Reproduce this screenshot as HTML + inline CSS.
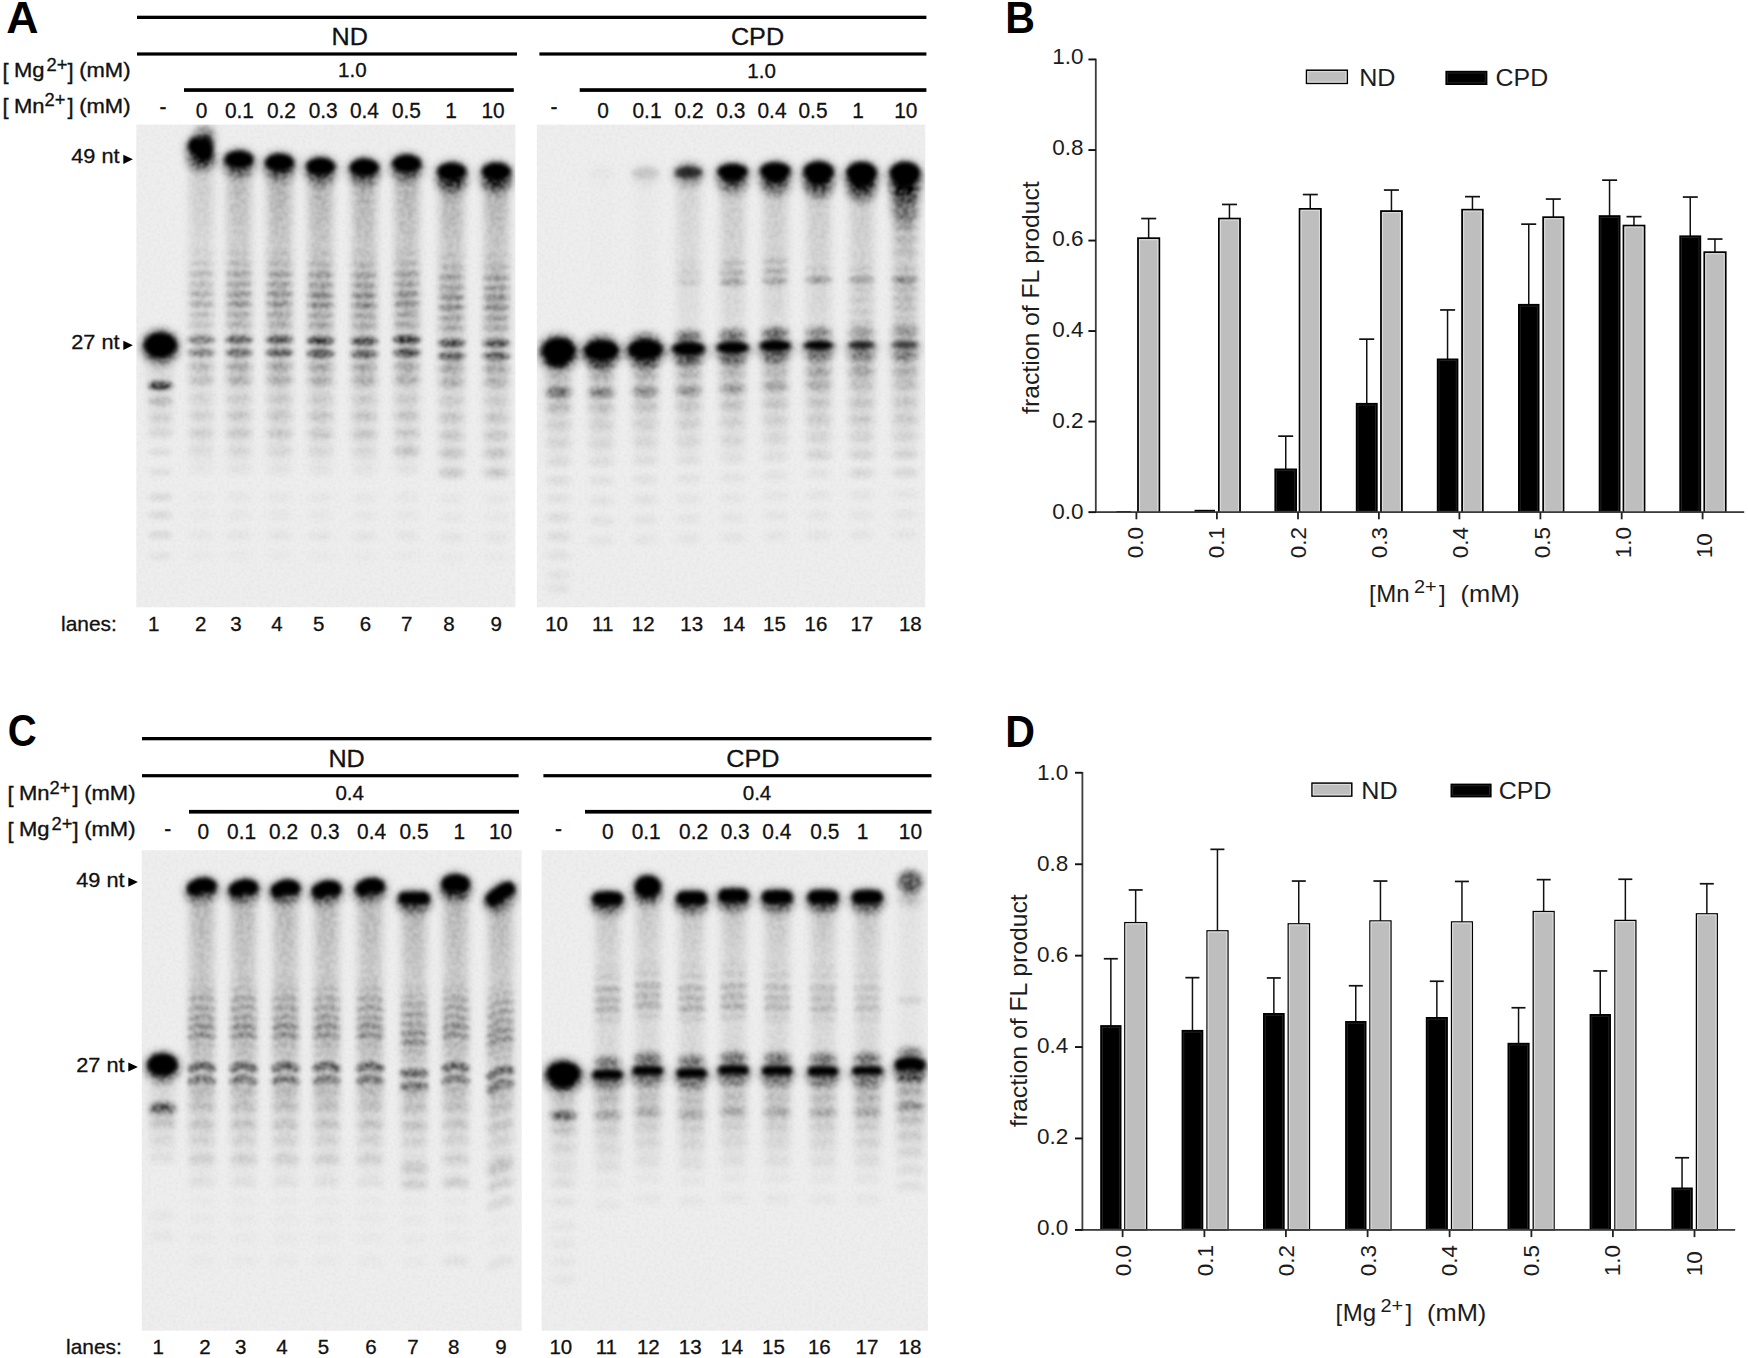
<!DOCTYPE html>
<html lang="en"><head><meta charset="utf-8"><title>Figure</title>
<style>
html,body{margin:0;padding:0;background:#fff}
svg{display:block}
text{font-family:"Liberation Sans",sans-serif}
</style></head><body>
<svg width="1748" height="1358" viewBox="0 0 1748 1358">
<rect width="1748" height="1358" fill="#fff"/>
<text transform="translate(6.3 32.8) scale(1.015 1)" font-size="44" font-weight="bold" fill="#000">A</text>
<text transform="translate(7.7 746.4) scale(0.910 1)" font-size="44" font-weight="bold" fill="#000">C</text>
<text transform="translate(1005.3 32.7) scale(0.935 1)" font-size="44" font-weight="bold" fill="#000">B</text>
<text transform="translate(1005.3 746.6) scale(0.935 1)" font-size="44" font-weight="bold" fill="#000">D</text>
<rect x="137" y="15.7" width="789.4" height="3.3" fill="#000"/>
<rect x="137" y="52.4" width="380" height="3.2" fill="#000"/>
<rect x="539.4" y="52.4" width="387" height="3.2" fill="#000"/>
<rect x="184" y="88.2" width="329.8" height="3.7" fill="#000"/>
<rect x="579.7" y="88.2" width="346.7" height="3.7" fill="#000"/>
<text transform="translate(349.8 45) scale(1.050 1)" font-size="24" text-anchor="middle" stroke="#111" stroke-width="0.3" fill="#111">ND</text>
<text transform="translate(757.5 44.6) scale(1.050 1)" font-size="24" text-anchor="middle" stroke="#111" stroke-width="0.3" fill="#111">CPD</text>
<text transform="translate(352.3 77.4) scale(0.980 1)" font-size="21" text-anchor="middle" stroke="#111" stroke-width="0.3" fill="#111">1.0</text>
<text transform="translate(761.6 77.6) scale(0.980 1)" font-size="21" text-anchor="middle" stroke="#111" stroke-width="0.3" fill="#111">1.0</text>
<text x="2.6" y="78.5" font-size="22" stroke="#111" stroke-width="0.35" fill="#111">[</text>
<text transform="translate(14 77.2) scale(1.100 1)" font-size="20" stroke="#111" stroke-width="0.35" fill="#111">Mg</text>
<text transform="translate(46.6 71) scale(1.020 1)" font-size="18" stroke="#111" stroke-width="0.3" fill="#111">2+</text>
<text x="67.6" y="78.5" font-size="22" stroke="#111" stroke-width="0.35" fill="#111">]</text>
<text transform="translate(79.2 77.2) scale(1.100 1)" font-size="20" stroke="#111" stroke-width="0.35" fill="#111">(mM)</text>
<text x="2.6" y="113.8" font-size="22" stroke="#111" stroke-width="0.35" fill="#111">[</text>
<text transform="translate(14 112.5) scale(1.100 1)" font-size="20" stroke="#111" stroke-width="0.35" fill="#111">Mn</text>
<text transform="translate(44.6 106.3) scale(1.020 1)" font-size="18" stroke="#111" stroke-width="0.3" fill="#111">2+</text>
<text x="67.6" y="113.8" font-size="22" stroke="#111" stroke-width="0.35" fill="#111">]</text>
<text transform="translate(79.2 112.5) scale(1.100 1)" font-size="20" stroke="#111" stroke-width="0.35" fill="#111">(mM)</text>
<text transform="translate(163 113.7) scale(0.950 1)" font-size="22" text-anchor="middle" stroke="#111" stroke-width="0.3" fill="#111">-</text>
<text transform="translate(201.6 117.5) scale(0.950 1)" font-size="22" text-anchor="middle" stroke="#111" stroke-width="0.3" fill="#111">0</text>
<text transform="translate(239.4 117.5) scale(0.950 1)" font-size="22" text-anchor="middle" stroke="#111" stroke-width="0.3" fill="#111">0.1</text>
<text transform="translate(281.4 117.5) scale(0.950 1)" font-size="22" text-anchor="middle" stroke="#111" stroke-width="0.3" fill="#111">0.2</text>
<text transform="translate(323.2 117.5) scale(0.950 1)" font-size="22" text-anchor="middle" stroke="#111" stroke-width="0.3" fill="#111">0.3</text>
<text transform="translate(364.4 117.5) scale(0.950 1)" font-size="22" text-anchor="middle" stroke="#111" stroke-width="0.3" fill="#111">0.4</text>
<text transform="translate(406.4 117.5) scale(0.950 1)" font-size="22" text-anchor="middle" stroke="#111" stroke-width="0.3" fill="#111">0.5</text>
<text transform="translate(451 117.5) scale(0.950 1)" font-size="22" text-anchor="middle" stroke="#111" stroke-width="0.3" fill="#111">1</text>
<text transform="translate(493 117.5) scale(0.950 1)" font-size="22" text-anchor="middle" stroke="#111" stroke-width="0.3" fill="#111">10</text>
<text transform="translate(554 113.7) scale(0.950 1)" font-size="22" text-anchor="middle" stroke="#111" stroke-width="0.3" fill="#111">-</text>
<text transform="translate(603 117.5) scale(0.950 1)" font-size="22" text-anchor="middle" stroke="#111" stroke-width="0.3" fill="#111">0</text>
<text transform="translate(647 117.5) scale(0.950 1)" font-size="22" text-anchor="middle" stroke="#111" stroke-width="0.3" fill="#111">0.1</text>
<text transform="translate(689 117.5) scale(0.950 1)" font-size="22" text-anchor="middle" stroke="#111" stroke-width="0.3" fill="#111">0.2</text>
<text transform="translate(730.8 117.5) scale(0.950 1)" font-size="22" text-anchor="middle" stroke="#111" stroke-width="0.3" fill="#111">0.3</text>
<text transform="translate(772 117.5) scale(0.950 1)" font-size="22" text-anchor="middle" stroke="#111" stroke-width="0.3" fill="#111">0.4</text>
<text transform="translate(813 117.5) scale(0.950 1)" font-size="22" text-anchor="middle" stroke="#111" stroke-width="0.3" fill="#111">0.5</text>
<text transform="translate(858 117.5) scale(0.950 1)" font-size="22" text-anchor="middle" stroke="#111" stroke-width="0.3" fill="#111">1</text>
<text transform="translate(905.8 117.5) scale(0.950 1)" font-size="22" text-anchor="middle" stroke="#111" stroke-width="0.3" fill="#111">10</text>
<text transform="translate(61 631.4) scale(1.020 1)" font-size="20.5" stroke="#111" stroke-width="0.3" fill="#111">lanes:</text>
<text x="153.7" y="631.4" font-size="20.5" text-anchor="middle" stroke="#111" stroke-width="0.3" fill="#111">1</text>
<text x="200.6" y="631.4" font-size="20.5" text-anchor="middle" stroke="#111" stroke-width="0.3" fill="#111">2</text>
<text x="236" y="631.4" font-size="20.5" text-anchor="middle" stroke="#111" stroke-width="0.3" fill="#111">3</text>
<text x="276.9" y="631.4" font-size="20.5" text-anchor="middle" stroke="#111" stroke-width="0.3" fill="#111">4</text>
<text x="318.6" y="631.4" font-size="20.5" text-anchor="middle" stroke="#111" stroke-width="0.3" fill="#111">5</text>
<text x="365.5" y="631.4" font-size="20.5" text-anchor="middle" stroke="#111" stroke-width="0.3" fill="#111">6</text>
<text x="406.8" y="631.4" font-size="20.5" text-anchor="middle" stroke="#111" stroke-width="0.3" fill="#111">7</text>
<text x="449" y="631.4" font-size="20.5" text-anchor="middle" stroke="#111" stroke-width="0.3" fill="#111">8</text>
<text x="496.3" y="631.4" font-size="20.5" text-anchor="middle" stroke="#111" stroke-width="0.3" fill="#111">9</text>
<text x="556.6" y="631.4" font-size="20.5" text-anchor="middle" stroke="#111" stroke-width="0.3" fill="#111">10</text>
<text x="602.7" y="631.4" font-size="20.5" text-anchor="middle" stroke="#111" stroke-width="0.3" fill="#111">11</text>
<text x="643.2" y="631.4" font-size="20.5" text-anchor="middle" stroke="#111" stroke-width="0.3" fill="#111">12</text>
<text x="691.7" y="631.4" font-size="20.5" text-anchor="middle" stroke="#111" stroke-width="0.3" fill="#111">13</text>
<text x="733.8" y="631.4" font-size="20.5" text-anchor="middle" stroke="#111" stroke-width="0.3" fill="#111">14</text>
<text x="774.4" y="631.4" font-size="20.5" text-anchor="middle" stroke="#111" stroke-width="0.3" fill="#111">15</text>
<text x="816" y="631.4" font-size="20.5" text-anchor="middle" stroke="#111" stroke-width="0.3" fill="#111">16</text>
<text x="861.8" y="631.4" font-size="20.5" text-anchor="middle" stroke="#111" stroke-width="0.3" fill="#111">17</text>
<text x="910.3" y="631.4" font-size="20.5" text-anchor="middle" stroke="#111" stroke-width="0.3" fill="#111">18</text>
<text transform="translate(119.5 163.1) scale(1.060 1)" font-size="20.5" text-anchor="end" stroke="#111" stroke-width="0.3" fill="#111">49 nt</text>
<path d="M123.3 154.7 l9.6 4.6 l-9.6 4.6z" fill="#000"/>
<text transform="translate(119.5 349.1) scale(1.060 1)" font-size="20.5" text-anchor="end" stroke="#111" stroke-width="0.3" fill="#111">27 nt</text>
<path d="M123.3 340.7 l9.6 4.6 l-9.6 4.6z" fill="#000"/>
<rect x="142" y="737" width="789.5" height="3.3" fill="#000"/>
<rect x="142" y="774.1" width="376.6" height="3.2" fill="#000"/>
<rect x="543.4" y="774.1" width="388.1" height="3.2" fill="#000"/>
<rect x="189" y="809.9" width="330" height="3.7" fill="#000"/>
<rect x="585" y="809.9" width="346.5" height="3.7" fill="#000"/>
<text transform="translate(346.6 766.6) scale(1.050 1)" font-size="24" text-anchor="middle" stroke="#111" stroke-width="0.3" fill="#111">ND</text>
<text transform="translate(752.8 766.6) scale(1.050 1)" font-size="24" text-anchor="middle" stroke="#111" stroke-width="0.3" fill="#111">CPD</text>
<text transform="translate(349.7 800.4) scale(0.980 1)" font-size="21" text-anchor="middle" stroke="#111" stroke-width="0.3" fill="#111">0.4</text>
<text transform="translate(757 800.4) scale(0.980 1)" font-size="21" text-anchor="middle" stroke="#111" stroke-width="0.3" fill="#111">0.4</text>
<text x="7.6" y="801.7" font-size="22" stroke="#111" stroke-width="0.35" fill="#111">[</text>
<text transform="translate(19 800.4) scale(1.100 1)" font-size="20" stroke="#111" stroke-width="0.35" fill="#111">Mn</text>
<text transform="translate(49.6 794.2) scale(1.020 1)" font-size="18" stroke="#111" stroke-width="0.3" fill="#111">2+</text>
<text x="72.6" y="801.7" font-size="22" stroke="#111" stroke-width="0.35" fill="#111">]</text>
<text transform="translate(84.2 800.4) scale(1.100 1)" font-size="20" stroke="#111" stroke-width="0.35" fill="#111">(mM)</text>
<text x="7.6" y="837.5" font-size="22" stroke="#111" stroke-width="0.35" fill="#111">[</text>
<text transform="translate(19 836.2) scale(1.100 1)" font-size="20" stroke="#111" stroke-width="0.35" fill="#111">Mg</text>
<text transform="translate(51.6 830) scale(1.020 1)" font-size="18" stroke="#111" stroke-width="0.3" fill="#111">2+</text>
<text x="72.6" y="837.5" font-size="22" stroke="#111" stroke-width="0.35" fill="#111">]</text>
<text transform="translate(84.2 836.2) scale(1.100 1)" font-size="20" stroke="#111" stroke-width="0.35" fill="#111">(mM)</text>
<text transform="translate(167.7 835.5) scale(0.950 1)" font-size="22" text-anchor="middle" stroke="#111" stroke-width="0.3" fill="#111">-</text>
<text transform="translate(203.3 839.3) scale(0.950 1)" font-size="22" text-anchor="middle" stroke="#111" stroke-width="0.3" fill="#111">0</text>
<text transform="translate(241.6 839.3) scale(0.950 1)" font-size="22" text-anchor="middle" stroke="#111" stroke-width="0.3" fill="#111">0.1</text>
<text transform="translate(283.6 839.3) scale(0.950 1)" font-size="22" text-anchor="middle" stroke="#111" stroke-width="0.3" fill="#111">0.2</text>
<text transform="translate(325 839.3) scale(0.950 1)" font-size="22" text-anchor="middle" stroke="#111" stroke-width="0.3" fill="#111">0.3</text>
<text transform="translate(371.6 839.3) scale(0.950 1)" font-size="22" text-anchor="middle" stroke="#111" stroke-width="0.3" fill="#111">0.4</text>
<text transform="translate(414 839.3) scale(0.950 1)" font-size="22" text-anchor="middle" stroke="#111" stroke-width="0.3" fill="#111">0.5</text>
<text transform="translate(459.4 839.3) scale(0.950 1)" font-size="22" text-anchor="middle" stroke="#111" stroke-width="0.3" fill="#111">1</text>
<text transform="translate(500.5 839.3) scale(0.950 1)" font-size="22" text-anchor="middle" stroke="#111" stroke-width="0.3" fill="#111">10</text>
<text transform="translate(558.5 835.5) scale(0.950 1)" font-size="22" text-anchor="middle" stroke="#111" stroke-width="0.3" fill="#111">-</text>
<text transform="translate(607.9 839.3) scale(0.950 1)" font-size="22" text-anchor="middle" stroke="#111" stroke-width="0.3" fill="#111">0</text>
<text transform="translate(646.2 839.3) scale(0.950 1)" font-size="22" text-anchor="middle" stroke="#111" stroke-width="0.3" fill="#111">0.1</text>
<text transform="translate(693.6 839.3) scale(0.950 1)" font-size="22" text-anchor="middle" stroke="#111" stroke-width="0.3" fill="#111">0.2</text>
<text transform="translate(735.2 839.3) scale(0.950 1)" font-size="22" text-anchor="middle" stroke="#111" stroke-width="0.3" fill="#111">0.3</text>
<text transform="translate(776.8 839.3) scale(0.950 1)" font-size="22" text-anchor="middle" stroke="#111" stroke-width="0.3" fill="#111">0.4</text>
<text transform="translate(824.8 839.3) scale(0.950 1)" font-size="22" text-anchor="middle" stroke="#111" stroke-width="0.3" fill="#111">0.5</text>
<text transform="translate(862.6 839.3) scale(0.950 1)" font-size="22" text-anchor="middle" stroke="#111" stroke-width="0.3" fill="#111">1</text>
<text transform="translate(910.4 839.3) scale(0.950 1)" font-size="22" text-anchor="middle" stroke="#111" stroke-width="0.3" fill="#111">10</text>
<text transform="translate(66 1353.7) scale(1.020 1)" font-size="20.5" stroke="#111" stroke-width="0.3" fill="#111">lanes:</text>
<text x="158.3" y="1353.7" font-size="20.5" text-anchor="middle" stroke="#111" stroke-width="0.3" fill="#111">1</text>
<text x="205" y="1353.7" font-size="20.5" text-anchor="middle" stroke="#111" stroke-width="0.3" fill="#111">2</text>
<text x="240.7" y="1353.7" font-size="20.5" text-anchor="middle" stroke="#111" stroke-width="0.3" fill="#111">3</text>
<text x="282" y="1353.7" font-size="20.5" text-anchor="middle" stroke="#111" stroke-width="0.3" fill="#111">4</text>
<text x="323.5" y="1353.7" font-size="20.5" text-anchor="middle" stroke="#111" stroke-width="0.3" fill="#111">5</text>
<text x="371" y="1353.7" font-size="20.5" text-anchor="middle" stroke="#111" stroke-width="0.3" fill="#111">6</text>
<text x="413" y="1353.7" font-size="20.5" text-anchor="middle" stroke="#111" stroke-width="0.3" fill="#111">7</text>
<text x="453.7" y="1353.7" font-size="20.5" text-anchor="middle" stroke="#111" stroke-width="0.3" fill="#111">8</text>
<text x="501" y="1353.7" font-size="20.5" text-anchor="middle" stroke="#111" stroke-width="0.3" fill="#111">9</text>
<text x="560.8" y="1353.7" font-size="20.5" text-anchor="middle" stroke="#111" stroke-width="0.3" fill="#111">10</text>
<text x="606.3" y="1353.7" font-size="20.5" text-anchor="middle" stroke="#111" stroke-width="0.3" fill="#111">11</text>
<text x="648.3" y="1353.7" font-size="20.5" text-anchor="middle" stroke="#111" stroke-width="0.3" fill="#111">12</text>
<text x="690.2" y="1353.7" font-size="20.5" text-anchor="middle" stroke="#111" stroke-width="0.3" fill="#111">13</text>
<text x="731.8" y="1353.7" font-size="20.5" text-anchor="middle" stroke="#111" stroke-width="0.3" fill="#111">14</text>
<text x="773.4" y="1353.7" font-size="20.5" text-anchor="middle" stroke="#111" stroke-width="0.3" fill="#111">15</text>
<text x="819.3" y="1353.7" font-size="20.5" text-anchor="middle" stroke="#111" stroke-width="0.3" fill="#111">16</text>
<text x="867" y="1353.7" font-size="20.5" text-anchor="middle" stroke="#111" stroke-width="0.3" fill="#111">17</text>
<text x="909.9" y="1353.7" font-size="20.5" text-anchor="middle" stroke="#111" stroke-width="0.3" fill="#111">18</text>
<text transform="translate(124.5 886.7) scale(1.060 1)" font-size="20.5" text-anchor="end" stroke="#111" stroke-width="0.3" fill="#111">49 nt</text>
<path d="M128.3 877.5 l9.6 4.6 l-9.6 4.6z" fill="#000"/>
<text transform="translate(124.5 1071.6) scale(1.060 1)" font-size="20.5" text-anchor="end" stroke="#111" stroke-width="0.3" fill="#111">27 nt</text>
<path d="M128.3 1062.4 l9.6 4.6 l-9.6 4.6z" fill="#000"/>
<defs>
<filter id="grain" x="0" y="0" width="100%" height="100%"><feTurbulence type="fractalNoise" baseFrequency="0.33" numOctaves="2" seed="3" result="n"/><feColorMatrix type="matrix" values="0 0 0 0 0  0 0 0 0 0  0 0 0 0 0  0.9 0 0 0 -0.32"/></filter>
<filter id="grain2" x="0" y="0" width="100%" height="100%"><feTurbulence type="fractalNoise" baseFrequency="0.3" numOctaves="2" seed="11" result="n"/><feColorMatrix type="matrix" values="0 0 0 0 0  0 0 0 0 0  0 0 0 0 0  1.6 0 0 0 -0.62" result="a"/><feGaussianBlur in="SourceGraphic" stdDeviation="3" result="m"/><feComposite in="a" in2="m" operator="in"/></filter>
</defs>
<defs>
<filter id="bSA1" filterUnits="userSpaceOnUse" x="112.3" y="100.6" width="427.1" height="530.7"><feGaussianBlur stdDeviation="4.2"/></filter>
<filter id="bMA1" filterUnits="userSpaceOnUse" x="112.3" y="100.6" width="427.1" height="530.7"><feGaussianBlur stdDeviation="2.1"/></filter>
<filter id="bKA1" filterUnits="userSpaceOnUse" x="112.3" y="100.6" width="427.1" height="530.7"><feGaussianBlur stdDeviation="2.1"/></filter>
<filter id="bHA1" filterUnits="userSpaceOnUse" x="112.3" y="100.6" width="427.1" height="530.7"><feGaussianBlur stdDeviation="4.5"/></filter>
<filter id="bLA1" filterUnits="userSpaceOnUse" x="112.3" y="100.6" width="427.1" height="530.7"><feGaussianBlur stdDeviation="3.1"/></filter>
<filter id="bFA1" filterUnits="userSpaceOnUse" x="112.3" y="100.6" width="427.1" height="530.7"><feGaussianBlur stdDeviation="1.9"/></filter>
<filter id="sgA1" filterUnits="userSpaceOnUse" x="136.3" y="124.6" width="379.1" height="482.7" color-interpolation-filters="sRGB"><feTurbulence type="fractalNoise" baseFrequency="0.23" numOctaves="2" seed="121" result="t"/><feColorMatrix in="t" type="matrix" values="0 0 0 0 0  0 0 0 0 0  0 0 0 0 0  3.2 0 0 0 -1.1" result="n0"/><feGaussianBlur in="n0" stdDeviation="0.9" result="n"/><feComposite in="SourceGraphic" in2="n" operator="arithmetic" k1="0.44" k2="0.78" k3="0" k4="0"/></filter>
</defs>
<clipPath id="cA1"><rect x="136.3" y="124.6" width="379.1" height="482.7"/></clipPath>
<rect x="136.3" y="124.6" width="379.1" height="482.7" fill="#eeeeee"/>
<g clip-path="url(#cA1)">
<g filter="url(#sgA1)">
<g filter="url(#bSA1)" fill="#000"><rect x="148.4" y="360" width="24" height="13.8" fill-opacity="0.094"/><rect x="148.4" y="373.3" width="24" height="13.8" fill-opacity="0.083"/><rect x="148.4" y="386.7" width="24" height="13.8" fill-opacity="0.071"/><rect x="148.4" y="400" width="24" height="13.8" fill-opacity="0.059"/><rect x="148.4" y="413.3" width="24" height="13.8" fill-opacity="0.047"/><rect x="148.4" y="426.7" width="24" height="13.8" fill-opacity="0.036"/><rect x="189.8" y="156.5" width="23" height="16.1" fill-opacity="0.138"/><rect x="189.8" y="172.1" width="23" height="16.1" fill-opacity="0.128"/><rect x="189.8" y="187.7" width="23" height="16.1" fill-opacity="0.118"/><rect x="189.8" y="203.2" width="23" height="16.1" fill-opacity="0.108"/><rect x="189.8" y="218.8" width="23" height="16.1" fill-opacity="0.098"/><rect x="189.8" y="234.4" width="23" height="16.1" fill-opacity="0.088"/><rect x="189.3" y="250" width="24" height="14.7" fill-opacity="0.083"/><rect x="189.3" y="264.2" width="24" height="14.7" fill-opacity="0.084"/><rect x="189.3" y="278.3" width="24" height="14.7" fill-opacity="0.085"/><rect x="189.3" y="292.5" width="24" height="14.7" fill-opacity="0.086"/><rect x="189.3" y="306.7" width="24" height="14.7" fill-opacity="0.087"/><rect x="189.3" y="320.8" width="24" height="14.7" fill-opacity="0.088"/><rect x="189.3" y="335" width="24" height="23" fill-opacity="0.062"/><rect x="189.3" y="357.5" width="24" height="23" fill-opacity="0.054"/><rect x="189.3" y="380" width="24" height="23" fill-opacity="0.047"/><rect x="189.3" y="402.5" width="24" height="23" fill-opacity="0.039"/><rect x="189.3" y="425" width="24" height="23" fill-opacity="0.032"/><rect x="189.3" y="447.5" width="24" height="23" fill-opacity="0.024"/><rect x="227.5" y="165.5" width="23" height="14.6" fill-opacity="0.213"/><rect x="227.5" y="179.6" width="23" height="14.6" fill-opacity="0.198"/><rect x="227.5" y="193.7" width="23" height="14.6" fill-opacity="0.182"/><rect x="227.5" y="207.8" width="23" height="14.6" fill-opacity="0.166"/><rect x="227.5" y="221.8" width="23" height="14.6" fill-opacity="0.151"/><rect x="227.5" y="235.9" width="23" height="14.6" fill-opacity="0.135"/><rect x="227" y="250" width="24" height="14.7" fill-opacity="0.128"/><rect x="227" y="264.2" width="24" height="14.7" fill-opacity="0.130"/><rect x="227" y="278.3" width="24" height="14.7" fill-opacity="0.131"/><rect x="227" y="292.5" width="24" height="14.7" fill-opacity="0.132"/><rect x="227" y="306.7" width="24" height="14.7" fill-opacity="0.134"/><rect x="227" y="320.8" width="24" height="14.7" fill-opacity="0.135"/><rect x="227" y="335" width="24" height="23" fill-opacity="0.095"/><rect x="227" y="357.5" width="24" height="23" fill-opacity="0.081"/><rect x="227" y="380" width="24" height="23" fill-opacity="0.068"/><rect x="227" y="402.5" width="24" height="23" fill-opacity="0.054"/><rect x="227" y="425" width="24" height="23" fill-opacity="0.041"/><rect x="227" y="447.5" width="24" height="23" fill-opacity="0.027"/><rect x="268.1" y="168.5" width="23" height="14.1" fill-opacity="0.251"/><rect x="268.1" y="182.1" width="23" height="14.1" fill-opacity="0.233"/><rect x="268.1" y="195.7" width="23" height="14.1" fill-opacity="0.214"/><rect x="268.1" y="209.2" width="23" height="14.1" fill-opacity="0.196"/><rect x="268.1" y="222.8" width="23" height="14.1" fill-opacity="0.177"/><rect x="268.1" y="236.4" width="23" height="14.1" fill-opacity="0.159"/><rect x="267.6" y="250" width="24" height="14.7" fill-opacity="0.151"/><rect x="267.6" y="264.2" width="24" height="14.7" fill-opacity="0.152"/><rect x="267.6" y="278.3" width="24" height="14.7" fill-opacity="0.154"/><rect x="267.6" y="292.5" width="24" height="14.7" fill-opacity="0.156"/><rect x="267.6" y="306.7" width="24" height="14.7" fill-opacity="0.158"/><rect x="267.6" y="320.8" width="24" height="14.7" fill-opacity="0.159"/><rect x="267.6" y="335" width="24" height="23" fill-opacity="0.112"/><rect x="267.6" y="357.5" width="24" height="23" fill-opacity="0.095"/><rect x="267.6" y="380" width="24" height="23" fill-opacity="0.078"/><rect x="267.6" y="402.5" width="24" height="23" fill-opacity="0.062"/><rect x="267.6" y="425" width="24" height="23" fill-opacity="0.045"/><rect x="267.6" y="447.5" width="24" height="23" fill-opacity="0.028"/><rect x="309.1" y="172.5" width="23" height="13.4" fill-opacity="0.251"/><rect x="309.1" y="185.4" width="23" height="13.4" fill-opacity="0.233"/><rect x="309.1" y="198.3" width="23" height="13.4" fill-opacity="0.214"/><rect x="309.1" y="211.2" width="23" height="13.4" fill-opacity="0.196"/><rect x="309.1" y="224.2" width="23" height="13.4" fill-opacity="0.177"/><rect x="309.1" y="237.1" width="23" height="13.4" fill-opacity="0.159"/><rect x="308.6" y="250" width="24" height="14.7" fill-opacity="0.151"/><rect x="308.6" y="264.2" width="24" height="14.7" fill-opacity="0.152"/><rect x="308.6" y="278.3" width="24" height="14.7" fill-opacity="0.154"/><rect x="308.6" y="292.5" width="24" height="14.7" fill-opacity="0.156"/><rect x="308.6" y="306.7" width="24" height="14.7" fill-opacity="0.158"/><rect x="308.6" y="320.8" width="24" height="14.7" fill-opacity="0.159"/><rect x="308.6" y="335" width="24" height="23" fill-opacity="0.112"/><rect x="308.6" y="357.5" width="24" height="23" fill-opacity="0.095"/><rect x="308.6" y="380" width="24" height="23" fill-opacity="0.078"/><rect x="308.6" y="402.5" width="24" height="23" fill-opacity="0.062"/><rect x="308.6" y="425" width="24" height="23" fill-opacity="0.045"/><rect x="308.6" y="447.5" width="24" height="23" fill-opacity="0.028"/><rect x="352.8" y="173.5" width="23" height="13.2" fill-opacity="0.251"/><rect x="352.8" y="186.2" width="23" height="13.2" fill-opacity="0.233"/><rect x="352.8" y="199" width="23" height="13.2" fill-opacity="0.214"/><rect x="352.8" y="211.8" width="23" height="13.2" fill-opacity="0.196"/><rect x="352.8" y="224.5" width="23" height="13.2" fill-opacity="0.177"/><rect x="352.8" y="237.2" width="23" height="13.2" fill-opacity="0.159"/><rect x="352.3" y="250" width="24" height="14.7" fill-opacity="0.151"/><rect x="352.3" y="264.2" width="24" height="14.7" fill-opacity="0.152"/><rect x="352.3" y="278.3" width="24" height="14.7" fill-opacity="0.154"/><rect x="352.3" y="292.5" width="24" height="14.7" fill-opacity="0.156"/><rect x="352.3" y="306.7" width="24" height="14.7" fill-opacity="0.158"/><rect x="352.3" y="320.8" width="24" height="14.7" fill-opacity="0.159"/><rect x="352.3" y="335" width="24" height="23" fill-opacity="0.112"/><rect x="352.3" y="357.5" width="24" height="23" fill-opacity="0.095"/><rect x="352.3" y="380" width="24" height="23" fill-opacity="0.078"/><rect x="352.3" y="402.5" width="24" height="23" fill-opacity="0.062"/><rect x="352.3" y="425" width="24" height="23" fill-opacity="0.045"/><rect x="352.3" y="447.5" width="24" height="23" fill-opacity="0.028"/><rect x="395.3" y="169.5" width="23" height="13.9" fill-opacity="0.251"/><rect x="395.3" y="182.9" width="23" height="13.9" fill-opacity="0.233"/><rect x="395.3" y="196.3" width="23" height="13.9" fill-opacity="0.214"/><rect x="395.3" y="209.8" width="23" height="13.9" fill-opacity="0.196"/><rect x="395.3" y="223.2" width="23" height="13.9" fill-opacity="0.177"/><rect x="395.3" y="236.6" width="23" height="13.9" fill-opacity="0.159"/><rect x="394.8" y="250" width="24" height="14.7" fill-opacity="0.151"/><rect x="394.8" y="264.2" width="24" height="14.7" fill-opacity="0.152"/><rect x="394.8" y="278.3" width="24" height="14.7" fill-opacity="0.154"/><rect x="394.8" y="292.5" width="24" height="14.7" fill-opacity="0.156"/><rect x="394.8" y="306.7" width="24" height="14.7" fill-opacity="0.158"/><rect x="394.8" y="320.8" width="24" height="14.7" fill-opacity="0.159"/><rect x="394.8" y="335" width="24" height="23" fill-opacity="0.112"/><rect x="394.8" y="357.5" width="24" height="23" fill-opacity="0.095"/><rect x="394.8" y="380" width="24" height="23" fill-opacity="0.078"/><rect x="394.8" y="402.5" width="24" height="23" fill-opacity="0.062"/><rect x="394.8" y="425" width="24" height="23" fill-opacity="0.045"/><rect x="394.8" y="447.5" width="24" height="23" fill-opacity="0.028"/><rect x="440.2" y="177.5" width="23" height="12.6" fill-opacity="0.251"/><rect x="440.2" y="189.6" width="23" height="12.6" fill-opacity="0.233"/><rect x="440.2" y="201.7" width="23" height="12.6" fill-opacity="0.214"/><rect x="440.2" y="213.8" width="23" height="12.6" fill-opacity="0.196"/><rect x="440.2" y="225.8" width="23" height="12.6" fill-opacity="0.177"/><rect x="440.2" y="237.9" width="23" height="12.6" fill-opacity="0.159"/><rect x="439.7" y="250" width="24" height="14.7" fill-opacity="0.151"/><rect x="439.7" y="264.2" width="24" height="14.7" fill-opacity="0.152"/><rect x="439.7" y="278.3" width="24" height="14.7" fill-opacity="0.154"/><rect x="439.7" y="292.5" width="24" height="14.7" fill-opacity="0.156"/><rect x="439.7" y="306.7" width="24" height="14.7" fill-opacity="0.158"/><rect x="439.7" y="320.8" width="24" height="14.7" fill-opacity="0.159"/><rect x="439.7" y="335" width="24" height="23" fill-opacity="0.112"/><rect x="439.7" y="357.5" width="24" height="23" fill-opacity="0.095"/><rect x="439.7" y="380" width="24" height="23" fill-opacity="0.078"/><rect x="439.7" y="402.5" width="24" height="23" fill-opacity="0.062"/><rect x="439.7" y="425" width="24" height="23" fill-opacity="0.045"/><rect x="439.7" y="447.5" width="24" height="23" fill-opacity="0.028"/><rect x="484.8" y="177.5" width="23" height="12.6" fill-opacity="0.251"/><rect x="484.8" y="189.6" width="23" height="12.6" fill-opacity="0.233"/><rect x="484.8" y="201.7" width="23" height="12.6" fill-opacity="0.214"/><rect x="484.8" y="213.8" width="23" height="12.6" fill-opacity="0.196"/><rect x="484.8" y="225.8" width="23" height="12.6" fill-opacity="0.177"/><rect x="484.8" y="237.9" width="23" height="12.6" fill-opacity="0.159"/><rect x="484.3" y="250" width="24" height="14.7" fill-opacity="0.151"/><rect x="484.3" y="264.2" width="24" height="14.7" fill-opacity="0.152"/><rect x="484.3" y="278.3" width="24" height="14.7" fill-opacity="0.154"/><rect x="484.3" y="292.5" width="24" height="14.7" fill-opacity="0.156"/><rect x="484.3" y="306.7" width="24" height="14.7" fill-opacity="0.158"/><rect x="484.3" y="320.8" width="24" height="14.7" fill-opacity="0.159"/><rect x="484.3" y="335" width="24" height="23" fill-opacity="0.112"/><rect x="484.3" y="357.5" width="24" height="23" fill-opacity="0.095"/><rect x="484.3" y="380" width="24" height="23" fill-opacity="0.078"/><rect x="484.3" y="402.5" width="24" height="23" fill-opacity="0.062"/><rect x="484.3" y="425" width="24" height="23" fill-opacity="0.045"/><rect x="484.3" y="447.5" width="24" height="23" fill-opacity="0.028"/></g>
<g filter="url(#bHA1)" fill="#000" stroke-linecap="round"><ellipse cx="160.4" cy="347.7" rx="18.2" ry="16.2" fill-opacity="0.50"/><ellipse cx="160.4" cy="346" rx="19" ry="17" fill-opacity="0.30"/><path fill="none" stroke="#000" d="M197.8 148.5 Q200.3 152 202.8 155.5" stroke-width="24" stroke-opacity="0.50"/><ellipse cx="204.3" cy="138" rx="10" ry="12" fill-opacity="0.50"/><ellipse cx="201.3" cy="161" rx="13.5" ry="9" fill-opacity="0.55"/><ellipse cx="239" cy="162" rx="16.5" ry="12.5" fill-opacity="0.50"/><ellipse cx="239" cy="169.5" rx="13.5" ry="8" fill-opacity="0.30"/><ellipse cx="279.6" cy="165" rx="16.5" ry="12.5" fill-opacity="0.50"/><ellipse cx="279.6" cy="172.5" rx="13.5" ry="8" fill-opacity="0.30"/><ellipse cx="320.6" cy="169" rx="16.5" ry="12.5" fill-opacity="0.50"/><ellipse cx="320.6" cy="176.5" rx="13.5" ry="8" fill-opacity="0.30"/><ellipse cx="364.3" cy="170" rx="16.5" ry="12.5" fill-opacity="0.50"/><ellipse cx="364.3" cy="177.5" rx="13.5" ry="8" fill-opacity="0.30"/><ellipse cx="406.8" cy="166" rx="16.5" ry="12.5" fill-opacity="0.50"/><ellipse cx="406.8" cy="173.5" rx="13.5" ry="8" fill-opacity="0.30"/><ellipse cx="451.7" cy="174" rx="16.5" ry="12.5" fill-opacity="0.50"/><ellipse cx="451.7" cy="181.5" rx="13.5" ry="8" fill-opacity="0.30"/><ellipse cx="451.7" cy="183.5" rx="14" ry="9" fill-opacity="0.50"/><ellipse cx="496.3" cy="174" rx="16.5" ry="12.5" fill-opacity="0.50"/><ellipse cx="496.3" cy="181.5" rx="13.5" ry="8" fill-opacity="0.30"/><ellipse cx="496.3" cy="183.5" rx="14" ry="9" fill-opacity="0.50"/></g>
<g filter="url(#bMA1)" fill="#000" stroke-linecap="round"><ellipse cx="160.4" cy="385.6" rx="12.5" ry="4.2" fill-opacity="0.72"/><ellipse cx="160.4" cy="401.4" rx="12.5" ry="4.2" fill-opacity="0.16"/><ellipse cx="160.4" cy="418" rx="12.5" ry="4.2" fill-opacity="0.07"/><ellipse cx="160.4" cy="433" rx="12.5" ry="4.2" fill-opacity="0.06"/><ellipse cx="160.4" cy="452" rx="12.5" ry="4.2" fill-opacity="0.06"/><ellipse cx="160.4" cy="472" rx="12.5" ry="4.2" fill-opacity="0.05"/><ellipse cx="160.4" cy="497" rx="12.5" ry="4.2" fill-opacity="0.07"/><ellipse cx="160.4" cy="515" rx="12.5" ry="4.2" fill-opacity="0.07"/><ellipse cx="160.4" cy="535" rx="12.5" ry="4.2" fill-opacity="0.07"/><ellipse cx="160.4" cy="556" rx="12.5" ry="4.2" fill-opacity="0.04"/><ellipse cx="201.3" cy="253" rx="13.5" ry="2.8" fill-opacity="0.03"/><ellipse cx="201.3" cy="263.5" rx="13.5" ry="2.8" fill-opacity="0.08"/><ellipse cx="201.3" cy="274" rx="13.5" ry="2.8" fill-opacity="0.16"/><ellipse cx="201.3" cy="284.3" rx="13.5" ry="2.8" fill-opacity="0.16"/><ellipse cx="201.3" cy="294" rx="13.5" ry="2.8" fill-opacity="0.22"/><ellipse cx="201.3" cy="304" rx="13.5" ry="2.8" fill-opacity="0.22"/><ellipse cx="201.3" cy="314.5" rx="13.5" ry="2.8" fill-opacity="0.13"/><ellipse cx="201.3" cy="324.5" rx="13.5" ry="2.8" fill-opacity="0.11"/><ellipse cx="201.3" cy="339.7" rx="14" ry="4.2" fill-opacity="0.43"/><ellipse cx="201.3" cy="352.7" rx="14" ry="4.2" fill-opacity="0.40"/><ellipse cx="239" cy="253" rx="13.5" ry="2.8" fill-opacity="0.05"/><ellipse cx="239" cy="263.5" rx="13.5" ry="2.8" fill-opacity="0.12"/><ellipse cx="239" cy="274" rx="13.5" ry="2.8" fill-opacity="0.23"/><ellipse cx="239" cy="284.3" rx="13.5" ry="2.8" fill-opacity="0.23"/><ellipse cx="239" cy="294" rx="13.5" ry="2.8" fill-opacity="0.32"/><ellipse cx="239" cy="304" rx="13.5" ry="2.8" fill-opacity="0.32"/><ellipse cx="239" cy="314.5" rx="13.5" ry="2.8" fill-opacity="0.20"/><ellipse cx="239" cy="324.5" rx="13.5" ry="2.8" fill-opacity="0.16"/><ellipse cx="239" cy="339.7" rx="14" ry="4.2" fill-opacity="0.53"/><ellipse cx="239" cy="352.7" rx="14" ry="4.2" fill-opacity="0.48"/><ellipse cx="279.6" cy="253" rx="13.5" ry="2.8" fill-opacity="0.05"/><ellipse cx="279.6" cy="263.5" rx="13.5" ry="2.8" fill-opacity="0.12"/><ellipse cx="279.6" cy="274" rx="13.5" ry="2.8" fill-opacity="0.25"/><ellipse cx="279.6" cy="284.3" rx="13.5" ry="2.8" fill-opacity="0.25"/><ellipse cx="279.6" cy="294" rx="13.5" ry="2.8" fill-opacity="0.34"/><ellipse cx="279.6" cy="304" rx="13.5" ry="2.8" fill-opacity="0.34"/><ellipse cx="279.6" cy="314.5" rx="13.5" ry="2.8" fill-opacity="0.21"/><ellipse cx="279.6" cy="324.5" rx="13.5" ry="2.8" fill-opacity="0.17"/><ellipse cx="279.6" cy="339.7" rx="14" ry="4.2" fill-opacity="0.57"/><ellipse cx="279.6" cy="352.7" rx="14" ry="4.2" fill-opacity="0.52"/><ellipse cx="320.6" cy="254" rx="13.5" ry="2.8" fill-opacity="0.06"/><ellipse cx="320.6" cy="264.5" rx="13.5" ry="2.8" fill-opacity="0.14"/><ellipse cx="320.6" cy="275" rx="13.5" ry="2.8" fill-opacity="0.29"/><ellipse cx="320.6" cy="285.3" rx="13.5" ry="2.8" fill-opacity="0.29"/><ellipse cx="320.6" cy="295" rx="13.5" ry="2.8" fill-opacity="0.40"/><ellipse cx="320.6" cy="305" rx="13.5" ry="2.8" fill-opacity="0.40"/><ellipse cx="320.6" cy="315.5" rx="13.5" ry="2.8" fill-opacity="0.24"/><ellipse cx="320.6" cy="325.5" rx="13.5" ry="2.8" fill-opacity="0.20"/><ellipse cx="320.6" cy="340.7" rx="14" ry="4.2" fill-opacity="0.66"/><ellipse cx="320.6" cy="353.7" rx="14" ry="4.2" fill-opacity="0.61"/><ellipse cx="364.3" cy="254.5" rx="13.5" ry="2.8" fill-opacity="0.05"/><ellipse cx="364.3" cy="265" rx="13.5" ry="2.8" fill-opacity="0.14"/><ellipse cx="364.3" cy="275.5" rx="13.5" ry="2.8" fill-opacity="0.27"/><ellipse cx="364.3" cy="285.8" rx="13.5" ry="2.8" fill-opacity="0.27"/><ellipse cx="364.3" cy="295.5" rx="13.5" ry="2.8" fill-opacity="0.38"/><ellipse cx="364.3" cy="305.5" rx="13.5" ry="2.8" fill-opacity="0.38"/><ellipse cx="364.3" cy="316" rx="13.5" ry="2.8" fill-opacity="0.23"/><ellipse cx="364.3" cy="326" rx="13.5" ry="2.8" fill-opacity="0.19"/><ellipse cx="364.3" cy="341.2" rx="14" ry="4.2" fill-opacity="0.60"/><ellipse cx="364.3" cy="354.2" rx="14" ry="4.2" fill-opacity="0.55"/><ellipse cx="406.8" cy="253" rx="13.5" ry="2.8" fill-opacity="0.05"/><ellipse cx="406.8" cy="263.5" rx="13.5" ry="2.8" fill-opacity="0.13"/><ellipse cx="406.8" cy="274" rx="13.5" ry="2.8" fill-opacity="0.26"/><ellipse cx="406.8" cy="284.3" rx="13.5" ry="2.8" fill-opacity="0.26"/><ellipse cx="406.8" cy="294" rx="13.5" ry="2.8" fill-opacity="0.36"/><ellipse cx="406.8" cy="304" rx="13.5" ry="2.8" fill-opacity="0.36"/><ellipse cx="406.8" cy="314.5" rx="13.5" ry="2.8" fill-opacity="0.22"/><ellipse cx="406.8" cy="324.5" rx="13.5" ry="2.8" fill-opacity="0.18"/><ellipse cx="406.8" cy="339.7" rx="14" ry="4.2" fill-opacity="0.69"/><ellipse cx="406.8" cy="352.7" rx="14" ry="4.2" fill-opacity="0.63"/><ellipse cx="451.7" cy="256.5" rx="13.5" ry="2.8" fill-opacity="0.05"/><ellipse cx="451.7" cy="267" rx="13.5" ry="2.8" fill-opacity="0.13"/><ellipse cx="451.7" cy="277.5" rx="13.5" ry="2.8" fill-opacity="0.26"/><ellipse cx="451.7" cy="287.8" rx="13.5" ry="2.8" fill-opacity="0.26"/><ellipse cx="451.7" cy="297.5" rx="13.5" ry="2.8" fill-opacity="0.36"/><ellipse cx="451.7" cy="307.5" rx="13.5" ry="2.8" fill-opacity="0.36"/><ellipse cx="451.7" cy="318" rx="13.5" ry="2.8" fill-opacity="0.22"/><ellipse cx="451.7" cy="328" rx="13.5" ry="2.8" fill-opacity="0.18"/><ellipse cx="451.7" cy="343.2" rx="14" ry="4.2" fill-opacity="0.60"/><ellipse cx="451.7" cy="356.2" rx="14" ry="4.2" fill-opacity="0.55"/><ellipse cx="496.3" cy="256.5" rx="13.5" ry="2.8" fill-opacity="0.06"/><ellipse cx="496.3" cy="267" rx="13.5" ry="2.8" fill-opacity="0.15"/><ellipse cx="496.3" cy="277.5" rx="13.5" ry="2.8" fill-opacity="0.30"/><ellipse cx="496.3" cy="287.8" rx="13.5" ry="2.8" fill-opacity="0.30"/><ellipse cx="496.3" cy="297.5" rx="13.5" ry="2.8" fill-opacity="0.41"/><ellipse cx="496.3" cy="307.5" rx="13.5" ry="2.8" fill-opacity="0.41"/><ellipse cx="496.3" cy="318" rx="13.5" ry="2.8" fill-opacity="0.25"/><ellipse cx="496.3" cy="328" rx="13.5" ry="2.8" fill-opacity="0.21"/><ellipse cx="496.3" cy="343.2" rx="14" ry="4.2" fill-opacity="0.60"/><ellipse cx="496.3" cy="356.2" rx="14" ry="4.2" fill-opacity="0.55"/></g>
<g filter="url(#bFA1)" fill="#000" stroke-linecap="round"></g>
<g filter="url(#bLA1)" fill="#000" stroke-linecap="round"><ellipse cx="201.3" cy="366.7" rx="13" ry="4.5" fill-opacity="0.20"/><ellipse cx="201.3" cy="380.3" rx="13" ry="4.5" fill-opacity="0.17"/><ellipse cx="201.3" cy="399" rx="13" ry="4.5" fill-opacity="0.07"/><ellipse cx="201.3" cy="415.6" rx="13" ry="4.5" fill-opacity="0.09"/><ellipse cx="201.3" cy="433.4" rx="13" ry="4.5" fill-opacity="0.11"/><ellipse cx="201.3" cy="451.2" rx="13" ry="4.5" fill-opacity="0.05"/><ellipse cx="201.3" cy="471" rx="13" ry="4.5" fill-opacity="0.02"/><ellipse cx="201.3" cy="497" rx="13" ry="4.5" fill-opacity="0.02"/><ellipse cx="201.3" cy="515" rx="13" ry="4.5" fill-opacity="0.02"/><ellipse cx="201.3" cy="535.3" rx="13" ry="4.5" fill-opacity="0.03"/><ellipse cx="201.3" cy="555.5" rx="13" ry="4.5" fill-opacity="0.02"/><ellipse cx="239" cy="366.7" rx="13" ry="4.5" fill-opacity="0.27"/><ellipse cx="239" cy="380.3" rx="13" ry="4.5" fill-opacity="0.23"/><ellipse cx="239" cy="399" rx="13" ry="4.5" fill-opacity="0.09"/><ellipse cx="239" cy="415.6" rx="13" ry="4.5" fill-opacity="0.13"/><ellipse cx="239" cy="433.4" rx="13" ry="4.5" fill-opacity="0.14"/><ellipse cx="239" cy="451.2" rx="13" ry="4.5" fill-opacity="0.07"/><ellipse cx="239" cy="471" rx="13" ry="4.5" fill-opacity="0.03"/><ellipse cx="239" cy="497" rx="13" ry="4.5" fill-opacity="0.03"/><ellipse cx="239" cy="515" rx="13" ry="4.5" fill-opacity="0.03"/><ellipse cx="239" cy="535.3" rx="13" ry="4.5" fill-opacity="0.04"/><ellipse cx="239" cy="555.5" rx="13" ry="4.5" fill-opacity="0.02"/><ellipse cx="279.6" cy="366.7" rx="13" ry="4.5" fill-opacity="0.27"/><ellipse cx="279.6" cy="380.3" rx="13" ry="4.5" fill-opacity="0.23"/><ellipse cx="279.6" cy="399" rx="13" ry="4.5" fill-opacity="0.09"/><ellipse cx="279.6" cy="415.6" rx="13" ry="4.5" fill-opacity="0.13"/><ellipse cx="279.6" cy="433.4" rx="13" ry="4.5" fill-opacity="0.14"/><ellipse cx="279.6" cy="451.2" rx="13" ry="4.5" fill-opacity="0.07"/><ellipse cx="279.6" cy="471" rx="13" ry="4.5" fill-opacity="0.03"/><ellipse cx="279.6" cy="497" rx="13" ry="4.5" fill-opacity="0.03"/><ellipse cx="279.6" cy="515" rx="13" ry="4.5" fill-opacity="0.03"/><ellipse cx="279.6" cy="535.3" rx="13" ry="4.5" fill-opacity="0.04"/><ellipse cx="279.6" cy="555.5" rx="13" ry="4.5" fill-opacity="0.02"/><ellipse cx="320.6" cy="367.3" rx="13" ry="4.5" fill-opacity="0.27"/><ellipse cx="320.6" cy="380.9" rx="13" ry="4.5" fill-opacity="0.23"/><ellipse cx="320.6" cy="399.6" rx="13" ry="4.5" fill-opacity="0.09"/><ellipse cx="320.6" cy="416.2" rx="13" ry="4.5" fill-opacity="0.13"/><ellipse cx="320.6" cy="434" rx="13" ry="4.5" fill-opacity="0.14"/><ellipse cx="320.6" cy="451.8" rx="13" ry="4.5" fill-opacity="0.07"/><ellipse cx="320.6" cy="471.6" rx="13" ry="4.5" fill-opacity="0.03"/><ellipse cx="320.6" cy="497.6" rx="13" ry="4.5" fill-opacity="0.03"/><ellipse cx="320.6" cy="515.6" rx="13" ry="4.5" fill-opacity="0.03"/><ellipse cx="320.6" cy="535.9" rx="13" ry="4.5" fill-opacity="0.04"/><ellipse cx="320.6" cy="556.1" rx="13" ry="4.5" fill-opacity="0.02"/><ellipse cx="364.3" cy="367.6" rx="13" ry="4.5" fill-opacity="0.27"/><ellipse cx="364.3" cy="381.2" rx="13" ry="4.5" fill-opacity="0.23"/><ellipse cx="364.3" cy="399.9" rx="13" ry="4.5" fill-opacity="0.09"/><ellipse cx="364.3" cy="416.5" rx="13" ry="4.5" fill-opacity="0.13"/><ellipse cx="364.3" cy="434.3" rx="13" ry="4.5" fill-opacity="0.14"/><ellipse cx="364.3" cy="452.1" rx="13" ry="4.5" fill-opacity="0.07"/><ellipse cx="364.3" cy="471.9" rx="13" ry="4.5" fill-opacity="0.03"/><ellipse cx="364.3" cy="497.9" rx="13" ry="4.5" fill-opacity="0.03"/><ellipse cx="364.3" cy="515.9" rx="13" ry="4.5" fill-opacity="0.03"/><ellipse cx="364.3" cy="536.2" rx="13" ry="4.5" fill-opacity="0.04"/><ellipse cx="364.3" cy="556.4" rx="13" ry="4.5" fill-opacity="0.02"/><ellipse cx="406.8" cy="366.7" rx="13" ry="4.5" fill-opacity="0.27"/><ellipse cx="406.8" cy="380.3" rx="13" ry="4.5" fill-opacity="0.23"/><ellipse cx="406.8" cy="399" rx="13" ry="4.5" fill-opacity="0.09"/><ellipse cx="406.8" cy="415.6" rx="13" ry="4.5" fill-opacity="0.13"/><ellipse cx="406.8" cy="433.4" rx="13" ry="4.5" fill-opacity="0.14"/><ellipse cx="406.8" cy="451.2" rx="13" ry="4.5" fill-opacity="0.17"/><ellipse cx="406.8" cy="471" rx="13" ry="4.5" fill-opacity="0.03"/><ellipse cx="406.8" cy="497" rx="13" ry="4.5" fill-opacity="0.03"/><ellipse cx="406.8" cy="515" rx="13" ry="4.5" fill-opacity="0.03"/><ellipse cx="406.8" cy="535.3" rx="13" ry="4.5" fill-opacity="0.04"/><ellipse cx="406.8" cy="555.5" rx="13" ry="4.5" fill-opacity="0.02"/><ellipse cx="451.7" cy="368.8" rx="13" ry="4.5" fill-opacity="0.27"/><ellipse cx="451.7" cy="382.4" rx="13" ry="4.5" fill-opacity="0.23"/><ellipse cx="451.7" cy="401.1" rx="13" ry="4.5" fill-opacity="0.09"/><ellipse cx="451.7" cy="417.7" rx="13" ry="4.5" fill-opacity="0.13"/><ellipse cx="451.7" cy="435.5" rx="13" ry="4.5" fill-opacity="0.14"/><ellipse cx="451.7" cy="453.3" rx="13" ry="4.5" fill-opacity="0.17"/><ellipse cx="451.7" cy="473.1" rx="13" ry="4.5" fill-opacity="0.17"/><ellipse cx="451.7" cy="499.1" rx="13" ry="4.5" fill-opacity="0.03"/><ellipse cx="451.7" cy="517.1" rx="13" ry="4.5" fill-opacity="0.03"/><ellipse cx="451.7" cy="537.4" rx="13" ry="4.5" fill-opacity="0.04"/><ellipse cx="451.7" cy="557.6" rx="13" ry="4.5" fill-opacity="0.02"/><ellipse cx="496.3" cy="368.8" rx="13" ry="4.5" fill-opacity="0.27"/><ellipse cx="496.3" cy="382.4" rx="13" ry="4.5" fill-opacity="0.23"/><ellipse cx="496.3" cy="401.1" rx="13" ry="4.5" fill-opacity="0.09"/><ellipse cx="496.3" cy="417.7" rx="13" ry="4.5" fill-opacity="0.13"/><ellipse cx="496.3" cy="435.5" rx="13" ry="4.5" fill-opacity="0.14"/><ellipse cx="496.3" cy="453.3" rx="13" ry="4.5" fill-opacity="0.17"/><ellipse cx="496.3" cy="473.1" rx="13" ry="4.5" fill-opacity="0.17"/><ellipse cx="496.3" cy="499.1" rx="13" ry="4.5" fill-opacity="0.03"/><ellipse cx="496.3" cy="517.1" rx="13" ry="4.5" fill-opacity="0.03"/><ellipse cx="496.3" cy="537.4" rx="13" ry="4.5" fill-opacity="0.04"/><ellipse cx="496.3" cy="557.6" rx="13" ry="4.5" fill-opacity="0.02"/></g>
</g>
<g filter="url(#bKA1)" fill="#000" stroke-linecap="round"><ellipse cx="160.4" cy="345.2" rx="16.2" ry="12.8" fill-opacity="1.00"/><ellipse cx="160.4" cy="345.2" rx="14.2" ry="10.8" fill-opacity="1.00"/><path fill="none" stroke="#000" d="M196.3 146 Q200.3 149.5 204.3 153" stroke-width="17" stroke-opacity="1.00"/><path fill="none" stroke="#000" d="M196.3 146 Q200.3 149.5 204.3 153" stroke-width="13" stroke-opacity="1.00"/><ellipse cx="205.3" cy="146" rx="8" ry="10" fill-opacity="0.90"/><ellipse cx="239" cy="159.5" rx="14.5" ry="9" fill-opacity="1.00"/><ellipse cx="239" cy="159.5" rx="12.5" ry="7" fill-opacity="1.00"/><ellipse cx="279.6" cy="162.5" rx="14.5" ry="9" fill-opacity="1.00"/><ellipse cx="279.6" cy="162.5" rx="12.5" ry="7" fill-opacity="1.00"/><ellipse cx="320.6" cy="166.5" rx="14.5" ry="9" fill-opacity="1.00"/><ellipse cx="320.6" cy="166.5" rx="12.5" ry="7" fill-opacity="1.00"/><ellipse cx="364.3" cy="167.5" rx="14.5" ry="9" fill-opacity="1.00"/><ellipse cx="364.3" cy="167.5" rx="12.5" ry="7" fill-opacity="1.00"/><ellipse cx="406.8" cy="163.5" rx="14.5" ry="9" fill-opacity="1.00"/><ellipse cx="406.8" cy="163.5" rx="12.5" ry="7" fill-opacity="1.00"/><ellipse cx="451.7" cy="171.5" rx="14.5" ry="9" fill-opacity="1.00"/><ellipse cx="451.7" cy="171.5" rx="12.5" ry="7" fill-opacity="1.00"/><ellipse cx="496.3" cy="171.5" rx="14.5" ry="9" fill-opacity="1.00"/><ellipse cx="496.3" cy="171.5" rx="12.5" ry="7" fill-opacity="1.00"/></g>
<rect x="136.3" y="124.6" width="379.1" height="482.7" filter="url(#grain)" opacity="0.06"/>
</g>
<defs>
<filter id="bSA2" filterUnits="userSpaceOnUse" x="512.8" y="100.6" width="436.5" height="530.7"><feGaussianBlur stdDeviation="4.2"/></filter>
<filter id="bMA2" filterUnits="userSpaceOnUse" x="512.8" y="100.6" width="436.5" height="530.7"><feGaussianBlur stdDeviation="2.1"/></filter>
<filter id="bKA2" filterUnits="userSpaceOnUse" x="512.8" y="100.6" width="436.5" height="530.7"><feGaussianBlur stdDeviation="2.1"/></filter>
<filter id="bHA2" filterUnits="userSpaceOnUse" x="512.8" y="100.6" width="436.5" height="530.7"><feGaussianBlur stdDeviation="4.5"/></filter>
<filter id="bLA2" filterUnits="userSpaceOnUse" x="512.8" y="100.6" width="436.5" height="530.7"><feGaussianBlur stdDeviation="3.1"/></filter>
<filter id="bFA2" filterUnits="userSpaceOnUse" x="512.8" y="100.6" width="436.5" height="530.7"><feGaussianBlur stdDeviation="1.9"/></filter>
<filter id="sgA2" filterUnits="userSpaceOnUse" x="536.8" y="124.6" width="388.5" height="482.7" color-interpolation-filters="sRGB"><feTurbulence type="fractalNoise" baseFrequency="0.23" numOctaves="2" seed="122" result="t"/><feColorMatrix in="t" type="matrix" values="0 0 0 0 0  0 0 0 0 0  0 0 0 0 0  3.2 0 0 0 -1.1" result="n0"/><feGaussianBlur in="n0" stdDeviation="0.9" result="n"/><feComposite in="SourceGraphic" in2="n" operator="arithmetic" k1="0.44" k2="0.78" k3="0" k4="0"/></filter>
</defs>
<clipPath id="cA2"><rect x="536.8" y="124.6" width="388.5" height="482.7"/></clipPath>
<rect x="536.8" y="124.6" width="388.5" height="482.7" fill="#eeeeee"/>
<g clip-path="url(#cA2)">
<g filter="url(#sgA2)">
<g filter="url(#bSA2)" fill="#000"><rect x="546.6" y="358.5" width="24" height="17.5" fill-opacity="0.130"/><rect x="546.6" y="375.5" width="24" height="17.5" fill-opacity="0.110"/><rect x="546.6" y="392.5" width="24" height="17.5" fill-opacity="0.090"/><rect x="546.6" y="409.5" width="24" height="17.5" fill-opacity="0.070"/><rect x="546.6" y="426.5" width="24" height="17.5" fill-opacity="0.050"/><rect x="546.6" y="443.5" width="24" height="17.5" fill-opacity="0.030"/><rect x="589.4" y="358.5" width="24" height="17.5" fill-opacity="0.130"/><rect x="589.4" y="375.5" width="24" height="17.5" fill-opacity="0.110"/><rect x="589.4" y="392.5" width="24" height="17.5" fill-opacity="0.090"/><rect x="589.4" y="409.5" width="24" height="17.5" fill-opacity="0.070"/><rect x="589.4" y="426.5" width="24" height="17.5" fill-opacity="0.050"/><rect x="589.4" y="443.5" width="24" height="17.5" fill-opacity="0.030"/><rect x="589.9" y="182" width="23" height="26" fill-opacity="0.002"/><rect x="589.9" y="207.5" width="23" height="26" fill-opacity="0.002"/><rect x="589.9" y="233" width="23" height="26" fill-opacity="0.002"/><rect x="589.9" y="258.5" width="23" height="26" fill-opacity="0.002"/><rect x="589.9" y="284" width="23" height="26" fill-opacity="0.001"/><rect x="589.9" y="309.5" width="23" height="26" fill-opacity="0.001"/><rect x="633.3" y="357.5" width="24" height="17.5" fill-opacity="0.130"/><rect x="633.3" y="374.5" width="24" height="17.5" fill-opacity="0.110"/><rect x="633.3" y="391.5" width="24" height="17.5" fill-opacity="0.090"/><rect x="633.3" y="408.5" width="24" height="17.5" fill-opacity="0.070"/><rect x="633.3" y="425.5" width="24" height="17.5" fill-opacity="0.050"/><rect x="633.3" y="442.5" width="24" height="17.5" fill-opacity="0.030"/><rect x="633.8" y="182" width="23" height="26" fill-opacity="0.014"/><rect x="633.8" y="207.5" width="23" height="26" fill-opacity="0.013"/><rect x="633.8" y="233" width="23" height="26" fill-opacity="0.011"/><rect x="633.8" y="258.5" width="23" height="26" fill-opacity="0.010"/><rect x="633.8" y="284" width="23" height="26" fill-opacity="0.009"/><rect x="633.8" y="309.5" width="23" height="26" fill-opacity="0.008"/><rect x="676.6" y="356.8" width="24" height="17.5" fill-opacity="0.130"/><rect x="676.6" y="373.8" width="24" height="17.5" fill-opacity="0.110"/><rect x="676.6" y="390.8" width="24" height="17.5" fill-opacity="0.090"/><rect x="676.6" y="407.8" width="24" height="17.5" fill-opacity="0.070"/><rect x="676.6" y="424.8" width="24" height="17.5" fill-opacity="0.050"/><rect x="676.6" y="441.8" width="24" height="17.5" fill-opacity="0.030"/><rect x="677.1" y="182" width="23" height="26" fill-opacity="0.097"/><rect x="677.1" y="207.5" width="23" height="26" fill-opacity="0.088"/><rect x="677.1" y="233" width="23" height="26" fill-opacity="0.080"/><rect x="677.1" y="258.5" width="23" height="26" fill-opacity="0.071"/><rect x="677.1" y="284" width="23" height="26" fill-opacity="0.062"/><rect x="677.1" y="309.5" width="23" height="26" fill-opacity="0.053"/><rect x="720.6" y="355.5" width="24" height="17.5" fill-opacity="0.130"/><rect x="720.6" y="372.5" width="24" height="17.5" fill-opacity="0.110"/><rect x="720.6" y="389.5" width="24" height="17.5" fill-opacity="0.090"/><rect x="720.6" y="406.5" width="24" height="17.5" fill-opacity="0.070"/><rect x="720.6" y="423.5" width="24" height="17.5" fill-opacity="0.050"/><rect x="720.6" y="440.5" width="24" height="17.5" fill-opacity="0.030"/><rect x="721.1" y="182" width="23" height="26" fill-opacity="0.139"/><rect x="721.1" y="207.5" width="23" height="26" fill-opacity="0.126"/><rect x="721.1" y="233" width="23" height="26" fill-opacity="0.114"/><rect x="721.1" y="258.5" width="23" height="26" fill-opacity="0.101"/><rect x="721.1" y="284" width="23" height="26" fill-opacity="0.089"/><rect x="721.1" y="309.5" width="23" height="26" fill-opacity="0.076"/><rect x="763.3" y="353.7" width="24" height="17.5" fill-opacity="0.130"/><rect x="763.3" y="370.7" width="24" height="17.5" fill-opacity="0.110"/><rect x="763.3" y="387.7" width="24" height="17.5" fill-opacity="0.090"/><rect x="763.3" y="404.7" width="24" height="17.5" fill-opacity="0.070"/><rect x="763.3" y="421.7" width="24" height="17.5" fill-opacity="0.050"/><rect x="763.3" y="438.7" width="24" height="17.5" fill-opacity="0.030"/><rect x="763.8" y="182" width="23" height="26" fill-opacity="0.139"/><rect x="763.8" y="207.5" width="23" height="26" fill-opacity="0.126"/><rect x="763.8" y="233" width="23" height="26" fill-opacity="0.114"/><rect x="763.8" y="258.5" width="23" height="26" fill-opacity="0.101"/><rect x="763.8" y="284" width="23" height="26" fill-opacity="0.089"/><rect x="763.8" y="309.5" width="23" height="26" fill-opacity="0.076"/><rect x="806.6" y="353.3" width="24" height="17.5" fill-opacity="0.130"/><rect x="806.6" y="370.3" width="24" height="17.5" fill-opacity="0.110"/><rect x="806.6" y="387.3" width="24" height="17.5" fill-opacity="0.090"/><rect x="806.6" y="404.3" width="24" height="17.5" fill-opacity="0.070"/><rect x="806.6" y="421.3" width="24" height="17.5" fill-opacity="0.050"/><rect x="806.6" y="438.3" width="24" height="17.5" fill-opacity="0.030"/><rect x="807.1" y="182" width="23" height="26" fill-opacity="0.139"/><rect x="807.1" y="207.5" width="23" height="26" fill-opacity="0.126"/><rect x="807.1" y="233" width="23" height="26" fill-opacity="0.114"/><rect x="807.1" y="258.5" width="23" height="26" fill-opacity="0.101"/><rect x="807.1" y="284" width="23" height="26" fill-opacity="0.089"/><rect x="807.1" y="309.5" width="23" height="26" fill-opacity="0.076"/><rect x="849.6" y="353" width="24" height="17.5" fill-opacity="0.130"/><rect x="849.6" y="370" width="24" height="17.5" fill-opacity="0.110"/><rect x="849.6" y="387" width="24" height="17.5" fill-opacity="0.090"/><rect x="849.6" y="404" width="24" height="17.5" fill-opacity="0.070"/><rect x="849.6" y="421" width="24" height="17.5" fill-opacity="0.050"/><rect x="849.6" y="438" width="24" height="17.5" fill-opacity="0.030"/><rect x="850.1" y="182" width="23" height="26" fill-opacity="0.139"/><rect x="850.1" y="207.5" width="23" height="26" fill-opacity="0.126"/><rect x="850.1" y="233" width="23" height="26" fill-opacity="0.114"/><rect x="850.1" y="258.5" width="23" height="26" fill-opacity="0.101"/><rect x="850.1" y="284" width="23" height="26" fill-opacity="0.089"/><rect x="850.1" y="309.5" width="23" height="26" fill-opacity="0.076"/><rect x="893" y="352.6" width="24" height="17.5" fill-opacity="0.130"/><rect x="893" y="369.6" width="24" height="17.5" fill-opacity="0.110"/><rect x="893" y="386.6" width="24" height="17.5" fill-opacity="0.090"/><rect x="893" y="403.6" width="24" height="17.5" fill-opacity="0.070"/><rect x="893" y="420.6" width="24" height="17.5" fill-opacity="0.050"/><rect x="893" y="437.6" width="24" height="17.5" fill-opacity="0.030"/><rect x="893.5" y="182" width="23" height="26" fill-opacity="0.194"/><rect x="893.5" y="207.5" width="23" height="26" fill-opacity="0.171"/><rect x="893.5" y="233" width="23" height="26" fill-opacity="0.149"/><rect x="893.5" y="258.5" width="23" height="26" fill-opacity="0.126"/><rect x="893.5" y="284" width="23" height="26" fill-opacity="0.104"/><rect x="893.5" y="309.5" width="23" height="26" fill-opacity="0.081"/></g>
<g filter="url(#bHA2)" fill="#000" stroke-linecap="round"><ellipse cx="558.6" cy="353" rx="18.5" ry="16" fill-opacity="0.50"/><ellipse cx="558.6" cy="352.5" rx="20" ry="18" fill-opacity="0.40"/><ellipse cx="601.4" cy="353" rx="19" ry="13.8" fill-opacity="0.50"/><ellipse cx="601.4" cy="351.5" rx="20" ry="15" fill-opacity="0.40"/><ellipse cx="601.4" cy="175" rx="15" ry="11" fill-opacity="0.01"/><ellipse cx="645.3" cy="352" rx="19" ry="13.5" fill-opacity="0.50"/><ellipse cx="645.3" cy="350.5" rx="20" ry="15" fill-opacity="0.40"/><ellipse cx="645.3" cy="175" rx="15" ry="11" fill-opacity="0.06"/><ellipse cx="688.6" cy="351.3" rx="18.5" ry="10.8" fill-opacity="0.50"/><ellipse cx="688.6" cy="174.3" rx="15" ry="11" fill-opacity="0.42"/><ellipse cx="732.6" cy="350" rx="18" ry="9.8" fill-opacity="0.50"/><ellipse cx="732.6" cy="174" rx="17.2" ry="11.2" fill-opacity="0.50"/><ellipse cx="732.6" cy="184.5" rx="14.5" ry="9" fill-opacity="0.42"/><ellipse cx="775.3" cy="348.2" rx="17.8" ry="9.5" fill-opacity="0.50"/><ellipse cx="775.3" cy="173.5" rx="17.2" ry="12.2" fill-opacity="0.50"/><ellipse cx="775.3" cy="184" rx="14.5" ry="11" fill-opacity="0.49"/><ellipse cx="818.6" cy="347.8" rx="16.8" ry="8.2" fill-opacity="0.47"/><ellipse cx="818.6" cy="174" rx="17.2" ry="13.5" fill-opacity="0.50"/><ellipse cx="818.6" cy="184.5" rx="14.5" ry="13" fill-opacity="0.56"/><ellipse cx="861.6" cy="347.5" rx="15.5" ry="7.5" fill-opacity="0.40"/><ellipse cx="861.6" cy="175.5" rx="17.2" ry="14.5" fill-opacity="0.50"/><ellipse cx="861.6" cy="186" rx="14.5" ry="15" fill-opacity="0.63"/><ellipse cx="905" cy="347.1" rx="15.5" ry="7.8" fill-opacity="0.31"/><ellipse cx="905" cy="175.5" rx="17.2" ry="14.5" fill-opacity="0.50"/><ellipse cx="905" cy="186" rx="14.5" ry="17" fill-opacity="0.70"/><ellipse cx="905" cy="205" rx="13" ry="20" fill-opacity="0.35"/></g>
<g filter="url(#bMA2)" fill="#000" stroke-linecap="round"><ellipse cx="688.6" cy="263.6" rx="13.5" ry="3.5" fill-opacity="0.04"/><ellipse cx="688.6" cy="272.8" rx="13.5" ry="3.5" fill-opacity="0.06"/><ellipse cx="688.6" cy="282" rx="13.5" ry="3.5" fill-opacity="0.08"/><ellipse cx="732.6" cy="263.6" rx="13.5" ry="3.5" fill-opacity="0.11"/><ellipse cx="732.6" cy="272.8" rx="13.5" ry="3.5" fill-opacity="0.17"/><ellipse cx="732.6" cy="282" rx="13.5" ry="3.5" fill-opacity="0.23"/><ellipse cx="775.3" cy="261" rx="13.5" ry="3.5" fill-opacity="0.12"/><ellipse cx="775.3" cy="271" rx="13.5" ry="3.5" fill-opacity="0.18"/><ellipse cx="775.3" cy="281" rx="13.5" ry="3.5" fill-opacity="0.24"/><ellipse cx="818.6" cy="269" rx="13.5" ry="3.5" fill-opacity="0.06"/><ellipse cx="818.6" cy="279.8" rx="13.5" ry="3.5" fill-opacity="0.27"/><ellipse cx="861.6" cy="269" rx="13.5" ry="3.5" fill-opacity="0.06"/><ellipse cx="861.6" cy="279.8" rx="13.5" ry="3.5" fill-opacity="0.26"/><ellipse cx="861.6" cy="290" rx="13.5" ry="3.5" fill-opacity="0.06"/><ellipse cx="861.6" cy="300" rx="13.5" ry="3.5" fill-opacity="0.07"/><ellipse cx="861.6" cy="312" rx="13.5" ry="3.5" fill-opacity="0.07"/><ellipse cx="861.6" cy="322" rx="13.5" ry="3.5" fill-opacity="0.08"/><ellipse cx="905" cy="269" rx="13.5" ry="3.5" fill-opacity="0.09"/><ellipse cx="905" cy="279.8" rx="13.5" ry="3.5" fill-opacity="0.37"/><ellipse cx="905" cy="216" rx="13.5" ry="3.5" fill-opacity="0.14"/><ellipse cx="905" cy="228" rx="13.5" ry="3.5" fill-opacity="0.12"/><ellipse cx="905" cy="240" rx="13.5" ry="3.5" fill-opacity="0.10"/><ellipse cx="905" cy="252" rx="13.5" ry="3.5" fill-opacity="0.08"/><ellipse cx="905" cy="289.3" rx="13.5" ry="3.5" fill-opacity="0.14"/><ellipse cx="905" cy="298.4" rx="13.5" ry="3.5" fill-opacity="0.14"/><ellipse cx="905" cy="307.6" rx="13.5" ry="3.5" fill-opacity="0.13"/><ellipse cx="905" cy="317" rx="13.5" ry="3.5" fill-opacity="0.10"/><ellipse cx="905" cy="325" rx="13.5" ry="3.5" fill-opacity="0.10"/></g>
<g filter="url(#bFA2)" fill="#000" stroke-linecap="round"></g>
<g filter="url(#bLA2)" fill="#000" stroke-linecap="round"><ellipse cx="558.6" cy="378.5" rx="12.5" ry="4.5" fill-opacity="0.12"/><ellipse cx="558.6" cy="392.3" rx="12.5" ry="4.5" fill-opacity="0.60"/><ellipse cx="558.6" cy="407.5" rx="12.5" ry="4.5" fill-opacity="0.18"/><ellipse cx="558.6" cy="425.5" rx="12.5" ry="4.5" fill-opacity="0.08"/><ellipse cx="558.6" cy="443.5" rx="12.5" ry="4.5" fill-opacity="0.07"/><ellipse cx="558.6" cy="462.5" rx="12.5" ry="4.5" fill-opacity="0.08"/><ellipse cx="558.6" cy="480.5" rx="12.5" ry="4.5" fill-opacity="0.08"/><ellipse cx="558.6" cy="498.5" rx="12.5" ry="4.5" fill-opacity="0.06"/><ellipse cx="558.6" cy="517.5" rx="12.5" ry="4.5" fill-opacity="0.08"/><ellipse cx="558.6" cy="536.5" rx="12.5" ry="4.5" fill-opacity="0.08"/><ellipse cx="558.6" cy="555.5" rx="12.5" ry="4.5" fill-opacity="0.06"/><ellipse cx="558.6" cy="574.5" rx="12.5" ry="4.5" fill-opacity="0.05"/><ellipse cx="558.6" cy="588.5" rx="12.5" ry="4.5" fill-opacity="0.05"/><ellipse cx="601.4" cy="338" rx="13.5" ry="5.5" fill-opacity="0.12"/><ellipse cx="601.4" cy="365" rx="13" ry="4.5" fill-opacity="0.44"/><ellipse cx="601.4" cy="376.5" rx="13" ry="4.5" fill-opacity="0.18"/><ellipse cx="601.4" cy="392.5" rx="13" ry="4.5" fill-opacity="0.48"/><ellipse cx="601.4" cy="408" rx="13" ry="4.5" fill-opacity="0.13"/><ellipse cx="601.4" cy="425.5" rx="13" ry="4.5" fill-opacity="0.07"/><ellipse cx="601.4" cy="443.5" rx="13" ry="4.5" fill-opacity="0.06"/><ellipse cx="601.4" cy="462.5" rx="13" ry="4.5" fill-opacity="0.06"/><ellipse cx="601.4" cy="480.5" rx="13" ry="4.5" fill-opacity="0.06"/><ellipse cx="601.4" cy="500.5" rx="13" ry="4.5" fill-opacity="0.05"/><ellipse cx="601.4" cy="520.5" rx="13" ry="4.5" fill-opacity="0.05"/><ellipse cx="601.4" cy="540.5" rx="13" ry="4.5" fill-opacity="0.04"/><ellipse cx="645.3" cy="337" rx="13.5" ry="5.5" fill-opacity="0.20"/><ellipse cx="645.3" cy="364" rx="13" ry="4.5" fill-opacity="0.44"/><ellipse cx="645.3" cy="375.5" rx="13" ry="4.5" fill-opacity="0.18"/><ellipse cx="645.3" cy="391.5" rx="13" ry="4.5" fill-opacity="0.44"/><ellipse cx="645.3" cy="407" rx="13" ry="4.5" fill-opacity="0.13"/><ellipse cx="645.3" cy="424.5" rx="13" ry="4.5" fill-opacity="0.07"/><ellipse cx="645.3" cy="442.5" rx="13" ry="4.5" fill-opacity="0.06"/><ellipse cx="645.3" cy="461.5" rx="13" ry="4.5" fill-opacity="0.06"/><ellipse cx="645.3" cy="479.5" rx="13" ry="4.5" fill-opacity="0.06"/><ellipse cx="645.3" cy="499.5" rx="13" ry="4.5" fill-opacity="0.05"/><ellipse cx="645.3" cy="519.5" rx="13" ry="4.5" fill-opacity="0.05"/><ellipse cx="645.3" cy="539.5" rx="13" ry="4.5" fill-opacity="0.04"/><ellipse cx="688.6" cy="336.3" rx="13.5" ry="5.5" fill-opacity="0.50"/><ellipse cx="688.6" cy="361.8" rx="13" ry="4.5" fill-opacity="0.48"/><ellipse cx="688.6" cy="374.8" rx="13" ry="4.5" fill-opacity="0.16"/><ellipse cx="688.6" cy="390.8" rx="13" ry="4.5" fill-opacity="0.36"/><ellipse cx="688.6" cy="406.8" rx="13" ry="4.5" fill-opacity="0.11"/><ellipse cx="688.6" cy="423.8" rx="13" ry="4.5" fill-opacity="0.07"/><ellipse cx="688.6" cy="441.8" rx="13" ry="4.5" fill-opacity="0.06"/><ellipse cx="688.6" cy="460.8" rx="13" ry="4.5" fill-opacity="0.05"/><ellipse cx="688.6" cy="478.8" rx="13" ry="4.5" fill-opacity="0.05"/><ellipse cx="688.6" cy="498.8" rx="13" ry="4.5" fill-opacity="0.04"/><ellipse cx="688.6" cy="518.8" rx="13" ry="4.5" fill-opacity="0.04"/><ellipse cx="688.6" cy="538.8" rx="13" ry="4.5" fill-opacity="0.04"/><ellipse cx="732.6" cy="335" rx="13.5" ry="5.5" fill-opacity="0.50"/><ellipse cx="732.6" cy="360.5" rx="13" ry="4.5" fill-opacity="0.48"/><ellipse cx="732.6" cy="373.5" rx="13" ry="4.5" fill-opacity="0.16"/><ellipse cx="732.6" cy="388.7" rx="13" ry="4.5" fill-opacity="0.32"/><ellipse cx="732.6" cy="405.5" rx="13" ry="4.5" fill-opacity="0.11"/><ellipse cx="732.6" cy="422.5" rx="13" ry="4.5" fill-opacity="0.07"/><ellipse cx="732.6" cy="440.5" rx="13" ry="4.5" fill-opacity="0.06"/><ellipse cx="732.6" cy="459.5" rx="13" ry="4.5" fill-opacity="0.05"/><ellipse cx="732.6" cy="477.5" rx="13" ry="4.5" fill-opacity="0.05"/><ellipse cx="732.6" cy="497.5" rx="13" ry="4.5" fill-opacity="0.04"/><ellipse cx="732.6" cy="517.5" rx="13" ry="4.5" fill-opacity="0.04"/><ellipse cx="732.6" cy="537.5" rx="13" ry="4.5" fill-opacity="0.04"/><ellipse cx="775.3" cy="333.2" rx="13.5" ry="5.5" fill-opacity="0.55"/><ellipse cx="775.3" cy="358.7" rx="13" ry="4.5" fill-opacity="0.48"/><ellipse cx="775.3" cy="371.7" rx="13" ry="4.5" fill-opacity="0.16"/><ellipse cx="775.3" cy="386.1" rx="13" ry="4.5" fill-opacity="0.28"/><ellipse cx="775.3" cy="403.7" rx="13" ry="4.5" fill-opacity="0.11"/><ellipse cx="775.3" cy="420.7" rx="13" ry="4.5" fill-opacity="0.07"/><ellipse cx="775.3" cy="438.7" rx="13" ry="4.5" fill-opacity="0.06"/><ellipse cx="775.3" cy="457.7" rx="13" ry="4.5" fill-opacity="0.05"/><ellipse cx="775.3" cy="475.7" rx="13" ry="4.5" fill-opacity="0.05"/><ellipse cx="775.3" cy="495.7" rx="13" ry="4.5" fill-opacity="0.04"/><ellipse cx="775.3" cy="515.7" rx="13" ry="4.5" fill-opacity="0.04"/><ellipse cx="775.3" cy="535.7" rx="13" ry="4.5" fill-opacity="0.04"/><ellipse cx="818.6" cy="332.8" rx="13.5" ry="5.5" fill-opacity="0.40"/><ellipse cx="818.6" cy="357.3" rx="13" ry="4.5" fill-opacity="0.40"/><ellipse cx="818.6" cy="371.8" rx="13" ry="4.5" fill-opacity="0.26"/><ellipse cx="818.6" cy="385.3" rx="13" ry="4.5" fill-opacity="0.24"/><ellipse cx="818.6" cy="403.3" rx="13" ry="4.5" fill-opacity="0.10"/><ellipse cx="818.6" cy="420.3" rx="13" ry="4.5" fill-opacity="0.10"/><ellipse cx="818.6" cy="437.3" rx="13" ry="4.5" fill-opacity="0.08"/><ellipse cx="818.6" cy="455.3" rx="13" ry="4.5" fill-opacity="0.10"/><ellipse cx="818.6" cy="473.3" rx="13" ry="4.5" fill-opacity="0.05"/><ellipse cx="818.6" cy="495.3" rx="13" ry="4.5" fill-opacity="0.04"/><ellipse cx="818.6" cy="515.3" rx="13" ry="4.5" fill-opacity="0.04"/><ellipse cx="818.6" cy="535.3" rx="13" ry="4.5" fill-opacity="0.04"/><ellipse cx="861.6" cy="332.5" rx="13.5" ry="5.5" fill-opacity="0.30"/><ellipse cx="861.6" cy="357" rx="13" ry="4.5" fill-opacity="0.40"/><ellipse cx="861.6" cy="371.5" rx="13" ry="4.5" fill-opacity="0.26"/><ellipse cx="861.6" cy="385" rx="13" ry="4.5" fill-opacity="0.13"/><ellipse cx="861.6" cy="403" rx="13" ry="4.5" fill-opacity="0.10"/><ellipse cx="861.6" cy="420" rx="13" ry="4.5" fill-opacity="0.10"/><ellipse cx="861.6" cy="437" rx="13" ry="4.5" fill-opacity="0.08"/><ellipse cx="861.6" cy="455" rx="13" ry="4.5" fill-opacity="0.10"/><ellipse cx="861.6" cy="473" rx="13" ry="4.5" fill-opacity="0.10"/><ellipse cx="861.6" cy="495" rx="13" ry="4.5" fill-opacity="0.04"/><ellipse cx="861.6" cy="515" rx="13" ry="4.5" fill-opacity="0.04"/><ellipse cx="861.6" cy="535" rx="13" ry="4.5" fill-opacity="0.04"/><ellipse cx="905" cy="332.1" rx="13.5" ry="5.5" fill-opacity="0.34"/><ellipse cx="905" cy="356.6" rx="13" ry="4.5" fill-opacity="0.40"/><ellipse cx="905" cy="371.1" rx="13" ry="4.5" fill-opacity="0.20"/><ellipse cx="905" cy="384.6" rx="13" ry="4.5" fill-opacity="0.13"/><ellipse cx="905" cy="402.6" rx="13" ry="4.5" fill-opacity="0.10"/><ellipse cx="905" cy="419.6" rx="13" ry="4.5" fill-opacity="0.10"/><ellipse cx="905" cy="436.6" rx="13" ry="4.5" fill-opacity="0.08"/><ellipse cx="905" cy="454.6" rx="13" ry="4.5" fill-opacity="0.10"/><ellipse cx="905" cy="472.6" rx="13" ry="4.5" fill-opacity="0.10"/><ellipse cx="905" cy="494.6" rx="13" ry="4.5" fill-opacity="0.04"/><ellipse cx="905" cy="514.6" rx="13" ry="4.5" fill-opacity="0.04"/><ellipse cx="905" cy="534.6" rx="13" ry="4.5" fill-opacity="0.04"/></g>
</g>
<g filter="url(#bKA2)" fill="#000" stroke-linecap="round"><ellipse cx="558.6" cy="350.5" rx="16.5" ry="12.5" fill-opacity="1.00"/><ellipse cx="558.6" cy="350.5" rx="14.5" ry="10.5" fill-opacity="1.00"/><ellipse cx="557.6" cy="359.5" rx="11" ry="8" fill-opacity="0.90"/><ellipse cx="601.4" cy="350.5" rx="17" ry="10.2" fill-opacity="1.00"/><ellipse cx="601.4" cy="350.5" rx="15" ry="8.2" fill-opacity="1.00"/><ellipse cx="601.4" cy="173" rx="13.5" ry="6" fill-opacity="0.01"/><ellipse cx="645.3" cy="349.5" rx="17" ry="10" fill-opacity="1.00"/><ellipse cx="645.3" cy="349.5" rx="15" ry="8" fill-opacity="1.00"/><ellipse cx="645.3" cy="173" rx="13.5" ry="6" fill-opacity="0.10"/><ellipse cx="688.6" cy="348.8" rx="16.5" ry="7.2" fill-opacity="1.00"/><ellipse cx="688.6" cy="348.8" rx="14.5" ry="5.2" fill-opacity="1.00"/><ellipse cx="688.6" cy="172.3" rx="13.5" ry="6" fill-opacity="0.70"/><ellipse cx="732.6" cy="347.5" rx="16" ry="6.2" fill-opacity="1.00"/><ellipse cx="732.6" cy="347.5" rx="14" ry="4.2" fill-opacity="1.00"/><ellipse cx="732.6" cy="171.5" rx="15.2" ry="7.8" fill-opacity="1.00"/><ellipse cx="732.6" cy="171.5" rx="13.2" ry="5.8" fill-opacity="1.00"/><ellipse cx="732.6" cy="176.5" rx="11" ry="6.2" fill-opacity="0.85"/><ellipse cx="775.3" cy="345.7" rx="15.8" ry="6" fill-opacity="1.00"/><ellipse cx="775.3" cy="345.7" rx="13.8" ry="4" fill-opacity="1.00"/><ellipse cx="775.3" cy="171" rx="15.2" ry="8.8" fill-opacity="1.00"/><ellipse cx="775.3" cy="171" rx="13.2" ry="6.8" fill-opacity="1.00"/><ellipse cx="775.3" cy="176.6" rx="11" ry="7" fill-opacity="0.85"/><ellipse cx="818.6" cy="345.3" rx="14.8" ry="4.8" fill-opacity="0.95"/><ellipse cx="818.6" cy="345.3" rx="12.8" ry="2.8" fill-opacity="1.00"/><ellipse cx="818.6" cy="171.5" rx="15.2" ry="10" fill-opacity="1.00"/><ellipse cx="818.6" cy="171.5" rx="13.2" ry="8" fill-opacity="1.00"/><ellipse cx="818.6" cy="177.9" rx="11" ry="8" fill-opacity="0.85"/><ellipse cx="861.6" cy="345" rx="13.5" ry="4" fill-opacity="0.80"/><ellipse cx="861.6" cy="173" rx="15.2" ry="11" fill-opacity="1.00"/><ellipse cx="861.6" cy="173" rx="13.2" ry="9" fill-opacity="1.00"/><ellipse cx="861.6" cy="180" rx="11" ry="8.8" fill-opacity="0.85"/><ellipse cx="905" cy="344.6" rx="13.5" ry="4.2" fill-opacity="0.62"/><ellipse cx="905" cy="173" rx="15.2" ry="11" fill-opacity="1.00"/><ellipse cx="905" cy="173" rx="13.2" ry="9" fill-opacity="1.00"/><ellipse cx="905" cy="180" rx="11" ry="8.8" fill-opacity="0.85"/></g>
<rect x="536.8" y="124.6" width="388.5" height="482.7" filter="url(#grain)" opacity="0.06"/>
</g>
<defs>
<filter id="bSC1" filterUnits="userSpaceOnUse" x="117.7" y="826.2" width="428" height="528.5"><feGaussianBlur stdDeviation="4.2"/></filter>
<filter id="bMC1" filterUnits="userSpaceOnUse" x="117.7" y="826.2" width="428" height="528.5"><feGaussianBlur stdDeviation="2.1"/></filter>
<filter id="bKC1" filterUnits="userSpaceOnUse" x="117.7" y="826.2" width="428" height="528.5"><feGaussianBlur stdDeviation="2.1"/></filter>
<filter id="bHC1" filterUnits="userSpaceOnUse" x="117.7" y="826.2" width="428" height="528.5"><feGaussianBlur stdDeviation="4.5"/></filter>
<filter id="bLC1" filterUnits="userSpaceOnUse" x="117.7" y="826.2" width="428" height="528.5"><feGaussianBlur stdDeviation="3.1"/></filter>
<filter id="bFC1" filterUnits="userSpaceOnUse" x="117.7" y="826.2" width="428" height="528.5"><feGaussianBlur stdDeviation="1.9"/></filter>
<filter id="sgC1" filterUnits="userSpaceOnUse" x="141.7" y="850.2" width="380" height="480.5" color-interpolation-filters="sRGB"><feTurbulence type="fractalNoise" baseFrequency="0.23" numOctaves="2" seed="123" result="t"/><feColorMatrix in="t" type="matrix" values="0 0 0 0 0  0 0 0 0 0  0 0 0 0 0  3.2 0 0 0 -1.1" result="n0"/><feGaussianBlur in="n0" stdDeviation="0.9" result="n"/><feComposite in="SourceGraphic" in2="n" operator="arithmetic" k1="0.44" k2="0.78" k3="0" k4="0"/></filter>
</defs>
<clipPath id="cC1"><rect x="141.7" y="850.2" width="380" height="480.5"/></clipPath>
<rect x="141.7" y="850.2" width="380" height="480.5" fill="#eeeeee"/>
<g clip-path="url(#cC1)">
<g filter="url(#sgC1)">
<g filter="url(#bSC1)" fill="#000"><rect x="150.5" y="1080" width="24" height="13.8" fill-opacity="0.093"/><rect x="150.5" y="1093.3" width="24" height="13.8" fill-opacity="0.080"/><rect x="150.5" y="1106.7" width="24" height="13.8" fill-opacity="0.067"/><rect x="150.5" y="1120" width="24" height="13.8" fill-opacity="0.053"/><rect x="150.5" y="1133.3" width="24" height="13.8" fill-opacity="0.040"/><rect x="150.5" y="1146.7" width="24" height="13.8" fill-opacity="0.027"/><rect x="190.3" y="891.3" width="23" height="17" fill-opacity="0.222"/><rect x="190.3" y="907.8" width="23" height="16.9" fill-opacity="0.205"/><rect x="190.3" y="924.2" width="23" height="17" fill-opacity="0.188"/><rect x="190.3" y="940.6" width="23" height="17" fill-opacity="0.172"/><rect x="190.3" y="957.1" width="23" height="16.9" fill-opacity="0.155"/><rect x="190.3" y="973.5" width="23" height="17" fill-opacity="0.138"/><rect x="189.8" y="990" width="24" height="12.5" fill-opacity="0.141"/><rect x="189.8" y="1002" width="24" height="12.5" fill-opacity="0.143"/><rect x="189.8" y="1014" width="24" height="12.5" fill-opacity="0.144"/><rect x="189.8" y="1026" width="24" height="12.5" fill-opacity="0.146"/><rect x="189.8" y="1038" width="24" height="12.5" fill-opacity="0.147"/><rect x="189.8" y="1050" width="24" height="12.5" fill-opacity="0.149"/><rect x="189.8" y="1062" width="24" height="20.2" fill-opacity="0.103"/><rect x="189.8" y="1081.7" width="24" height="20.2" fill-opacity="0.087"/><rect x="189.8" y="1101.3" width="24" height="20.2" fill-opacity="0.073"/><rect x="189.8" y="1121" width="24" height="20.2" fill-opacity="0.058"/><rect x="189.8" y="1140.7" width="24" height="20.2" fill-opacity="0.043"/><rect x="189.8" y="1160.3" width="24" height="20.2" fill-opacity="0.027"/><rect x="232.1" y="892.7" width="23" height="16.7" fill-opacity="0.222"/><rect x="232.1" y="908.9" width="23" height="16.7" fill-opacity="0.205"/><rect x="232.1" y="925.1" width="23" height="16.7" fill-opacity="0.188"/><rect x="232.1" y="941.4" width="23" height="16.7" fill-opacity="0.172"/><rect x="232.1" y="957.6" width="23" height="16.7" fill-opacity="0.155"/><rect x="232.1" y="973.8" width="23" height="16.7" fill-opacity="0.138"/><rect x="231.6" y="990" width="24" height="12.5" fill-opacity="0.141"/><rect x="231.6" y="1002" width="24" height="12.5" fill-opacity="0.143"/><rect x="231.6" y="1014" width="24" height="12.5" fill-opacity="0.144"/><rect x="231.6" y="1026" width="24" height="12.5" fill-opacity="0.146"/><rect x="231.6" y="1038" width="24" height="12.5" fill-opacity="0.147"/><rect x="231.6" y="1050" width="24" height="12.5" fill-opacity="0.149"/><rect x="231.6" y="1062" width="24" height="20.2" fill-opacity="0.103"/><rect x="231.6" y="1081.7" width="24" height="20.2" fill-opacity="0.087"/><rect x="231.6" y="1101.3" width="24" height="20.2" fill-opacity="0.073"/><rect x="231.6" y="1121" width="24" height="20.2" fill-opacity="0.058"/><rect x="231.6" y="1140.7" width="24" height="20.2" fill-opacity="0.043"/><rect x="231.6" y="1160.3" width="24" height="20.2" fill-opacity="0.027"/><rect x="274" y="893.2" width="23" height="16.6" fill-opacity="0.222"/><rect x="274" y="909.3" width="23" height="16.6" fill-opacity="0.205"/><rect x="274" y="925.5" width="23" height="16.6" fill-opacity="0.188"/><rect x="274" y="941.6" width="23" height="16.6" fill-opacity="0.172"/><rect x="274" y="957.7" width="23" height="16.6" fill-opacity="0.155"/><rect x="274" y="973.9" width="23" height="16.6" fill-opacity="0.138"/><rect x="273.5" y="990" width="24" height="12.5" fill-opacity="0.141"/><rect x="273.5" y="1002" width="24" height="12.5" fill-opacity="0.143"/><rect x="273.5" y="1014" width="24" height="12.5" fill-opacity="0.144"/><rect x="273.5" y="1026" width="24" height="12.5" fill-opacity="0.146"/><rect x="273.5" y="1038" width="24" height="12.5" fill-opacity="0.147"/><rect x="273.5" y="1050" width="24" height="12.5" fill-opacity="0.149"/><rect x="273.5" y="1062" width="24" height="20.2" fill-opacity="0.103"/><rect x="273.5" y="1081.7" width="24" height="20.2" fill-opacity="0.087"/><rect x="273.5" y="1101.3" width="24" height="20.2" fill-opacity="0.073"/><rect x="273.5" y="1121" width="24" height="20.2" fill-opacity="0.058"/><rect x="273.5" y="1140.7" width="24" height="20.2" fill-opacity="0.043"/><rect x="273.5" y="1160.3" width="24" height="20.2" fill-opacity="0.027"/><rect x="315.1" y="894" width="23" height="16.5" fill-opacity="0.222"/><rect x="315.1" y="910" width="23" height="16.5" fill-opacity="0.205"/><rect x="315.1" y="926" width="23" height="16.5" fill-opacity="0.188"/><rect x="315.1" y="942" width="23" height="16.5" fill-opacity="0.172"/><rect x="315.1" y="958" width="23" height="16.5" fill-opacity="0.155"/><rect x="315.1" y="974" width="23" height="16.5" fill-opacity="0.138"/><rect x="314.6" y="990" width="24" height="12.5" fill-opacity="0.141"/><rect x="314.6" y="1002" width="24" height="12.5" fill-opacity="0.143"/><rect x="314.6" y="1014" width="24" height="12.5" fill-opacity="0.144"/><rect x="314.6" y="1026" width="24" height="12.5" fill-opacity="0.146"/><rect x="314.6" y="1038" width="24" height="12.5" fill-opacity="0.147"/><rect x="314.6" y="1050" width="24" height="12.5" fill-opacity="0.149"/><rect x="314.6" y="1062" width="24" height="20.2" fill-opacity="0.103"/><rect x="314.6" y="1081.7" width="24" height="20.2" fill-opacity="0.087"/><rect x="314.6" y="1101.3" width="24" height="20.2" fill-opacity="0.073"/><rect x="314.6" y="1121" width="24" height="20.2" fill-opacity="0.058"/><rect x="314.6" y="1140.7" width="24" height="20.2" fill-opacity="0.043"/><rect x="314.6" y="1160.3" width="24" height="20.2" fill-opacity="0.027"/><rect x="358.6" y="891.5" width="23" height="16.9" fill-opacity="0.222"/><rect x="358.6" y="907.9" width="23" height="16.9" fill-opacity="0.205"/><rect x="358.6" y="924.3" width="23" height="16.9" fill-opacity="0.188"/><rect x="358.6" y="940.8" width="23" height="16.9" fill-opacity="0.172"/><rect x="358.6" y="957.2" width="23" height="16.9" fill-opacity="0.155"/><rect x="358.6" y="973.6" width="23" height="16.9" fill-opacity="0.138"/><rect x="358.1" y="990" width="24" height="12.5" fill-opacity="0.141"/><rect x="358.1" y="1002" width="24" height="12.5" fill-opacity="0.143"/><rect x="358.1" y="1014" width="24" height="12.5" fill-opacity="0.144"/><rect x="358.1" y="1026" width="24" height="12.5" fill-opacity="0.146"/><rect x="358.1" y="1038" width="24" height="12.5" fill-opacity="0.147"/><rect x="358.1" y="1050" width="24" height="12.5" fill-opacity="0.149"/><rect x="358.1" y="1062" width="24" height="20.2" fill-opacity="0.103"/><rect x="358.1" y="1081.7" width="24" height="20.2" fill-opacity="0.087"/><rect x="358.1" y="1101.3" width="24" height="20.2" fill-opacity="0.073"/><rect x="358.1" y="1121" width="24" height="20.2" fill-opacity="0.058"/><rect x="358.1" y="1140.7" width="24" height="20.2" fill-opacity="0.043"/><rect x="358.1" y="1160.3" width="24" height="20.2" fill-opacity="0.027"/><rect x="402.6" y="903.5" width="23" height="14.9" fill-opacity="0.222"/><rect x="402.6" y="917.9" width="23" height="14.9" fill-opacity="0.205"/><rect x="402.6" y="932.3" width="23" height="14.9" fill-opacity="0.188"/><rect x="402.6" y="946.8" width="23" height="14.9" fill-opacity="0.172"/><rect x="402.6" y="961.2" width="23" height="14.9" fill-opacity="0.155"/><rect x="402.6" y="975.6" width="23" height="14.9" fill-opacity="0.138"/><rect x="402.1" y="990" width="24" height="12.5" fill-opacity="0.141"/><rect x="402.1" y="1002" width="24" height="12.5" fill-opacity="0.143"/><rect x="402.1" y="1014" width="24" height="12.5" fill-opacity="0.144"/><rect x="402.1" y="1026" width="24" height="12.5" fill-opacity="0.146"/><rect x="402.1" y="1038" width="24" height="12.5" fill-opacity="0.147"/><rect x="402.1" y="1050" width="24" height="12.5" fill-opacity="0.149"/><rect x="402.1" y="1062" width="24" height="20.2" fill-opacity="0.103"/><rect x="402.1" y="1081.7" width="24" height="20.2" fill-opacity="0.087"/><rect x="402.1" y="1101.3" width="24" height="20.2" fill-opacity="0.073"/><rect x="402.1" y="1121" width="24" height="20.2" fill-opacity="0.058"/><rect x="402.1" y="1140.7" width="24" height="20.2" fill-opacity="0.043"/><rect x="402.1" y="1160.3" width="24" height="20.2" fill-opacity="0.027"/><rect x="444.2" y="889.5" width="23" height="17.2" fill-opacity="0.222"/><rect x="444.2" y="906.2" width="23" height="17.2" fill-opacity="0.205"/><rect x="444.2" y="923" width="23" height="17.2" fill-opacity="0.188"/><rect x="444.2" y="939.8" width="23" height="17.2" fill-opacity="0.172"/><rect x="444.2" y="956.5" width="23" height="17.2" fill-opacity="0.155"/><rect x="444.2" y="973.2" width="23" height="17.2" fill-opacity="0.138"/><rect x="443.7" y="990" width="24" height="12.5" fill-opacity="0.141"/><rect x="443.7" y="1002" width="24" height="12.5" fill-opacity="0.143"/><rect x="443.7" y="1014" width="24" height="12.5" fill-opacity="0.144"/><rect x="443.7" y="1026" width="24" height="12.5" fill-opacity="0.146"/><rect x="443.7" y="1038" width="24" height="12.5" fill-opacity="0.147"/><rect x="443.7" y="1050" width="24" height="12.5" fill-opacity="0.149"/><rect x="443.7" y="1062" width="24" height="20.2" fill-opacity="0.103"/><rect x="443.7" y="1081.7" width="24" height="20.2" fill-opacity="0.087"/><rect x="443.7" y="1101.3" width="24" height="20.2" fill-opacity="0.073"/><rect x="443.7" y="1121" width="24" height="20.2" fill-opacity="0.058"/><rect x="443.7" y="1140.7" width="24" height="20.2" fill-opacity="0.043"/><rect x="443.7" y="1160.3" width="24" height="20.2" fill-opacity="0.027"/><rect x="488.9" y="899" width="23" height="15.7" fill-opacity="0.222"/><rect x="488.9" y="914.2" width="23" height="15.7" fill-opacity="0.205"/><rect x="488.9" y="929.3" width="23" height="15.7" fill-opacity="0.188"/><rect x="488.9" y="944.5" width="23" height="15.7" fill-opacity="0.172"/><rect x="488.9" y="959.7" width="23" height="15.7" fill-opacity="0.155"/><rect x="488.9" y="974.8" width="23" height="15.7" fill-opacity="0.138"/><rect x="488.4" y="990" width="24" height="12.5" fill-opacity="0.141"/><rect x="488.4" y="1002" width="24" height="12.5" fill-opacity="0.143"/><rect x="488.4" y="1014" width="24" height="12.5" fill-opacity="0.144"/><rect x="488.4" y="1026" width="24" height="12.5" fill-opacity="0.146"/><rect x="488.4" y="1038" width="24" height="12.5" fill-opacity="0.147"/><rect x="488.4" y="1050" width="24" height="12.5" fill-opacity="0.149"/><rect x="488.4" y="1062" width="24" height="20.2" fill-opacity="0.103"/><rect x="488.4" y="1081.7" width="24" height="20.2" fill-opacity="0.087"/><rect x="488.4" y="1101.3" width="24" height="20.2" fill-opacity="0.073"/><rect x="488.4" y="1121" width="24" height="20.2" fill-opacity="0.058"/><rect x="488.4" y="1140.7" width="24" height="20.2" fill-opacity="0.043"/><rect x="488.4" y="1160.3" width="24" height="20.2" fill-opacity="0.027"/></g>
<g filter="url(#bHC1)" fill="#000" stroke-linecap="round"><ellipse cx="162.5" cy="1067.3" rx="17" ry="14.8" fill-opacity="0.50"/><ellipse cx="162.5" cy="1067" rx="17" ry="15" fill-opacity="0.25"/><path fill="none" stroke="#000" d="M195.8 891 Q201.8 885.8 207.8 888.6" stroke-width="21.5" stroke-opacity="0.50"/><ellipse cx="201.8" cy="893.3" rx="13.5" ry="7" fill-opacity="0.30"/><path fill="none" stroke="#000" d="M237.6 892.4 Q243.6 887.2 249.6 890" stroke-width="21.5" stroke-opacity="0.50"/><ellipse cx="243.6" cy="894.7" rx="13.5" ry="7" fill-opacity="0.30"/><path fill="none" stroke="#000" d="M279.5 892.9 Q285.5 887.7 291.5 890.5" stroke-width="21.5" stroke-opacity="0.50"/><ellipse cx="285.5" cy="895.2" rx="13.5" ry="7" fill-opacity="0.30"/><path fill="none" stroke="#000" d="M320.6 893.7 Q326.6 888.5 332.6 891.3" stroke-width="21.5" stroke-opacity="0.50"/><ellipse cx="326.6" cy="896" rx="13.5" ry="7" fill-opacity="0.30"/><path fill="none" stroke="#000" d="M364.1 891.2 Q370.1 886 376.1 888.8" stroke-width="21.5" stroke-opacity="0.50"/><ellipse cx="370.1" cy="893.5" rx="13.5" ry="7" fill-opacity="0.30"/><path fill="none" stroke="#000" d="M405.9 900.8 Q414.1 900.2 422.4 900.8" stroke-width="19.5" stroke-opacity="0.50"/><ellipse cx="414.1" cy="906.5" rx="14" ry="7" fill-opacity="0.30"/><path fill="none" stroke="#000" d="M451.4 886.5 Q455.7 883.5 459.9 886.5" stroke-width="24" stroke-opacity="0.50"/><ellipse cx="455.7" cy="892.5" rx="13.5" ry="9" fill-opacity="0.50"/><path fill="none" stroke="#000" d="M494.4 901.5 Q500.4 894.5 506.4 891.5" stroke-width="21.5" stroke-opacity="0.50"/><ellipse cx="500.4" cy="901" rx="13.5" ry="7" fill-opacity="0.30"/></g>
<g filter="url(#bMC1)" fill="#000" stroke-linecap="round"><path fill="none" stroke="#000" d="M191.8 1068.6 Q201.8 1062.4 211.8 1068.6" stroke-width="8" stroke-opacity="0.52"/><path fill="none" stroke="#000" d="M191.8 1081.3 Q201.8 1075.1 211.8 1081.3" stroke-width="8" stroke-opacity="0.43"/><path fill="none" stroke="#000" d="M233.6 1068.6 Q243.6 1062.4 253.6 1068.6" stroke-width="8" stroke-opacity="0.52"/><path fill="none" stroke="#000" d="M233.6 1081.3 Q243.6 1075.1 253.6 1081.3" stroke-width="8" stroke-opacity="0.43"/><path fill="none" stroke="#000" d="M275.5 1068.6 Q285.5 1062.4 295.5 1068.6" stroke-width="8" stroke-opacity="0.52"/><path fill="none" stroke="#000" d="M275.5 1081.3 Q285.5 1075.1 295.5 1081.3" stroke-width="8" stroke-opacity="0.43"/><path fill="none" stroke="#000" d="M316.6 1068.6 Q326.6 1062.4 336.6 1068.6" stroke-width="8" stroke-opacity="0.52"/><path fill="none" stroke="#000" d="M316.6 1081.3 Q326.6 1075.1 336.6 1081.3" stroke-width="8" stroke-opacity="0.43"/><path fill="none" stroke="#000" d="M360.1 1068.6 Q370.1 1062.4 380.1 1068.6" stroke-width="8" stroke-opacity="0.52"/><path fill="none" stroke="#000" d="M360.1 1081.3 Q370.1 1075.1 380.1 1081.3" stroke-width="8" stroke-opacity="0.43"/><path fill="none" stroke="#000" d="M404.1 1073.4 Q414.1 1072.6 424.1 1073.4" stroke-width="8" stroke-opacity="0.52"/><path fill="none" stroke="#000" d="M404.1 1086.1 Q414.1 1085.3 424.1 1086.1" stroke-width="8" stroke-opacity="0.43"/><path fill="none" stroke="#000" d="M445.7 1068.6 Q455.7 1062.4 465.7 1068.6" stroke-width="8" stroke-opacity="0.52"/><path fill="none" stroke="#000" d="M445.7 1081.3 Q455.7 1075.1 465.7 1081.3" stroke-width="8" stroke-opacity="0.43"/><path fill="none" stroke="#000" d="M490.4 1076.6 Q500.4 1067.4 510.4 1070.6" stroke-width="8" stroke-opacity="0.52"/><path fill="none" stroke="#000" d="M490.4 1089.3 Q500.4 1080.1 510.4 1083.3" stroke-width="8" stroke-opacity="0.43"/></g>
<g filter="url(#bFC1)" fill="#000" stroke-linecap="round"><path fill="none" stroke="#000" d="M190.7 981.6 Q201.8 976.4 212.9 981.6" stroke-width="4.8" stroke-opacity="0.05"/><path fill="none" stroke="#000" d="M190.7 990.6 Q201.8 985.4 212.9 990.6" stroke-width="4.8" stroke-opacity="0.11"/><path fill="none" stroke="#000" d="M190.7 1000.1 Q201.8 994.9 212.9 1000.1" stroke-width="4.8" stroke-opacity="0.22"/><path fill="none" stroke="#000" d="M190.7 1009.6 Q201.8 1004.4 212.9 1009.6" stroke-width="4.8" stroke-opacity="0.27"/><path fill="none" stroke="#000" d="M190.7 1019.1 Q201.8 1013.9 212.9 1019.1" stroke-width="4.8" stroke-opacity="0.27"/><path fill="none" stroke="#000" d="M190.7 1028.1 Q201.8 1022.9 212.9 1028.1" stroke-width="4.8" stroke-opacity="0.39"/><path fill="none" stroke="#000" d="M190.7 1037.1 Q201.8 1031.9 212.9 1037.1" stroke-width="4.8" stroke-opacity="0.39"/><path fill="none" stroke="#000" d="M190.7 1046.6 Q201.8 1041.4 212.9 1046.6" stroke-width="4.8" stroke-opacity="0.13"/><path fill="none" stroke="#000" d="M190.7 1055.6 Q201.8 1050.4 212.9 1055.6" stroke-width="4.8" stroke-opacity="0.06"/><path fill="none" stroke="#000" d="M232.5 981.6 Q243.6 976.4 254.7 981.6" stroke-width="4.8" stroke-opacity="0.05"/><path fill="none" stroke="#000" d="M232.5 990.6 Q243.6 985.4 254.7 990.6" stroke-width="4.8" stroke-opacity="0.11"/><path fill="none" stroke="#000" d="M232.5 1000.1 Q243.6 994.9 254.7 1000.1" stroke-width="4.8" stroke-opacity="0.22"/><path fill="none" stroke="#000" d="M232.5 1009.6 Q243.6 1004.4 254.7 1009.6" stroke-width="4.8" stroke-opacity="0.27"/><path fill="none" stroke="#000" d="M232.5 1019.1 Q243.6 1013.9 254.7 1019.1" stroke-width="4.8" stroke-opacity="0.27"/><path fill="none" stroke="#000" d="M232.5 1028.1 Q243.6 1022.9 254.7 1028.1" stroke-width="4.8" stroke-opacity="0.39"/><path fill="none" stroke="#000" d="M232.5 1037.1 Q243.6 1031.9 254.7 1037.1" stroke-width="4.8" stroke-opacity="0.39"/><path fill="none" stroke="#000" d="M232.5 1046.6 Q243.6 1041.4 254.7 1046.6" stroke-width="4.8" stroke-opacity="0.13"/><path fill="none" stroke="#000" d="M232.5 1055.6 Q243.6 1050.4 254.7 1055.6" stroke-width="4.8" stroke-opacity="0.06"/><path fill="none" stroke="#000" d="M274.4 981.6 Q285.5 976.4 296.6 981.6" stroke-width="4.8" stroke-opacity="0.05"/><path fill="none" stroke="#000" d="M274.4 990.6 Q285.5 985.4 296.6 990.6" stroke-width="4.8" stroke-opacity="0.11"/><path fill="none" stroke="#000" d="M274.4 1000.1 Q285.5 994.9 296.6 1000.1" stroke-width="4.8" stroke-opacity="0.22"/><path fill="none" stroke="#000" d="M274.4 1009.6 Q285.5 1004.4 296.6 1009.6" stroke-width="4.8" stroke-opacity="0.27"/><path fill="none" stroke="#000" d="M274.4 1019.1 Q285.5 1013.9 296.6 1019.1" stroke-width="4.8" stroke-opacity="0.27"/><path fill="none" stroke="#000" d="M274.4 1028.1 Q285.5 1022.9 296.6 1028.1" stroke-width="4.8" stroke-opacity="0.39"/><path fill="none" stroke="#000" d="M274.4 1037.1 Q285.5 1031.9 296.6 1037.1" stroke-width="4.8" stroke-opacity="0.39"/><path fill="none" stroke="#000" d="M274.4 1046.6 Q285.5 1041.4 296.6 1046.6" stroke-width="4.8" stroke-opacity="0.13"/><path fill="none" stroke="#000" d="M274.4 1055.6 Q285.5 1050.4 296.6 1055.6" stroke-width="4.8" stroke-opacity="0.06"/><path fill="none" stroke="#000" d="M315.5 981.6 Q326.6 976.4 337.7 981.6" stroke-width="4.8" stroke-opacity="0.05"/><path fill="none" stroke="#000" d="M315.5 990.6 Q326.6 985.4 337.7 990.6" stroke-width="4.8" stroke-opacity="0.11"/><path fill="none" stroke="#000" d="M315.5 1000.1 Q326.6 994.9 337.7 1000.1" stroke-width="4.8" stroke-opacity="0.22"/><path fill="none" stroke="#000" d="M315.5 1009.6 Q326.6 1004.4 337.7 1009.6" stroke-width="4.8" stroke-opacity="0.27"/><path fill="none" stroke="#000" d="M315.5 1019.1 Q326.6 1013.9 337.7 1019.1" stroke-width="4.8" stroke-opacity="0.27"/><path fill="none" stroke="#000" d="M315.5 1028.1 Q326.6 1022.9 337.7 1028.1" stroke-width="4.8" stroke-opacity="0.39"/><path fill="none" stroke="#000" d="M315.5 1037.1 Q326.6 1031.9 337.7 1037.1" stroke-width="4.8" stroke-opacity="0.39"/><path fill="none" stroke="#000" d="M315.5 1046.6 Q326.6 1041.4 337.7 1046.6" stroke-width="4.8" stroke-opacity="0.13"/><path fill="none" stroke="#000" d="M315.5 1055.6 Q326.6 1050.4 337.7 1055.6" stroke-width="4.8" stroke-opacity="0.06"/><path fill="none" stroke="#000" d="M359 981.6 Q370.1 976.4 381.2 981.6" stroke-width="4.8" stroke-opacity="0.05"/><path fill="none" stroke="#000" d="M359 990.6 Q370.1 985.4 381.2 990.6" stroke-width="4.8" stroke-opacity="0.11"/><path fill="none" stroke="#000" d="M359 1000.1 Q370.1 994.9 381.2 1000.1" stroke-width="4.8" stroke-opacity="0.22"/><path fill="none" stroke="#000" d="M359 1009.6 Q370.1 1004.4 381.2 1009.6" stroke-width="4.8" stroke-opacity="0.27"/><path fill="none" stroke="#000" d="M359 1019.1 Q370.1 1013.9 381.2 1019.1" stroke-width="4.8" stroke-opacity="0.27"/><path fill="none" stroke="#000" d="M359 1028.1 Q370.1 1022.9 381.2 1028.1" stroke-width="4.8" stroke-opacity="0.39"/><path fill="none" stroke="#000" d="M359 1037.1 Q370.1 1031.9 381.2 1037.1" stroke-width="4.8" stroke-opacity="0.39"/><path fill="none" stroke="#000" d="M359 1046.6 Q370.1 1041.4 381.2 1046.6" stroke-width="4.8" stroke-opacity="0.13"/><path fill="none" stroke="#000" d="M359 1055.6 Q370.1 1050.4 381.2 1055.6" stroke-width="4.8" stroke-opacity="0.06"/><path fill="none" stroke="#000" d="M403 986.8 Q414.1 986.2 425.2 986.8" stroke-width="4.8" stroke-opacity="0.05"/><path fill="none" stroke="#000" d="M403 995.8 Q414.1 995.2 425.2 995.8" stroke-width="4.8" stroke-opacity="0.11"/><path fill="none" stroke="#000" d="M403 1005.3 Q414.1 1004.7 425.2 1005.3" stroke-width="4.8" stroke-opacity="0.22"/><path fill="none" stroke="#000" d="M403 1014.8 Q414.1 1014.2 425.2 1014.8" stroke-width="4.8" stroke-opacity="0.27"/><path fill="none" stroke="#000" d="M403 1024.3 Q414.1 1023.7 425.2 1024.3" stroke-width="4.8" stroke-opacity="0.27"/><path fill="none" stroke="#000" d="M403 1033.3 Q414.1 1032.7 425.2 1033.3" stroke-width="4.8" stroke-opacity="0.39"/><path fill="none" stroke="#000" d="M403 1042.3 Q414.1 1041.7 425.2 1042.3" stroke-width="4.8" stroke-opacity="0.39"/><path fill="none" stroke="#000" d="M403 1051.8 Q414.1 1051.2 425.2 1051.8" stroke-width="4.8" stroke-opacity="0.13"/><path fill="none" stroke="#000" d="M403 1060.8 Q414.1 1060.2 425.2 1060.8" stroke-width="4.8" stroke-opacity="0.06"/><path fill="none" stroke="#000" d="M444.6 981.6 Q455.7 976.4 466.8 981.6" stroke-width="4.8" stroke-opacity="0.05"/><path fill="none" stroke="#000" d="M444.6 990.6 Q455.7 985.4 466.8 990.6" stroke-width="4.8" stroke-opacity="0.11"/><path fill="none" stroke="#000" d="M444.6 1000.1 Q455.7 994.9 466.8 1000.1" stroke-width="4.8" stroke-opacity="0.22"/><path fill="none" stroke="#000" d="M444.6 1009.6 Q455.7 1004.4 466.8 1009.6" stroke-width="4.8" stroke-opacity="0.27"/><path fill="none" stroke="#000" d="M444.6 1019.1 Q455.7 1013.9 466.8 1019.1" stroke-width="4.8" stroke-opacity="0.27"/><path fill="none" stroke="#000" d="M444.6 1028.1 Q455.7 1022.9 466.8 1028.1" stroke-width="4.8" stroke-opacity="0.39"/><path fill="none" stroke="#000" d="M444.6 1037.1 Q455.7 1031.9 466.8 1037.1" stroke-width="4.8" stroke-opacity="0.39"/><path fill="none" stroke="#000" d="M444.6 1046.6 Q455.7 1041.4 466.8 1046.6" stroke-width="4.8" stroke-opacity="0.13"/><path fill="none" stroke="#000" d="M444.6 1055.6 Q455.7 1050.4 466.8 1055.6" stroke-width="4.8" stroke-opacity="0.06"/><path fill="none" stroke="#000" d="M489.3 989.6 Q500.4 981.4 511.5 983.6" stroke-width="4.8" stroke-opacity="0.05"/><path fill="none" stroke="#000" d="M489.3 998.6 Q500.4 990.4 511.5 992.6" stroke-width="4.8" stroke-opacity="0.11"/><path fill="none" stroke="#000" d="M489.3 1008.1 Q500.4 999.9 511.5 1002.1" stroke-width="4.8" stroke-opacity="0.22"/><path fill="none" stroke="#000" d="M489.3 1017.6 Q500.4 1009.4 511.5 1011.6" stroke-width="4.8" stroke-opacity="0.27"/><path fill="none" stroke="#000" d="M489.3 1027.1 Q500.4 1018.9 511.5 1021.1" stroke-width="4.8" stroke-opacity="0.27"/><path fill="none" stroke="#000" d="M489.3 1036.1 Q500.4 1027.9 511.5 1030.1" stroke-width="4.8" stroke-opacity="0.39"/><path fill="none" stroke="#000" d="M489.3 1045.1 Q500.4 1036.9 511.5 1039.1" stroke-width="4.8" stroke-opacity="0.39"/><path fill="none" stroke="#000" d="M489.3 1054.6 Q500.4 1046.4 511.5 1048.6" stroke-width="4.8" stroke-opacity="0.13"/><path fill="none" stroke="#000" d="M489.3 1063.6 Q500.4 1055.4 511.5 1057.6" stroke-width="4.8" stroke-opacity="0.06"/></g>
<g filter="url(#bLC1)" fill="#000" stroke-linecap="round"><path fill="none" stroke="#000" d="M154.2 1109 Q162.5 1106 170.8 1109" stroke-width="8.5" stroke-opacity="0.70"/><path fill="none" stroke="#000" d="M154.2 1123.5 Q162.5 1120.5 170.8 1123.5" stroke-width="8.5" stroke-opacity="0.15"/><path fill="none" stroke="#000" d="M154.2 1140.5 Q162.5 1137.5 170.8 1140.5" stroke-width="8.5" stroke-opacity="0.05"/><path fill="none" stroke="#000" d="M154.2 1159.5 Q162.5 1156.5 170.8 1159.5" stroke-width="8.5" stroke-opacity="0.04"/><path fill="none" stroke="#000" d="M154.2 1216.5 Q162.5 1213.5 170.8 1216.5" stroke-width="8.5" stroke-opacity="0.03"/><path fill="none" stroke="#000" d="M154.2 1236.5 Q162.5 1233.5 170.8 1236.5" stroke-width="8.5" stroke-opacity="0.03"/><path fill="none" stroke="#000" d="M193.1 1091.6 Q201.8 1088 210.6 1091.6" stroke-width="8.5" stroke-opacity="0.17"/><path fill="none" stroke="#000" d="M193.1 1100.8 Q201.8 1097.2 210.6 1100.8" stroke-width="8.5" stroke-opacity="0.07"/><path fill="none" stroke="#000" d="M193.1 1108.3 Q201.8 1104.7 210.6 1108.3" stroke-width="8.5" stroke-opacity="0.14"/><path fill="none" stroke="#000" d="M193.1 1125.3 Q201.8 1121.7 210.6 1125.3" stroke-width="8.5" stroke-opacity="0.14"/><path fill="none" stroke="#000" d="M193.1 1141.3 Q201.8 1137.7 210.6 1141.3" stroke-width="8.5" stroke-opacity="0.08"/><path fill="none" stroke="#000" d="M193.1 1160.3 Q201.8 1156.7 210.6 1160.3" stroke-width="8.5" stroke-opacity="0.10"/><path fill="none" stroke="#000" d="M193.1 1183.8 Q201.8 1180.2 210.6 1183.8" stroke-width="8.5" stroke-opacity="0.05"/><path fill="none" stroke="#000" d="M193.1 1201.8 Q201.8 1198.2 210.6 1201.8" stroke-width="8.5" stroke-opacity="0.02"/><path fill="none" stroke="#000" d="M193.1 1219.8 Q201.8 1216.2 210.6 1219.8" stroke-width="8.5" stroke-opacity="0.02"/><path fill="none" stroke="#000" d="M193.1 1238.8 Q201.8 1235.2 210.6 1238.8" stroke-width="8.5" stroke-opacity="0.02"/><path fill="none" stroke="#000" d="M193.1 1261.8 Q201.8 1258.2 210.6 1261.8" stroke-width="8.5" stroke-opacity="0.02"/><path fill="none" stroke="#000" d="M234.8 1091.6 Q243.6 1088 252.3 1091.6" stroke-width="8.5" stroke-opacity="0.17"/><path fill="none" stroke="#000" d="M234.8 1100.8 Q243.6 1097.2 252.3 1100.8" stroke-width="8.5" stroke-opacity="0.07"/><path fill="none" stroke="#000" d="M234.8 1108.3 Q243.6 1104.7 252.3 1108.3" stroke-width="8.5" stroke-opacity="0.14"/><path fill="none" stroke="#000" d="M234.8 1125.3 Q243.6 1121.7 252.3 1125.3" stroke-width="8.5" stroke-opacity="0.14"/><path fill="none" stroke="#000" d="M234.8 1141.3 Q243.6 1137.7 252.3 1141.3" stroke-width="8.5" stroke-opacity="0.08"/><path fill="none" stroke="#000" d="M234.8 1160.3 Q243.6 1156.7 252.3 1160.3" stroke-width="8.5" stroke-opacity="0.10"/><path fill="none" stroke="#000" d="M234.8 1183.8 Q243.6 1180.2 252.3 1183.8" stroke-width="8.5" stroke-opacity="0.05"/><path fill="none" stroke="#000" d="M234.8 1201.8 Q243.6 1198.2 252.3 1201.8" stroke-width="8.5" stroke-opacity="0.02"/><path fill="none" stroke="#000" d="M234.8 1219.8 Q243.6 1216.2 252.3 1219.8" stroke-width="8.5" stroke-opacity="0.02"/><path fill="none" stroke="#000" d="M234.8 1238.8 Q243.6 1235.2 252.3 1238.8" stroke-width="8.5" stroke-opacity="0.02"/><path fill="none" stroke="#000" d="M234.8 1261.8 Q243.6 1258.2 252.3 1261.8" stroke-width="8.5" stroke-opacity="0.02"/><path fill="none" stroke="#000" d="M276.8 1091.6 Q285.5 1088 294.2 1091.6" stroke-width="8.5" stroke-opacity="0.17"/><path fill="none" stroke="#000" d="M276.8 1100.8 Q285.5 1097.2 294.2 1100.8" stroke-width="8.5" stroke-opacity="0.07"/><path fill="none" stroke="#000" d="M276.8 1108.3 Q285.5 1104.7 294.2 1108.3" stroke-width="8.5" stroke-opacity="0.14"/><path fill="none" stroke="#000" d="M276.8 1125.3 Q285.5 1121.7 294.2 1125.3" stroke-width="8.5" stroke-opacity="0.14"/><path fill="none" stroke="#000" d="M276.8 1141.3 Q285.5 1137.7 294.2 1141.3" stroke-width="8.5" stroke-opacity="0.08"/><path fill="none" stroke="#000" d="M276.8 1160.3 Q285.5 1156.7 294.2 1160.3" stroke-width="8.5" stroke-opacity="0.10"/><path fill="none" stroke="#000" d="M276.8 1183.8 Q285.5 1180.2 294.2 1183.8" stroke-width="8.5" stroke-opacity="0.05"/><path fill="none" stroke="#000" d="M276.8 1201.8 Q285.5 1198.2 294.2 1201.8" stroke-width="8.5" stroke-opacity="0.02"/><path fill="none" stroke="#000" d="M276.8 1219.8 Q285.5 1216.2 294.2 1219.8" stroke-width="8.5" stroke-opacity="0.02"/><path fill="none" stroke="#000" d="M276.8 1238.8 Q285.5 1235.2 294.2 1238.8" stroke-width="8.5" stroke-opacity="0.02"/><path fill="none" stroke="#000" d="M276.8 1261.8 Q285.5 1258.2 294.2 1261.8" stroke-width="8.5" stroke-opacity="0.02"/><path fill="none" stroke="#000" d="M317.9 1091.6 Q326.6 1088 335.4 1091.6" stroke-width="8.5" stroke-opacity="0.17"/><path fill="none" stroke="#000" d="M317.9 1100.8 Q326.6 1097.2 335.4 1100.8" stroke-width="8.5" stroke-opacity="0.07"/><path fill="none" stroke="#000" d="M317.9 1108.3 Q326.6 1104.7 335.4 1108.3" stroke-width="8.5" stroke-opacity="0.14"/><path fill="none" stroke="#000" d="M317.9 1125.3 Q326.6 1121.7 335.4 1125.3" stroke-width="8.5" stroke-opacity="0.14"/><path fill="none" stroke="#000" d="M317.9 1141.3 Q326.6 1137.7 335.4 1141.3" stroke-width="8.5" stroke-opacity="0.08"/><path fill="none" stroke="#000" d="M317.9 1160.3 Q326.6 1156.7 335.4 1160.3" stroke-width="8.5" stroke-opacity="0.10"/><path fill="none" stroke="#000" d="M317.9 1183.8 Q326.6 1180.2 335.4 1183.8" stroke-width="8.5" stroke-opacity="0.05"/><path fill="none" stroke="#000" d="M317.9 1201.8 Q326.6 1198.2 335.4 1201.8" stroke-width="8.5" stroke-opacity="0.02"/><path fill="none" stroke="#000" d="M317.9 1219.8 Q326.6 1216.2 335.4 1219.8" stroke-width="8.5" stroke-opacity="0.02"/><path fill="none" stroke="#000" d="M317.9 1238.8 Q326.6 1235.2 335.4 1238.8" stroke-width="8.5" stroke-opacity="0.02"/><path fill="none" stroke="#000" d="M317.9 1261.8 Q326.6 1258.2 335.4 1261.8" stroke-width="8.5" stroke-opacity="0.02"/><path fill="none" stroke="#000" d="M361.4 1091.6 Q370.1 1088 378.9 1091.6" stroke-width="8.5" stroke-opacity="0.17"/><path fill="none" stroke="#000" d="M361.4 1100.8 Q370.1 1097.2 378.9 1100.8" stroke-width="8.5" stroke-opacity="0.07"/><path fill="none" stroke="#000" d="M361.4 1108.3 Q370.1 1104.7 378.9 1108.3" stroke-width="8.5" stroke-opacity="0.14"/><path fill="none" stroke="#000" d="M361.4 1125.3 Q370.1 1121.7 378.9 1125.3" stroke-width="8.5" stroke-opacity="0.14"/><path fill="none" stroke="#000" d="M361.4 1141.3 Q370.1 1137.7 378.9 1141.3" stroke-width="8.5" stroke-opacity="0.08"/><path fill="none" stroke="#000" d="M361.4 1160.3 Q370.1 1156.7 378.9 1160.3" stroke-width="8.5" stroke-opacity="0.10"/><path fill="none" stroke="#000" d="M361.4 1183.8 Q370.1 1180.2 378.9 1183.8" stroke-width="8.5" stroke-opacity="0.05"/><path fill="none" stroke="#000" d="M361.4 1201.8 Q370.1 1198.2 378.9 1201.8" stroke-width="8.5" stroke-opacity="0.02"/><path fill="none" stroke="#000" d="M361.4 1219.8 Q370.1 1216.2 378.9 1219.8" stroke-width="8.5" stroke-opacity="0.02"/><path fill="none" stroke="#000" d="M361.4 1238.8 Q370.1 1235.2 378.9 1238.8" stroke-width="8.5" stroke-opacity="0.02"/><path fill="none" stroke="#000" d="M361.4 1261.8 Q370.1 1258.2 378.9 1261.8" stroke-width="8.5" stroke-opacity="0.02"/><path fill="none" stroke="#000" d="M405.4 1092.3 Q414.1 1091.8 422.9 1092.3" stroke-width="8.5" stroke-opacity="0.17"/><path fill="none" stroke="#000" d="M405.4 1101.5 Q414.1 1101 422.9 1101.5" stroke-width="8.5" stroke-opacity="0.07"/><path fill="none" stroke="#000" d="M405.4 1109 Q414.1 1108.5 422.9 1109" stroke-width="8.5" stroke-opacity="0.14"/><path fill="none" stroke="#000" d="M405.4 1126 Q414.1 1125.5 422.9 1126" stroke-width="8.5" stroke-opacity="0.14"/><path fill="none" stroke="#000" d="M405.4 1142 Q414.1 1141.5 422.9 1142" stroke-width="8.5" stroke-opacity="0.08"/><path fill="none" stroke="#000" d="M405.4 1161 Q414.1 1160.5 422.9 1161" stroke-width="8.5" stroke-opacity="0.04"/><path fill="none" stroke="#000" d="M405.4 1168.5 Q414.1 1168 422.9 1168.5" stroke-width="8.5" stroke-opacity="0.15"/><path fill="none" stroke="#000" d="M405.4 1184.5 Q414.1 1184 422.9 1184.5" stroke-width="8.5" stroke-opacity="0.14"/><path fill="none" stroke="#000" d="M405.4 1202.5 Q414.1 1202 422.9 1202.5" stroke-width="8.5" stroke-opacity="0.02"/><path fill="none" stroke="#000" d="M405.4 1220.5 Q414.1 1220 422.9 1220.5" stroke-width="8.5" stroke-opacity="0.02"/><path fill="none" stroke="#000" d="M405.4 1239.5 Q414.1 1239 422.9 1239.5" stroke-width="8.5" stroke-opacity="0.02"/><path fill="none" stroke="#000" d="M405.4 1262.5 Q414.1 1262 422.9 1262.5" stroke-width="8.5" stroke-opacity="0.02"/><path fill="none" stroke="#000" d="M446.9 1091.6 Q455.7 1088 464.4 1091.6" stroke-width="8.5" stroke-opacity="0.17"/><path fill="none" stroke="#000" d="M446.9 1100.8 Q455.7 1097.2 464.4 1100.8" stroke-width="8.5" stroke-opacity="0.07"/><path fill="none" stroke="#000" d="M446.9 1108.3 Q455.7 1104.7 464.4 1108.3" stroke-width="8.5" stroke-opacity="0.14"/><path fill="none" stroke="#000" d="M446.9 1125.3 Q455.7 1121.7 464.4 1125.3" stroke-width="8.5" stroke-opacity="0.14"/><path fill="none" stroke="#000" d="M446.9 1141.3 Q455.7 1137.7 464.4 1141.3" stroke-width="8.5" stroke-opacity="0.08"/><path fill="none" stroke="#000" d="M446.9 1160.3 Q455.7 1156.7 464.4 1160.3" stroke-width="8.5" stroke-opacity="0.10"/><path fill="none" stroke="#000" d="M446.9 1183.8 Q455.7 1180.2 464.4 1183.8" stroke-width="8.5" stroke-opacity="0.14"/><path fill="none" stroke="#000" d="M446.9 1201.8 Q455.7 1198.2 464.4 1201.8" stroke-width="8.5" stroke-opacity="0.02"/><path fill="none" stroke="#000" d="M446.9 1219.8 Q455.7 1216.2 464.4 1219.8" stroke-width="8.5" stroke-opacity="0.02"/><path fill="none" stroke="#000" d="M446.9 1238.8 Q455.7 1235.2 464.4 1238.8" stroke-width="8.5" stroke-opacity="0.02"/><path fill="none" stroke="#000" d="M446.9 1261.8 Q455.7 1258.2 464.4 1261.8" stroke-width="8.5" stroke-opacity="0.05"/><path fill="none" stroke="#000" d="M491.6 1096.1 Q500.4 1089.5 509.1 1090.1" stroke-width="8.5" stroke-opacity="0.17"/><path fill="none" stroke="#000" d="M491.6 1105.3 Q500.4 1098.7 509.1 1099.3" stroke-width="8.5" stroke-opacity="0.07"/><path fill="none" stroke="#000" d="M491.6 1112.8 Q500.4 1106.2 509.1 1106.8" stroke-width="8.5" stroke-opacity="0.14"/><path fill="none" stroke="#000" d="M491.6 1129.8 Q500.4 1123.2 509.1 1123.8" stroke-width="8.5" stroke-opacity="0.14"/><path fill="none" stroke="#000" d="M491.6 1145.8 Q500.4 1139.2 509.1 1139.8" stroke-width="8.5" stroke-opacity="0.08"/><path fill="none" stroke="#000" d="M491.6 1164.8 Q500.4 1158.2 509.1 1158.8" stroke-width="8.5" stroke-opacity="0.10"/><path fill="none" stroke="#000" d="M491.6 1172.3 Q500.4 1165.7 509.1 1166.3" stroke-width="8.5" stroke-opacity="0.15"/><path fill="none" stroke="#000" d="M491.6 1188.3 Q500.4 1181.7 509.1 1182.3" stroke-width="8.5" stroke-opacity="0.14"/><path fill="none" stroke="#000" d="M491.6 1206.3 Q500.4 1199.7 509.1 1200.3" stroke-width="8.5" stroke-opacity="0.10"/><path fill="none" stroke="#000" d="M491.6 1224.3 Q500.4 1217.7 509.1 1218.3" stroke-width="8.5" stroke-opacity="0.02"/><path fill="none" stroke="#000" d="M491.6 1243.3 Q500.4 1236.7 509.1 1237.3" stroke-width="8.5" stroke-opacity="0.02"/><path fill="none" stroke="#000" d="M491.6 1266.3 Q500.4 1259.7 509.1 1260.3" stroke-width="8.5" stroke-opacity="0.05"/></g>
</g>
<g filter="url(#bKC1)" fill="#000" stroke-linecap="round"><ellipse cx="162.5" cy="1064.8" rx="15" ry="11.2" fill-opacity="1.00"/><ellipse cx="162.5" cy="1064.8" rx="13" ry="9.2" fill-opacity="1.00"/><path fill="none" stroke="#000" d="M194.3 888.5 Q201.8 883.3 209.3 886.1" stroke-width="14.5" stroke-opacity="1.00"/><path fill="none" stroke="#000" d="M194.3 888.5 Q201.8 883.3 209.3 886.1" stroke-width="10.5" stroke-opacity="1.00"/><path fill="none" stroke="#000" d="M236.1 889.9 Q243.6 884.7 251.1 887.5" stroke-width="14.5" stroke-opacity="1.00"/><path fill="none" stroke="#000" d="M236.1 889.9 Q243.6 884.7 251.1 887.5" stroke-width="10.5" stroke-opacity="1.00"/><path fill="none" stroke="#000" d="M278 890.4 Q285.5 885.2 293 888" stroke-width="14.5" stroke-opacity="1.00"/><path fill="none" stroke="#000" d="M278 890.4 Q285.5 885.2 293 888" stroke-width="10.5" stroke-opacity="1.00"/><path fill="none" stroke="#000" d="M319.1 891.2 Q326.6 886 334.1 888.8" stroke-width="14.5" stroke-opacity="1.00"/><path fill="none" stroke="#000" d="M319.1 891.2 Q326.6 886 334.1 888.8" stroke-width="10.5" stroke-opacity="1.00"/><path fill="none" stroke="#000" d="M362.6 888.7 Q370.1 883.5 377.6 886.3" stroke-width="14.5" stroke-opacity="1.00"/><path fill="none" stroke="#000" d="M362.6 888.7 Q370.1 883.5 377.6 886.3" stroke-width="10.5" stroke-opacity="1.00"/><path fill="none" stroke="#000" d="M404.4 898.3 Q414.1 897.7 423.9 898.3" stroke-width="12.5" stroke-opacity="1.00"/><path fill="none" stroke="#000" d="M404.4 898.3 Q414.1 897.7 423.9 898.3" stroke-width="8.5" stroke-opacity="1.00"/><path fill="none" stroke="#000" d="M449.9 884 Q455.7 881 461.4 884" stroke-width="17" stroke-opacity="1.00"/><path fill="none" stroke="#000" d="M449.9 884 Q455.7 881 461.4 884" stroke-width="13" stroke-opacity="1.00"/><path fill="none" stroke="#000" d="M492.9 899 Q500.4 892 507.9 889" stroke-width="14.5" stroke-opacity="1.00"/><path fill="none" stroke="#000" d="M492.9 899 Q500.4 892 507.9 889" stroke-width="10.5" stroke-opacity="1.00"/></g>
<rect x="141.7" y="850.2" width="380" height="480.5" filter="url(#grain)" opacity="0.06"/>
</g>
<defs>
<filter id="bSC2" filterUnits="userSpaceOnUse" x="517.6" y="826.2" width="434.3" height="528.5"><feGaussianBlur stdDeviation="4.2"/></filter>
<filter id="bMC2" filterUnits="userSpaceOnUse" x="517.6" y="826.2" width="434.3" height="528.5"><feGaussianBlur stdDeviation="2.1"/></filter>
<filter id="bKC2" filterUnits="userSpaceOnUse" x="517.6" y="826.2" width="434.3" height="528.5"><feGaussianBlur stdDeviation="2.1"/></filter>
<filter id="bHC2" filterUnits="userSpaceOnUse" x="517.6" y="826.2" width="434.3" height="528.5"><feGaussianBlur stdDeviation="4.5"/></filter>
<filter id="bLC2" filterUnits="userSpaceOnUse" x="517.6" y="826.2" width="434.3" height="528.5"><feGaussianBlur stdDeviation="3.1"/></filter>
<filter id="bFC2" filterUnits="userSpaceOnUse" x="517.6" y="826.2" width="434.3" height="528.5"><feGaussianBlur stdDeviation="1.9"/></filter>
<filter id="sgC2" filterUnits="userSpaceOnUse" x="541.6" y="850.2" width="386.3" height="480.5" color-interpolation-filters="sRGB"><feTurbulence type="fractalNoise" baseFrequency="0.23" numOctaves="2" seed="124" result="t"/><feColorMatrix in="t" type="matrix" values="0 0 0 0 0  0 0 0 0 0  0 0 0 0 0  3.2 0 0 0 -1.1" result="n0"/><feGaussianBlur in="n0" stdDeviation="0.9" result="n"/><feComposite in="SourceGraphic" in2="n" operator="arithmetic" k1="0.44" k2="0.78" k3="0" k4="0"/></filter>
</defs>
<clipPath id="cC2"><rect x="541.6" y="850.2" width="386.3" height="480.5"/></clipPath>
<rect x="541.6" y="850.2" width="386.3" height="480.5" fill="#eeeeee"/>
<g clip-path="url(#cC2)">
<g filter="url(#sgC2)">
<g filter="url(#bSC2)" fill="#000"><rect x="550.9" y="1081.8" width="25" height="17.5" fill-opacity="0.093"/><rect x="550.9" y="1098.8" width="25" height="17.5" fill-opacity="0.080"/><rect x="550.9" y="1115.8" width="25" height="17.5" fill-opacity="0.067"/><rect x="550.9" y="1132.8" width="25" height="17.5" fill-opacity="0.053"/><rect x="550.9" y="1149.8" width="25" height="17.5" fill-opacity="0.040"/><rect x="550.9" y="1166.8" width="25" height="17.5" fill-opacity="0.027"/><rect x="595.6" y="1080.2" width="24" height="16.2" fill-opacity="0.112"/><rect x="595.6" y="1095.9" width="24" height="16.2" fill-opacity="0.095"/><rect x="595.6" y="1111.5" width="24" height="16.2" fill-opacity="0.078"/><rect x="595.6" y="1127.2" width="24" height="16.2" fill-opacity="0.062"/><rect x="595.6" y="1142.9" width="24" height="16.2" fill-opacity="0.045"/><rect x="595.6" y="1158.5" width="24" height="16.2" fill-opacity="0.028"/><rect x="596.1" y="904.3" width="23" height="13.1" fill-opacity="0.162"/><rect x="596.1" y="916.9" width="23" height="13.1" fill-opacity="0.145"/><rect x="596.1" y="929.5" width="23" height="13.1" fill-opacity="0.128"/><rect x="596.1" y="942.1" width="23" height="13.1" fill-opacity="0.112"/><rect x="596.1" y="954.8" width="23" height="13.1" fill-opacity="0.095"/><rect x="596.1" y="967.4" width="23" height="13.1" fill-opacity="0.078"/><rect x="596.1" y="980" width="23" height="13.8" fill-opacity="0.072"/><rect x="596.1" y="993.3" width="23" height="13.8" fill-opacity="0.075"/><rect x="596.1" y="1006.7" width="23" height="13.8" fill-opacity="0.078"/><rect x="596.1" y="1020" width="23" height="13.8" fill-opacity="0.082"/><rect x="596.1" y="1033.3" width="23" height="13.8" fill-opacity="0.085"/><rect x="596.1" y="1046.7" width="23" height="13.8" fill-opacity="0.088"/><rect x="635.8" y="1076.2" width="24" height="16.2" fill-opacity="0.112"/><rect x="635.8" y="1091.9" width="24" height="16.2" fill-opacity="0.095"/><rect x="635.8" y="1107.5" width="24" height="16.2" fill-opacity="0.078"/><rect x="635.8" y="1123.2" width="24" height="16.2" fill-opacity="0.062"/><rect x="635.8" y="1138.9" width="24" height="16.2" fill-opacity="0.045"/><rect x="635.8" y="1154.5" width="24" height="16.2" fill-opacity="0.028"/><rect x="636.3" y="892.4" width="23" height="15.1" fill-opacity="0.162"/><rect x="636.3" y="907" width="23" height="15.1" fill-opacity="0.145"/><rect x="636.3" y="921.6" width="23" height="15.1" fill-opacity="0.128"/><rect x="636.3" y="936.2" width="23" height="15.1" fill-opacity="0.112"/><rect x="636.3" y="950.8" width="23" height="15.1" fill-opacity="0.095"/><rect x="636.3" y="965.4" width="23" height="15.1" fill-opacity="0.078"/><rect x="636.3" y="980" width="23" height="13.8" fill-opacity="0.072"/><rect x="636.3" y="993.3" width="23" height="13.8" fill-opacity="0.075"/><rect x="636.3" y="1006.7" width="23" height="13.8" fill-opacity="0.078"/><rect x="636.3" y="1020" width="23" height="13.8" fill-opacity="0.082"/><rect x="636.3" y="1033.3" width="23" height="13.8" fill-opacity="0.085"/><rect x="636.3" y="1046.7" width="23" height="13.8" fill-opacity="0.088"/><rect x="679.6" y="1078.7" width="24" height="16.2" fill-opacity="0.112"/><rect x="679.6" y="1094.4" width="24" height="16.2" fill-opacity="0.095"/><rect x="679.6" y="1110" width="24" height="16.2" fill-opacity="0.078"/><rect x="679.6" y="1125.7" width="24" height="16.2" fill-opacity="0.062"/><rect x="679.6" y="1141.4" width="24" height="16.2" fill-opacity="0.045"/><rect x="679.6" y="1157" width="24" height="16.2" fill-opacity="0.028"/><rect x="680.1" y="903.8" width="23" height="13.2" fill-opacity="0.162"/><rect x="680.1" y="916.5" width="23" height="13.2" fill-opacity="0.145"/><rect x="680.1" y="929.2" width="23" height="13.2" fill-opacity="0.128"/><rect x="680.1" y="941.9" width="23" height="13.2" fill-opacity="0.112"/><rect x="680.1" y="954.6" width="23" height="13.2" fill-opacity="0.095"/><rect x="680.1" y="967.3" width="23" height="13.2" fill-opacity="0.078"/><rect x="680.1" y="980" width="23" height="13.8" fill-opacity="0.072"/><rect x="680.1" y="993.3" width="23" height="13.8" fill-opacity="0.075"/><rect x="680.1" y="1006.7" width="23" height="13.8" fill-opacity="0.078"/><rect x="680.1" y="1020" width="23" height="13.8" fill-opacity="0.082"/><rect x="680.1" y="1033.3" width="23" height="13.8" fill-opacity="0.085"/><rect x="680.1" y="1046.7" width="23" height="13.8" fill-opacity="0.088"/><rect x="721.5" y="1075.5" width="24" height="16.2" fill-opacity="0.112"/><rect x="721.5" y="1091.2" width="24" height="16.2" fill-opacity="0.095"/><rect x="721.5" y="1106.8" width="24" height="16.2" fill-opacity="0.078"/><rect x="721.5" y="1122.5" width="24" height="16.2" fill-opacity="0.062"/><rect x="721.5" y="1138.2" width="24" height="16.2" fill-opacity="0.045"/><rect x="721.5" y="1153.8" width="24" height="16.2" fill-opacity="0.028"/><rect x="722" y="901.3" width="23" height="13.6" fill-opacity="0.162"/><rect x="722" y="914.4" width="23" height="13.6" fill-opacity="0.145"/><rect x="722" y="927.5" width="23" height="13.6" fill-opacity="0.128"/><rect x="722" y="940.6" width="23" height="13.6" fill-opacity="0.112"/><rect x="722" y="953.8" width="23" height="13.6" fill-opacity="0.095"/><rect x="722" y="966.9" width="23" height="13.6" fill-opacity="0.078"/><rect x="722" y="980" width="23" height="13.8" fill-opacity="0.072"/><rect x="722" y="993.3" width="23" height="13.8" fill-opacity="0.075"/><rect x="722" y="1006.7" width="23" height="13.8" fill-opacity="0.078"/><rect x="722" y="1020" width="23" height="13.8" fill-opacity="0.082"/><rect x="722" y="1033.3" width="23" height="13.8" fill-opacity="0.085"/><rect x="722" y="1046.7" width="23" height="13.8" fill-opacity="0.088"/><rect x="765.2" y="1076.2" width="24" height="16.2" fill-opacity="0.112"/><rect x="765.2" y="1091.9" width="24" height="16.2" fill-opacity="0.095"/><rect x="765.2" y="1107.5" width="24" height="16.2" fill-opacity="0.078"/><rect x="765.2" y="1123.2" width="24" height="16.2" fill-opacity="0.062"/><rect x="765.2" y="1138.9" width="24" height="16.2" fill-opacity="0.045"/><rect x="765.2" y="1154.5" width="24" height="16.2" fill-opacity="0.028"/><rect x="765.7" y="902.8" width="23" height="13.4" fill-opacity="0.162"/><rect x="765.7" y="915.7" width="23" height="13.4" fill-opacity="0.145"/><rect x="765.7" y="928.5" width="23" height="13.4" fill-opacity="0.128"/><rect x="765.7" y="941.4" width="23" height="13.4" fill-opacity="0.112"/><rect x="765.7" y="954.3" width="23" height="13.4" fill-opacity="0.095"/><rect x="765.7" y="967.1" width="23" height="13.4" fill-opacity="0.078"/><rect x="765.7" y="980" width="23" height="13.8" fill-opacity="0.072"/><rect x="765.7" y="993.3" width="23" height="13.8" fill-opacity="0.075"/><rect x="765.7" y="1006.7" width="23" height="13.8" fill-opacity="0.078"/><rect x="765.7" y="1020" width="23" height="13.8" fill-opacity="0.082"/><rect x="765.7" y="1033.3" width="23" height="13.8" fill-opacity="0.085"/><rect x="765.7" y="1046.7" width="23" height="13.8" fill-opacity="0.088"/><rect x="811" y="1076.7" width="24" height="16.2" fill-opacity="0.112"/><rect x="811" y="1092.4" width="24" height="16.2" fill-opacity="0.095"/><rect x="811" y="1108" width="24" height="16.2" fill-opacity="0.078"/><rect x="811" y="1123.7" width="24" height="16.2" fill-opacity="0.062"/><rect x="811" y="1139.4" width="24" height="16.2" fill-opacity="0.045"/><rect x="811" y="1155" width="24" height="16.2" fill-opacity="0.028"/><rect x="811.5" y="902.8" width="23" height="13.4" fill-opacity="0.162"/><rect x="811.5" y="915.7" width="23" height="13.4" fill-opacity="0.145"/><rect x="811.5" y="928.5" width="23" height="13.4" fill-opacity="0.128"/><rect x="811.5" y="941.4" width="23" height="13.4" fill-opacity="0.112"/><rect x="811.5" y="954.3" width="23" height="13.4" fill-opacity="0.095"/><rect x="811.5" y="967.1" width="23" height="13.4" fill-opacity="0.078"/><rect x="811.5" y="980" width="23" height="13.8" fill-opacity="0.072"/><rect x="811.5" y="993.3" width="23" height="13.8" fill-opacity="0.075"/><rect x="811.5" y="1006.7" width="23" height="13.8" fill-opacity="0.078"/><rect x="811.5" y="1020" width="23" height="13.8" fill-opacity="0.082"/><rect x="811.5" y="1033.3" width="23" height="13.8" fill-opacity="0.085"/><rect x="811.5" y="1046.7" width="23" height="13.8" fill-opacity="0.088"/><rect x="855.4" y="1076.2" width="24" height="16.2" fill-opacity="0.112"/><rect x="855.4" y="1091.9" width="24" height="16.2" fill-opacity="0.095"/><rect x="855.4" y="1107.5" width="24" height="16.2" fill-opacity="0.078"/><rect x="855.4" y="1123.2" width="24" height="16.2" fill-opacity="0.062"/><rect x="855.4" y="1138.9" width="24" height="16.2" fill-opacity="0.045"/><rect x="855.4" y="1154.5" width="24" height="16.2" fill-opacity="0.028"/><rect x="855.9" y="902.8" width="23" height="13.4" fill-opacity="0.162"/><rect x="855.9" y="915.7" width="23" height="13.4" fill-opacity="0.145"/><rect x="855.9" y="928.5" width="23" height="13.4" fill-opacity="0.128"/><rect x="855.9" y="941.4" width="23" height="13.4" fill-opacity="0.112"/><rect x="855.9" y="954.3" width="23" height="13.4" fill-opacity="0.095"/><rect x="855.9" y="967.1" width="23" height="13.4" fill-opacity="0.078"/><rect x="855.9" y="980" width="23" height="13.8" fill-opacity="0.072"/><rect x="855.9" y="993.3" width="23" height="13.8" fill-opacity="0.075"/><rect x="855.9" y="1006.7" width="23" height="13.8" fill-opacity="0.078"/><rect x="855.9" y="1020" width="23" height="13.8" fill-opacity="0.082"/><rect x="855.9" y="1033.3" width="23" height="13.8" fill-opacity="0.085"/><rect x="855.9" y="1046.7" width="23" height="13.8" fill-opacity="0.088"/><rect x="897.2" y="1069.3" width="26" height="16.2" fill-opacity="0.093"/><rect x="897.2" y="1085" width="26" height="16.2" fill-opacity="0.080"/><rect x="897.2" y="1100.6" width="26" height="16.2" fill-opacity="0.067"/><rect x="897.2" y="1116.3" width="26" height="16.2" fill-opacity="0.053"/><rect x="897.2" y="1132" width="26" height="16.2" fill-opacity="0.040"/><rect x="897.2" y="1147.6" width="26" height="16.2" fill-opacity="0.027"/><rect x="898.7" y="900" width="23" height="26.3" fill-opacity="0.039"/><rect x="898.7" y="925.8" width="23" height="26.3" fill-opacity="0.037"/><rect x="898.7" y="951.7" width="23" height="26.3" fill-opacity="0.036"/><rect x="898.7" y="977.5" width="23" height="26.3" fill-opacity="0.034"/><rect x="898.7" y="1003.3" width="23" height="26.3" fill-opacity="0.033"/><rect x="898.7" y="1029.2" width="23" height="26.3" fill-opacity="0.031"/></g>
<g filter="url(#bHC2)" fill="#000" stroke-linecap="round"><ellipse cx="563.4" cy="1076.3" rx="18.8" ry="15.5" fill-opacity="0.50"/><ellipse cx="563.4" cy="1075.8" rx="20" ry="17" fill-opacity="0.35"/><path fill="none" stroke="#000" d="M598.6 1077.3 Q607.6 1076.1 616.6 1077.3" stroke-width="16.5" stroke-opacity="0.50"/><path fill="none" stroke="#000" d="M600.4 901.3 Q607.6 900.3 614.9 901.3" stroke-width="20.5" stroke-opacity="0.50"/><ellipse cx="607.6" cy="906.8" rx="14" ry="7.5" fill-opacity="0.36"/><path fill="none" stroke="#000" d="M638.8 1073.3 Q647.8 1072.1 656.8 1073.3" stroke-width="16.5" stroke-opacity="0.50"/><ellipse cx="647.8" cy="888.9" rx="15" ry="14.5" fill-opacity="0.50"/><ellipse cx="647.8" cy="896.4" rx="12.5" ry="8" fill-opacity="0.40"/><path fill="none" stroke="#000" d="M682.6 1075.8 Q691.6 1074.6 700.6 1075.8" stroke-width="16.5" stroke-opacity="0.50"/><path fill="none" stroke="#000" d="M684.4 900.8 Q691.6 899.8 698.9 900.8" stroke-width="20.5" stroke-opacity="0.50"/><ellipse cx="691.6" cy="906.3" rx="14" ry="7.5" fill-opacity="0.36"/><path fill="none" stroke="#000" d="M724.5 1072.6 Q733.5 1071.4 742.5 1072.6" stroke-width="16.5" stroke-opacity="0.50"/><path fill="none" stroke="#000" d="M726.2 898.3 Q733.5 897.3 740.8 898.3" stroke-width="20.5" stroke-opacity="0.50"/><ellipse cx="733.5" cy="903.8" rx="14" ry="7.5" fill-opacity="0.36"/><path fill="none" stroke="#000" d="M768.2 1073.3 Q777.2 1072.1 786.2 1073.3" stroke-width="16.5" stroke-opacity="0.50"/><path fill="none" stroke="#000" d="M770 899.8 Q777.2 898.8 784.5 899.8" stroke-width="20.5" stroke-opacity="0.50"/><ellipse cx="777.2" cy="905.3" rx="14" ry="7.5" fill-opacity="0.36"/><path fill="none" stroke="#000" d="M814 1073.8 Q823 1072.6 832 1073.8" stroke-width="16.5" stroke-opacity="0.50"/><path fill="none" stroke="#000" d="M815.8 899.8 Q823 898.8 830.2 899.8" stroke-width="20.5" stroke-opacity="0.50"/><ellipse cx="823" cy="905.3" rx="14" ry="7.5" fill-opacity="0.36"/><path fill="none" stroke="#000" d="M857.9 1073.3 Q867.4 1072.1 876.9 1073.3" stroke-width="15.5" stroke-opacity="0.50"/><path fill="none" stroke="#000" d="M860.1 899.8 Q867.4 898.8 874.6 899.8" stroke-width="20.5" stroke-opacity="0.50"/><ellipse cx="867.4" cy="905.3" rx="14" ry="7.5" fill-opacity="0.36"/><path fill="none" stroke="#000" d="M902.7 1067.6 Q910.2 1064 917.7 1067.6" stroke-width="20" stroke-opacity="0.50"/><ellipse cx="910.2" cy="897" rx="11" ry="9" fill-opacity="0.20"/></g>
<g filter="url(#bMC2)" fill="#000" stroke-linecap="round"><path fill="none" stroke="#000" d="M597.6 967.6 Q607.6 966.4 617.6 967.6" stroke-width="7" stroke-opacity="0.04"/><path fill="none" stroke="#000" d="M597.6 977.6 Q607.6 976.4 617.6 977.6" stroke-width="7" stroke-opacity="0.08"/><path fill="none" stroke="#000" d="M597.6 989.6 Q607.6 988.4 617.6 989.6" stroke-width="7" stroke-opacity="0.18"/><path fill="none" stroke="#000" d="M597.6 999.8 Q607.6 998.6 617.6 999.8" stroke-width="7" stroke-opacity="0.18"/><path fill="none" stroke="#000" d="M597.6 1009.7 Q607.6 1008.5 617.6 1009.7" stroke-width="7" stroke-opacity="0.20"/><path fill="none" stroke="#000" d="M597.6 1020.1 Q607.6 1018.9 617.6 1020.1" stroke-width="7" stroke-opacity="0.07"/><path fill="none" stroke="#000" d="M637.8 963.6 Q647.8 962.4 657.8 963.6" stroke-width="7" stroke-opacity="0.04"/><path fill="none" stroke="#000" d="M637.8 973.6 Q647.8 972.4 657.8 973.6" stroke-width="7" stroke-opacity="0.08"/><path fill="none" stroke="#000" d="M637.8 985.6 Q647.8 984.4 657.8 985.6" stroke-width="7" stroke-opacity="0.19"/><path fill="none" stroke="#000" d="M637.8 995.8 Q647.8 994.6 657.8 995.8" stroke-width="7" stroke-opacity="0.19"/><path fill="none" stroke="#000" d="M637.8 1005.7 Q647.8 1004.5 657.8 1005.7" stroke-width="7" stroke-opacity="0.21"/><path fill="none" stroke="#000" d="M637.8 1016.1 Q647.8 1014.9 657.8 1016.1" stroke-width="7" stroke-opacity="0.07"/><path fill="none" stroke="#000" d="M681.6 966.6 Q691.6 965.4 701.6 966.6" stroke-width="7" stroke-opacity="0.04"/><path fill="none" stroke="#000" d="M681.6 976.6 Q691.6 975.4 701.6 976.6" stroke-width="7" stroke-opacity="0.08"/><path fill="none" stroke="#000" d="M681.6 988.6 Q691.6 987.4 701.6 988.6" stroke-width="7" stroke-opacity="0.18"/><path fill="none" stroke="#000" d="M681.6 998.8 Q691.6 997.6 701.6 998.8" stroke-width="7" stroke-opacity="0.18"/><path fill="none" stroke="#000" d="M681.6 1008.7 Q691.6 1007.5 701.6 1008.7" stroke-width="7" stroke-opacity="0.20"/><path fill="none" stroke="#000" d="M681.6 1019.1 Q691.6 1017.9 701.6 1019.1" stroke-width="7" stroke-opacity="0.07"/><path fill="none" stroke="#000" d="M723.5 964.6 Q733.5 963.4 743.5 964.6" stroke-width="7" stroke-opacity="0.04"/><path fill="none" stroke="#000" d="M723.5 974.6 Q733.5 973.4 743.5 974.6" stroke-width="7" stroke-opacity="0.08"/><path fill="none" stroke="#000" d="M723.5 986.6 Q733.5 985.4 743.5 986.6" stroke-width="7" stroke-opacity="0.18"/><path fill="none" stroke="#000" d="M723.5 996.8 Q733.5 995.6 743.5 996.8" stroke-width="7" stroke-opacity="0.18"/><path fill="none" stroke="#000" d="M723.5 1006.7 Q733.5 1005.5 743.5 1006.7" stroke-width="7" stroke-opacity="0.20"/><path fill="none" stroke="#000" d="M723.5 1017.1 Q733.5 1015.9 743.5 1017.1" stroke-width="7" stroke-opacity="0.07"/><path fill="none" stroke="#000" d="M767.2 965.6 Q777.2 964.4 787.2 965.6" stroke-width="7" stroke-opacity="0.03"/><path fill="none" stroke="#000" d="M767.2 975.6 Q777.2 974.4 787.2 975.6" stroke-width="7" stroke-opacity="0.07"/><path fill="none" stroke="#000" d="M767.2 987.6 Q777.2 986.4 787.2 987.6" stroke-width="7" stroke-opacity="0.15"/><path fill="none" stroke="#000" d="M767.2 997.8 Q777.2 996.6 787.2 997.8" stroke-width="7" stroke-opacity="0.15"/><path fill="none" stroke="#000" d="M767.2 1007.7 Q777.2 1006.5 787.2 1007.7" stroke-width="7" stroke-opacity="0.17"/><path fill="none" stroke="#000" d="M767.2 1018.1 Q777.2 1016.9 787.2 1018.1" stroke-width="7" stroke-opacity="0.06"/><path fill="none" stroke="#000" d="M813 966.6 Q823 965.4 833 966.6" stroke-width="7" stroke-opacity="0.03"/><path fill="none" stroke="#000" d="M813 976.6 Q823 975.4 833 976.6" stroke-width="7" stroke-opacity="0.06"/><path fill="none" stroke="#000" d="M813 988.6 Q823 987.4 833 988.6" stroke-width="7" stroke-opacity="0.14"/><path fill="none" stroke="#000" d="M813 998.8 Q823 997.6 833 998.8" stroke-width="7" stroke-opacity="0.14"/><path fill="none" stroke="#000" d="M813 1008.7 Q823 1007.5 833 1008.7" stroke-width="7" stroke-opacity="0.15"/><path fill="none" stroke="#000" d="M813 1019.1 Q823 1017.9 833 1019.1" stroke-width="7" stroke-opacity="0.05"/><path fill="none" stroke="#000" d="M857.4 966.6 Q867.4 965.4 877.4 966.6" stroke-width="7" stroke-opacity="0.02"/><path fill="none" stroke="#000" d="M857.4 976.6 Q867.4 975.4 877.4 976.6" stroke-width="7" stroke-opacity="0.05"/><path fill="none" stroke="#000" d="M857.4 988.6 Q867.4 987.4 877.4 988.6" stroke-width="7" stroke-opacity="0.11"/><path fill="none" stroke="#000" d="M857.4 998.8 Q867.4 997.6 877.4 998.8" stroke-width="7" stroke-opacity="0.11"/><path fill="none" stroke="#000" d="M857.4 1008.7 Q867.4 1007.5 877.4 1008.7" stroke-width="7" stroke-opacity="0.12"/><path fill="none" stroke="#000" d="M857.4 1019.1 Q867.4 1017.9 877.4 1019.1" stroke-width="7" stroke-opacity="0.04"/><ellipse cx="910.2" cy="1000.2" rx="13.5" ry="3.5" fill-opacity="0.08"/></g>
<g filter="url(#bFC2)" fill="#000" stroke-linecap="round"></g>
<g filter="url(#bLC2)" fill="#000" stroke-linecap="round"><ellipse cx="563.4" cy="1100.8" rx="13" ry="4" fill-opacity="0.12"/><ellipse cx="563.4" cy="1115.5" rx="13" ry="4" fill-opacity="0.72"/><ellipse cx="563.4" cy="1129.8" rx="13" ry="4" fill-opacity="0.16"/><ellipse cx="563.4" cy="1147.8" rx="13" ry="4" fill-opacity="0.06"/><ellipse cx="563.4" cy="1166.8" rx="13" ry="4" fill-opacity="0.04"/><ellipse cx="563.4" cy="1183.8" rx="13" ry="4" fill-opacity="0.06"/><ellipse cx="563.4" cy="1201.8" rx="13" ry="4" fill-opacity="0.06"/><ellipse cx="563.4" cy="1225.8" rx="13" ry="4" fill-opacity="0.04"/><ellipse cx="563.4" cy="1243.8" rx="13" ry="4" fill-opacity="0.04"/><ellipse cx="563.4" cy="1261.8" rx="13" ry="4" fill-opacity="0.04"/><ellipse cx="563.4" cy="1279.8" rx="13" ry="4" fill-opacity="0.04"/><ellipse cx="607.6" cy="1062.4" rx="13.5" ry="5.5" fill-opacity="0.50"/><path fill="none" stroke="#000" d="M598.9 1086 Q607.6 1084.4 616.4 1086" stroke-width="9" stroke-opacity="0.25"/><path fill="none" stroke="#000" d="M598.9 1099.5 Q607.6 1097.9 616.4 1099.5" stroke-width="9" stroke-opacity="0.16"/><path fill="none" stroke="#000" d="M598.9 1115.3 Q607.6 1113.7 616.4 1115.3" stroke-width="9" stroke-opacity="0.28"/><path fill="none" stroke="#000" d="M598.9 1131 Q607.6 1129.4 616.4 1131" stroke-width="9" stroke-opacity="0.08"/><path fill="none" stroke="#000" d="M598.9 1149 Q607.6 1147.4 616.4 1149" stroke-width="9" stroke-opacity="0.05"/><path fill="none" stroke="#000" d="M598.9 1167 Q607.6 1165.4 616.4 1167" stroke-width="9" stroke-opacity="0.04"/><path fill="none" stroke="#000" d="M598.9 1185 Q607.6 1183.4 616.4 1185" stroke-width="9" stroke-opacity="0.03"/><path fill="none" stroke="#000" d="M598.9 1205 Q607.6 1203.4 616.4 1205" stroke-width="9" stroke-opacity="0.03"/><ellipse cx="647.8" cy="1058.4" rx="13.5" ry="5.5" fill-opacity="0.55"/><path fill="none" stroke="#000" d="M639 1083.5 Q647.8 1081.9 656.5 1083.5" stroke-width="9" stroke-opacity="0.28"/><path fill="none" stroke="#000" d="M639 1098 Q647.8 1096.4 656.5 1098" stroke-width="9" stroke-opacity="0.13"/><path fill="none" stroke="#000" d="M639 1112.3 Q647.8 1110.7 656.5 1112.3" stroke-width="9" stroke-opacity="0.25"/><path fill="none" stroke="#000" d="M639 1127 Q647.8 1125.4 656.5 1127" stroke-width="9" stroke-opacity="0.08"/><path fill="none" stroke="#000" d="M639 1143 Q647.8 1141.4 656.5 1143" stroke-width="9" stroke-opacity="0.06"/><path fill="none" stroke="#000" d="M639 1161 Q647.8 1159.4 656.5 1161" stroke-width="9" stroke-opacity="0.04"/><path fill="none" stroke="#000" d="M639 1179 Q647.8 1177.4 656.5 1179" stroke-width="9" stroke-opacity="0.03"/><path fill="none" stroke="#000" d="M639 1199 Q647.8 1197.4 656.5 1199" stroke-width="9" stroke-opacity="0.03"/><ellipse cx="691.6" cy="1060.9" rx="13.5" ry="5.5" fill-opacity="0.50"/><path fill="none" stroke="#000" d="M682.9 1086 Q691.6 1084.4 700.4 1086" stroke-width="9" stroke-opacity="0.28"/><path fill="none" stroke="#000" d="M682.9 1100.5 Q691.6 1098.9 700.4 1100.5" stroke-width="9" stroke-opacity="0.13"/><path fill="none" stroke="#000" d="M682.9 1114.8 Q691.6 1113.2 700.4 1114.8" stroke-width="9" stroke-opacity="0.25"/><path fill="none" stroke="#000" d="M682.9 1129.5 Q691.6 1127.9 700.4 1129.5" stroke-width="9" stroke-opacity="0.08"/><path fill="none" stroke="#000" d="M682.9 1145.5 Q691.6 1143.9 700.4 1145.5" stroke-width="9" stroke-opacity="0.06"/><path fill="none" stroke="#000" d="M682.9 1163.5 Q691.6 1161.9 700.4 1163.5" stroke-width="9" stroke-opacity="0.04"/><path fill="none" stroke="#000" d="M682.9 1181.5 Q691.6 1179.9 700.4 1181.5" stroke-width="9" stroke-opacity="0.03"/><path fill="none" stroke="#000" d="M682.9 1201.5 Q691.6 1199.9 700.4 1201.5" stroke-width="9" stroke-opacity="0.03"/><ellipse cx="733.5" cy="1057.7" rx="13.5" ry="5.5" fill-opacity="0.50"/><path fill="none" stroke="#000" d="M724.8 1082.8 Q733.5 1081.2 742.2 1082.8" stroke-width="9" stroke-opacity="0.28"/><path fill="none" stroke="#000" d="M724.8 1097.3 Q733.5 1095.7 742.2 1097.3" stroke-width="9" stroke-opacity="0.13"/><path fill="none" stroke="#000" d="M724.8 1111.6 Q733.5 1110 742.2 1111.6" stroke-width="9" stroke-opacity="0.25"/><path fill="none" stroke="#000" d="M724.8 1126.3 Q733.5 1124.7 742.2 1126.3" stroke-width="9" stroke-opacity="0.08"/><path fill="none" stroke="#000" d="M724.8 1142.3 Q733.5 1140.7 742.2 1142.3" stroke-width="9" stroke-opacity="0.06"/><path fill="none" stroke="#000" d="M724.8 1160.3 Q733.5 1158.7 742.2 1160.3" stroke-width="9" stroke-opacity="0.04"/><path fill="none" stroke="#000" d="M724.8 1178.3 Q733.5 1176.7 742.2 1178.3" stroke-width="9" stroke-opacity="0.03"/><path fill="none" stroke="#000" d="M724.8 1198.3 Q733.5 1196.7 742.2 1198.3" stroke-width="9" stroke-opacity="0.03"/><ellipse cx="777.2" cy="1058.4" rx="13.5" ry="5.5" fill-opacity="0.50"/><path fill="none" stroke="#000" d="M768.5 1083.5 Q777.2 1081.9 786 1083.5" stroke-width="9" stroke-opacity="0.28"/><path fill="none" stroke="#000" d="M768.5 1098 Q777.2 1096.4 786 1098" stroke-width="9" stroke-opacity="0.13"/><path fill="none" stroke="#000" d="M768.5 1112.3 Q777.2 1110.7 786 1112.3" stroke-width="9" stroke-opacity="0.25"/><path fill="none" stroke="#000" d="M768.5 1127 Q777.2 1125.4 786 1127" stroke-width="9" stroke-opacity="0.08"/><path fill="none" stroke="#000" d="M768.5 1143 Q777.2 1141.4 786 1143" stroke-width="9" stroke-opacity="0.06"/><path fill="none" stroke="#000" d="M768.5 1161 Q777.2 1159.4 786 1161" stroke-width="9" stroke-opacity="0.04"/><path fill="none" stroke="#000" d="M768.5 1179 Q777.2 1177.4 786 1179" stroke-width="9" stroke-opacity="0.03"/><path fill="none" stroke="#000" d="M768.5 1199 Q777.2 1197.4 786 1199" stroke-width="9" stroke-opacity="0.03"/><ellipse cx="823" cy="1058.9" rx="13.5" ry="5.5" fill-opacity="0.50"/><path fill="none" stroke="#000" d="M814.2 1084 Q823 1082.4 831.8 1084" stroke-width="9" stroke-opacity="0.28"/><path fill="none" stroke="#000" d="M814.2 1098.5 Q823 1096.9 831.8 1098.5" stroke-width="9" stroke-opacity="0.13"/><path fill="none" stroke="#000" d="M814.2 1112.8 Q823 1111.2 831.8 1112.8" stroke-width="9" stroke-opacity="0.25"/><path fill="none" stroke="#000" d="M814.2 1127.5 Q823 1125.9 831.8 1127.5" stroke-width="9" stroke-opacity="0.08"/><path fill="none" stroke="#000" d="M814.2 1143.5 Q823 1141.9 831.8 1143.5" stroke-width="9" stroke-opacity="0.06"/><path fill="none" stroke="#000" d="M814.2 1161.5 Q823 1159.9 831.8 1161.5" stroke-width="9" stroke-opacity="0.04"/><path fill="none" stroke="#000" d="M814.2 1179.5 Q823 1177.9 831.8 1179.5" stroke-width="9" stroke-opacity="0.03"/><path fill="none" stroke="#000" d="M814.2 1199.5 Q823 1197.9 831.8 1199.5" stroke-width="9" stroke-opacity="0.03"/><ellipse cx="867.4" cy="1058.4" rx="13.5" ry="5.5" fill-opacity="0.50"/><path fill="none" stroke="#000" d="M858.6 1084.5 Q867.4 1082.9 876.1 1084.5" stroke-width="9" stroke-opacity="0.36"/><path fill="none" stroke="#000" d="M858.6 1098.4 Q867.4 1096.8 876.1 1098.4" stroke-width="9" stroke-opacity="0.20"/><path fill="none" stroke="#000" d="M858.6 1112.3 Q867.4 1110.7 876.1 1112.3" stroke-width="9" stroke-opacity="0.28"/><path fill="none" stroke="#000" d="M858.6 1127 Q867.4 1125.4 876.1 1127" stroke-width="9" stroke-opacity="0.09"/><path fill="none" stroke="#000" d="M858.6 1143 Q867.4 1141.4 876.1 1143" stroke-width="9" stroke-opacity="0.07"/><path fill="none" stroke="#000" d="M858.6 1161 Q867.4 1159.4 876.1 1161" stroke-width="9" stroke-opacity="0.05"/><path fill="none" stroke="#000" d="M858.6 1179 Q867.4 1177.4 876.1 1179" stroke-width="9" stroke-opacity="0.04"/><path fill="none" stroke="#000" d="M858.6 1199 Q867.4 1197.4 876.1 1199" stroke-width="9" stroke-opacity="0.03"/><ellipse cx="910.2" cy="1052.3" rx="13" ry="5" fill-opacity="0.40"/><path fill="none" stroke="#000" d="M901 1078.3 Q910.2 1075.1 919.5 1078.3" stroke-width="8.5" stroke-opacity="0.68"/><path fill="none" stroke="#000" d="M901 1092.2 Q910.2 1089 919.5 1092.2" stroke-width="8.5" stroke-opacity="0.26"/><path fill="none" stroke="#000" d="M901 1107.1 Q910.2 1103.9 919.5 1107.1" stroke-width="8.5" stroke-opacity="0.41"/><path fill="none" stroke="#000" d="M901 1121 Q910.2 1117.8 919.5 1121" stroke-width="8.5" stroke-opacity="0.17"/><path fill="none" stroke="#000" d="M901 1136.9 Q910.2 1133.7 919.5 1136.9" stroke-width="8.5" stroke-opacity="0.12"/><path fill="none" stroke="#000" d="M901 1152.9 Q910.2 1149.7 919.5 1152.9" stroke-width="8.5" stroke-opacity="0.08"/><path fill="none" stroke="#000" d="M901 1170.9 Q910.2 1167.7 919.5 1170.9" stroke-width="8.5" stroke-opacity="0.08"/><path fill="none" stroke="#000" d="M901 1186.9 Q910.2 1183.7 919.5 1186.9" stroke-width="8.5" stroke-opacity="0.06"/><ellipse cx="910.2" cy="881.8" rx="12.5" ry="11.5" fill-opacity="0.58"/></g>
</g>
<g filter="url(#bKC2)" fill="#000" stroke-linecap="round"><ellipse cx="563.4" cy="1073.8" rx="16.8" ry="12" fill-opacity="1.00"/><ellipse cx="563.4" cy="1073.8" rx="14.8" ry="10" fill-opacity="1.00"/><ellipse cx="562.9" cy="1081.8" rx="11.5" ry="7" fill-opacity="0.90"/><path fill="none" stroke="#000" d="M597.1 1074.8 Q607.6 1073.6 618.1 1074.8" stroke-width="9.5" stroke-opacity="1.00"/><path fill="none" stroke="#000" d="M597.1 1074.8 Q607.6 1073.6 618.1 1074.8" stroke-width="5.5" stroke-opacity="1.00"/><path fill="none" stroke="#000" d="M598.9 898.8 Q607.6 897.8 616.4 898.8" stroke-width="13.5" stroke-opacity="1.00"/><path fill="none" stroke="#000" d="M598.9 898.8 Q607.6 897.8 616.4 898.8" stroke-width="9.5" stroke-opacity="1.00"/><path fill="none" stroke="#000" d="M637.3 1070.8 Q647.8 1069.6 658.3 1070.8" stroke-width="9.5" stroke-opacity="1.00"/><path fill="none" stroke="#000" d="M637.3 1070.8 Q647.8 1069.6 658.3 1070.8" stroke-width="5.5" stroke-opacity="1.00"/><ellipse cx="647.8" cy="886.4" rx="13" ry="11" fill-opacity="1.00"/><ellipse cx="647.8" cy="886.4" rx="11" ry="9" fill-opacity="1.00"/><path fill="none" stroke="#000" d="M681.1 1073.3 Q691.6 1072.1 702.1 1073.3" stroke-width="9.5" stroke-opacity="1.00"/><path fill="none" stroke="#000" d="M681.1 1073.3 Q691.6 1072.1 702.1 1073.3" stroke-width="5.5" stroke-opacity="1.00"/><path fill="none" stroke="#000" d="M682.9 898.3 Q691.6 897.3 700.4 898.3" stroke-width="13.5" stroke-opacity="1.00"/><path fill="none" stroke="#000" d="M682.9 898.3 Q691.6 897.3 700.4 898.3" stroke-width="9.5" stroke-opacity="1.00"/><path fill="none" stroke="#000" d="M723 1070.1 Q733.5 1068.9 744 1070.1" stroke-width="9.5" stroke-opacity="1.00"/><path fill="none" stroke="#000" d="M723 1070.1 Q733.5 1068.9 744 1070.1" stroke-width="5.5" stroke-opacity="1.00"/><path fill="none" stroke="#000" d="M724.8 895.8 Q733.5 894.8 742.2 895.8" stroke-width="13.5" stroke-opacity="1.00"/><path fill="none" stroke="#000" d="M724.8 895.8 Q733.5 894.8 742.2 895.8" stroke-width="9.5" stroke-opacity="1.00"/><path fill="none" stroke="#000" d="M766.7 1070.8 Q777.2 1069.6 787.7 1070.8" stroke-width="9.5" stroke-opacity="1.00"/><path fill="none" stroke="#000" d="M766.7 1070.8 Q777.2 1069.6 787.7 1070.8" stroke-width="5.5" stroke-opacity="1.00"/><path fill="none" stroke="#000" d="M768.5 897.3 Q777.2 896.3 786 897.3" stroke-width="13.5" stroke-opacity="1.00"/><path fill="none" stroke="#000" d="M768.5 897.3 Q777.2 896.3 786 897.3" stroke-width="9.5" stroke-opacity="1.00"/><path fill="none" stroke="#000" d="M812.5 1071.3 Q823 1070.1 833.5 1071.3" stroke-width="9.5" stroke-opacity="1.00"/><path fill="none" stroke="#000" d="M812.5 1071.3 Q823 1070.1 833.5 1071.3" stroke-width="5.5" stroke-opacity="1.00"/><path fill="none" stroke="#000" d="M814.2 897.3 Q823 896.3 831.8 897.3" stroke-width="13.5" stroke-opacity="1.00"/><path fill="none" stroke="#000" d="M814.2 897.3 Q823 896.3 831.8 897.3" stroke-width="9.5" stroke-opacity="1.00"/><path fill="none" stroke="#000" d="M856.4 1070.8 Q867.4 1069.6 878.4 1070.8" stroke-width="8.5" stroke-opacity="1.00"/><path fill="none" stroke="#000" d="M856.4 1070.8 Q867.4 1069.6 878.4 1070.8" stroke-width="4.5" stroke-opacity="1.00"/><path fill="none" stroke="#000" d="M858.6 897.3 Q867.4 896.3 876.1 897.3" stroke-width="13.5" stroke-opacity="1.00"/><path fill="none" stroke="#000" d="M858.6 897.3 Q867.4 896.3 876.1 897.3" stroke-width="9.5" stroke-opacity="1.00"/><path fill="none" stroke="#000" d="M901.2 1065.1 Q910.2 1061.5 919.2 1065.1" stroke-width="13" stroke-opacity="1.00"/><path fill="none" stroke="#000" d="M901.2 1065.1 Q910.2 1061.5 919.2 1065.1" stroke-width="9" stroke-opacity="1.00"/></g>
<rect x="541.6" y="850.2" width="386.3" height="480.5" filter="url(#grain)" opacity="0.06"/>
</g>
<rect x="1147.9" y="218.5" width="1.5" height="19.8" fill="#111"/>
<rect x="1141.2" y="217.7" width="15" height="1.7" fill="#111"/>
<rect x="1116.5" y="511" width="14.5" height="1.1" fill="#000"/>
<rect x="1138" y="238.2" width="21.3" height="273.9" fill="#bebebe" stroke="#000" stroke-width="1.8"/>
<rect x="1139.5" y="239.7" width="18.3" height="271.8" fill="none" stroke="#dcdcdc" stroke-width="1.1"/>
<rect x="1228.7" y="204.4" width="1.5" height="14.3" fill="#111"/>
<rect x="1222" y="203.6" width="15" height="1.7" fill="#111"/>
<rect x="1194.5" y="509.8" width="20.5" height="2.3" fill="#000"/>
<rect x="1218.9" y="218.6" width="21.1" height="293.5" fill="#bebebe" stroke="#000" stroke-width="1.8"/>
<rect x="1220.4" y="220.1" width="18.1" height="291.4" fill="none" stroke="#dcdcdc" stroke-width="1.1"/>
<rect x="1285" y="436.2" width="1.5" height="33.3" fill="#111"/>
<rect x="1278.2" y="435.3" width="15" height="1.7" fill="#111"/>
<rect x="1309.5" y="194.5" width="1.5" height="14.5" fill="#111"/>
<rect x="1302.8" y="193.7" width="15" height="1.7" fill="#111"/>
<rect x="1274.4" y="468.5" width="22.6" height="43.6" fill="#000"/>
<rect x="1276.6" y="470.7" width="18.2" height="40.4" fill="none" stroke="#2a2a2a" stroke-width="0.8"/>
<rect x="1299.6" y="208.9" width="21.3" height="303.2" fill="#bebebe" stroke="#000" stroke-width="1.8"/>
<rect x="1301.1" y="210.4" width="18.3" height="301.1" fill="none" stroke="#dcdcdc" stroke-width="1.1"/>
<rect x="1366" y="339.2" width="1.5" height="64.7" fill="#111"/>
<rect x="1359.2" y="338.3" width="15" height="1.7" fill="#111"/>
<rect x="1390.7" y="190" width="1.5" height="21.2" fill="#111"/>
<rect x="1383.9" y="189.2" width="15" height="1.7" fill="#111"/>
<rect x="1355.8" y="402.9" width="21.9" height="109.2" fill="#000"/>
<rect x="1358" y="405.1" width="17.5" height="106" fill="none" stroke="#2a2a2a" stroke-width="0.8"/>
<rect x="1381" y="211.1" width="20.9" height="301" fill="#bebebe" stroke="#000" stroke-width="1.8"/>
<rect x="1382.5" y="212.6" width="17.9" height="298.9" fill="none" stroke="#dcdcdc" stroke-width="1.1"/>
<rect x="1446.8" y="310" width="1.5" height="49.5" fill="#111"/>
<rect x="1440.1" y="309.1" width="15" height="1.7" fill="#111"/>
<rect x="1471.7" y="196.7" width="1.5" height="13.1" fill="#111"/>
<rect x="1465" y="195.8" width="15" height="1.7" fill="#111"/>
<rect x="1436.8" y="358.5" width="21.6" height="153.6" fill="#000"/>
<rect x="1439" y="360.7" width="17.2" height="150.4" fill="none" stroke="#2a2a2a" stroke-width="0.8"/>
<rect x="1462.1" y="209.7" width="20.7" height="302.4" fill="#bebebe" stroke="#000" stroke-width="1.8"/>
<rect x="1463.6" y="211.2" width="17.7" height="300.3" fill="none" stroke="#dcdcdc" stroke-width="1.1"/>
<rect x="1528" y="224.2" width="1.5" height="80.7" fill="#111"/>
<rect x="1521.2" y="223.3" width="15" height="1.7" fill="#111"/>
<rect x="1552.6" y="199" width="1.5" height="18.3" fill="#111"/>
<rect x="1545.8" y="198.2" width="15" height="1.7" fill="#111"/>
<rect x="1518" y="303.9" width="21.5" height="208.2" fill="#000"/>
<rect x="1520.2" y="306.1" width="17.1" height="205" fill="none" stroke="#2a2a2a" stroke-width="0.8"/>
<rect x="1543.2" y="217.2" width="20.3" height="294.9" fill="#bebebe" stroke="#000" stroke-width="1.8"/>
<rect x="1544.7" y="218.7" width="17.3" height="292.8" fill="none" stroke="#dcdcdc" stroke-width="1.1"/>
<rect x="1608.8" y="180.2" width="1.5" height="36" fill="#111"/>
<rect x="1602.1" y="179.3" width="15" height="1.7" fill="#111"/>
<rect x="1633.2" y="216.6" width="1.5" height="9.1" fill="#111"/>
<rect x="1626.5" y="215.8" width="15" height="1.7" fill="#111"/>
<rect x="1598.7" y="215.2" width="21.8" height="296.9" fill="#000"/>
<rect x="1600.9" y="217.4" width="17.4" height="293.7" fill="none" stroke="#2a2a2a" stroke-width="0.8"/>
<rect x="1623.5" y="225.6" width="21" height="286.5" fill="#bebebe" stroke="#000" stroke-width="1.8"/>
<rect x="1625" y="227.1" width="18" height="284.4" fill="none" stroke="#dcdcdc" stroke-width="1.1"/>
<rect x="1689.5" y="197" width="1.5" height="39.4" fill="#111"/>
<rect x="1682.8" y="196.2" width="15" height="1.7" fill="#111"/>
<rect x="1714.2" y="239" width="1.5" height="13.3" fill="#111"/>
<rect x="1707.5" y="238.2" width="15" height="1.7" fill="#111"/>
<rect x="1679.3" y="235.4" width="21.9" height="276.7" fill="#000"/>
<rect x="1681.5" y="237.6" width="17.5" height="273.5" fill="none" stroke="#2a2a2a" stroke-width="0.8"/>
<rect x="1704.3" y="252.2" width="21.4" height="259.9" fill="#bebebe" stroke="#000" stroke-width="1.8"/>
<rect x="1705.8" y="253.7" width="18.4" height="257.8" fill="none" stroke="#dcdcdc" stroke-width="1.1"/>
<rect x="1094.9" y="58.7" width="1.8" height="454.3" fill="#3c3c3c"/>
<rect x="1094.9" y="511.2" width="649.3" height="1.8" fill="#3c3c3c"/>
<rect x="1088.4" y="511.2" width="7.4" height="1.9" fill="#111"/>
<text x="1083.5" y="519.4" font-size="22.5" text-anchor="end" fill="#1c1c1c">0.0</text>
<rect x="1088.4" y="420.6" width="7.4" height="1.9" fill="#111"/>
<text x="1083.5" y="428.3" font-size="22.5" text-anchor="end" fill="#1c1c1c">0.2</text>
<rect x="1088.4" y="330.1" width="7.4" height="1.9" fill="#111"/>
<text x="1083.5" y="337.3" font-size="22.5" text-anchor="end" fill="#1c1c1c">0.4</text>
<rect x="1088.4" y="239.6" width="7.4" height="1.9" fill="#111"/>
<text x="1083.5" y="246.2" font-size="22.5" text-anchor="end" fill="#1c1c1c">0.6</text>
<rect x="1088.4" y="149.1" width="7.4" height="1.9" fill="#111"/>
<text x="1083.5" y="155.2" font-size="22.5" text-anchor="end" fill="#1c1c1c">0.8</text>
<rect x="1088.4" y="58.5" width="7.4" height="1.9" fill="#111"/>
<text x="1083.5" y="64.2" font-size="22.5" text-anchor="end" fill="#1c1c1c">1.0</text>
<rect x="1135.5" y="512.1" width="1.8" height="7.2" fill="#222"/>
<rect x="1216" y="512.1" width="1.8" height="7.2" fill="#222"/>
<rect x="1297.1" y="512.1" width="1.8" height="7.2" fill="#222"/>
<rect x="1378" y="512.1" width="1.8" height="7.2" fill="#222"/>
<rect x="1458.5" y="512.1" width="1.8" height="7.2" fill="#222"/>
<rect x="1539.5" y="512.1" width="1.8" height="7.2" fill="#222"/>
<rect x="1620.8" y="512.1" width="1.8" height="7.2" fill="#222"/>
<rect x="1701.7" y="512.1" width="1.8" height="7.2" fill="#222"/>
<text transform="translate(1143.1 558.2) rotate(-90) scale(1.000 1)" font-size="22.5" fill="#1c1c1c">0.0</text>
<text transform="translate(1224.4 558.2) rotate(-90) scale(1.000 1)" font-size="22.5" fill="#1c1c1c">0.1</text>
<text transform="translate(1305.7 558.2) rotate(-90) scale(1.000 1)" font-size="22.5" fill="#1c1c1c">0.2</text>
<text transform="translate(1386.9 558.2) rotate(-90) scale(1.000 1)" font-size="22.5" fill="#1c1c1c">0.3</text>
<text transform="translate(1468.2 558.2) rotate(-90) scale(1.000 1)" font-size="22.5" fill="#1c1c1c">0.4</text>
<text transform="translate(1549.5 558.2) rotate(-90) scale(1.000 1)" font-size="22.5" fill="#1c1c1c">0.5</text>
<text transform="translate(1630.8 558.2) rotate(-90) scale(1.000 1)" font-size="22.5" fill="#1c1c1c">1.0</text>
<text transform="translate(1712.1 558.2) rotate(-90) scale(1.000 1)" font-size="22.5" fill="#1c1c1c">10</text>
<text transform="translate(1039.2 297.6) rotate(-90) scale(1.030 1)" font-size="24" text-anchor="middle" fill="#1c1c1c">fraction of FL product</text>
<text x="1369.1" y="602.1" font-size="24" fill="#1c1c1c">[</text>
<text x="1376.3" y="602.1" font-size="24" fill="#1c1c1c">Mn</text>
<text transform="translate(1413.9 592.7) scale(1.050 1)" font-size="19" fill="#1c1c1c">2+</text>
<text x="1438.9" y="602.1" font-size="24" fill="#1c1c1c">]</text>
<text transform="translate(1460.5 602.1) scale(1.060 1)" font-size="24" fill="#1c1c1c">(mM)</text>
<rect x="1306.5" y="70.2" width="40.8" height="13.2" fill="#bebebe" stroke="#000" stroke-width="1.5"/>
<rect x="1307.8" y="71.6" width="38.1" height="10.5" fill="none" stroke="#dcdcdc" stroke-width="1.1"/>
<rect x="1445.4" y="70.8" width="42" height="14.2" fill="#000"/>
<rect x="1447.6" y="73" width="37.6" height="9.8" fill="none" stroke="#2e2e2e" stroke-width="0.8"/>
<text transform="translate(1359.2 86) scale(1.080 1)" font-size="23.3" fill="#1c1c1c">ND</text>
<text transform="translate(1495.6 86) scale(1.070 1)" font-size="23.3" fill="#1c1c1c">CPD</text>
<rect x="1110.1" y="958.8" width="1.5" height="67.3" fill="#111"/>
<rect x="1103.8" y="957.9" width="14" height="1.7" fill="#111"/>
<rect x="1134.9" y="890" width="1.5" height="33" fill="#111"/>
<rect x="1128.7" y="889.1" width="14" height="1.7" fill="#111"/>
<rect x="1100.2" y="1025.1" width="21.3" height="204.8" fill="#000"/>
<rect x="1102.4" y="1027.3" width="16.9" height="201.6" fill="none" stroke="#2a2a2a" stroke-width="0.8"/>
<rect x="1124.8" y="922.6" width="21.9" height="307.3" fill="#bebebe" stroke="#000" stroke-width="1.3"/>
<rect x="1126" y="923.9" width="19.4" height="305.4" fill="none" stroke="#dcdcdc" stroke-width="1.1"/>
<rect x="1191.7" y="977.6" width="1.5" height="53.3" fill="#111"/>
<rect x="1185.4" y="976.8" width="14" height="1.7" fill="#111"/>
<rect x="1216.7" y="849.4" width="1.5" height="81.7" fill="#111"/>
<rect x="1210.4" y="848.5" width="14" height="1.7" fill="#111"/>
<rect x="1181.6" y="1029.9" width="21.7" height="200" fill="#000"/>
<rect x="1183.8" y="1032.1" width="17.3" height="196.8" fill="none" stroke="#2a2a2a" stroke-width="0.8"/>
<rect x="1207" y="930.8" width="21" height="299.2" fill="#bebebe" stroke="#000" stroke-width="1.3"/>
<rect x="1208.2" y="932" width="18.5" height="297.3" fill="none" stroke="#dcdcdc" stroke-width="1.1"/>
<rect x="1273.1" y="978" width="1.5" height="36" fill="#111"/>
<rect x="1266.8" y="977.1" width="14" height="1.7" fill="#111"/>
<rect x="1298" y="881.1" width="1.5" height="43" fill="#111"/>
<rect x="1291.8" y="880.2" width="14" height="1.7" fill="#111"/>
<rect x="1263" y="1013" width="21.7" height="216.9" fill="#000"/>
<rect x="1265.2" y="1015.2" width="17.3" height="213.7" fill="none" stroke="#2a2a2a" stroke-width="0.8"/>
<rect x="1288.2" y="923.8" width="21.3" height="306.2" fill="#bebebe" stroke="#000" stroke-width="1.3"/>
<rect x="1289.4" y="925" width="18.8" height="304.3" fill="none" stroke="#dcdcdc" stroke-width="1.1"/>
<rect x="1355" y="985.7" width="1.5" height="36.3" fill="#111"/>
<rect x="1348.8" y="984.9" width="14" height="1.7" fill="#111"/>
<rect x="1379.7" y="881.1" width="1.5" height="40.1" fill="#111"/>
<rect x="1373.4" y="880.2" width="14" height="1.7" fill="#111"/>
<rect x="1345.1" y="1021" width="21.4" height="208.9" fill="#000"/>
<rect x="1347.3" y="1023.2" width="17" height="205.7" fill="none" stroke="#2a2a2a" stroke-width="0.8"/>
<rect x="1369.9" y="920.9" width="21.1" height="309.1" fill="#bebebe" stroke="#000" stroke-width="1.3"/>
<rect x="1371.1" y="922.1" width="18.6" height="307.2" fill="none" stroke="#dcdcdc" stroke-width="1.1"/>
<rect x="1436.1" y="981.3" width="1.5" height="36.7" fill="#111"/>
<rect x="1429.8" y="980.4" width="14" height="1.7" fill="#111"/>
<rect x="1461.2" y="881.5" width="1.5" height="40.7" fill="#111"/>
<rect x="1454.9" y="880.6" width="14" height="1.7" fill="#111"/>
<rect x="1425.8" y="1017" width="22.1" height="212.9" fill="#000"/>
<rect x="1428" y="1019.2" width="17.7" height="209.7" fill="none" stroke="#2a2a2a" stroke-width="0.8"/>
<rect x="1451.5" y="921.9" width="20.9" height="308.1" fill="#bebebe" stroke="#000" stroke-width="1.3"/>
<rect x="1452.7" y="923.1" width="18.4" height="306.2" fill="none" stroke="#dcdcdc" stroke-width="1.1"/>
<rect x="1517.8" y="1007.8" width="1.5" height="36" fill="#111"/>
<rect x="1511.5" y="1006.9" width="14" height="1.7" fill="#111"/>
<rect x="1542.9" y="879.6" width="1.5" height="32.3" fill="#111"/>
<rect x="1536.7" y="878.8" width="14" height="1.7" fill="#111"/>
<rect x="1507.5" y="1042.8" width="22.1" height="187.1" fill="#000"/>
<rect x="1509.7" y="1045" width="17.7" height="183.9" fill="none" stroke="#2a2a2a" stroke-width="0.8"/>
<rect x="1533.2" y="911.5" width="20.9" height="318.4" fill="#bebebe" stroke="#000" stroke-width="1.3"/>
<rect x="1534.5" y="912.8" width="18.4" height="316.5" fill="none" stroke="#dcdcdc" stroke-width="1.1"/>
<rect x="1599.5" y="971" width="1.5" height="44" fill="#111"/>
<rect x="1593.3" y="970.1" width="14" height="1.7" fill="#111"/>
<rect x="1624.6" y="879.3" width="1.5" height="41.5" fill="#111"/>
<rect x="1618.3" y="878.4" width="14" height="1.7" fill="#111"/>
<rect x="1589.6" y="1014" width="21.4" height="215.9" fill="#000"/>
<rect x="1591.8" y="1016.2" width="17" height="212.7" fill="none" stroke="#2a2a2a" stroke-width="0.8"/>
<rect x="1614.9" y="920.4" width="21" height="309.5" fill="#bebebe" stroke="#000" stroke-width="1.3"/>
<rect x="1616.1" y="921.7" width="18.5" height="307.6" fill="none" stroke="#dcdcdc" stroke-width="1.1"/>
<rect x="1681.3" y="1157.7" width="1.5" height="30.8" fill="#111"/>
<rect x="1675.1" y="1156.9" width="14" height="1.7" fill="#111"/>
<rect x="1706.1" y="883.7" width="1.5" height="30.4" fill="#111"/>
<rect x="1699.8" y="882.9" width="14" height="1.7" fill="#111"/>
<rect x="1671.4" y="1187.5" width="21.4" height="42.4" fill="#000"/>
<rect x="1673.6" y="1189.7" width="17" height="39.2" fill="none" stroke="#2a2a2a" stroke-width="0.8"/>
<rect x="1696.4" y="913.8" width="20.9" height="316.2" fill="#bebebe" stroke="#000" stroke-width="1.3"/>
<rect x="1697.6" y="915" width="18.4" height="314.3" fill="none" stroke="#dcdcdc" stroke-width="1.1"/>
<rect x="1081.5" y="772" width="1.8" height="458.8" fill="#3c3c3c"/>
<rect x="1081.5" y="1229" width="653.7" height="1.8" fill="#3c3c3c"/>
<rect x="1075" y="1229" width="7.4" height="1.9" fill="#111"/>
<text x="1068.3" y="1235.4" font-size="22.5" text-anchor="end" fill="#1c1c1c">0.0</text>
<rect x="1075" y="1137.5" width="7.4" height="1.9" fill="#111"/>
<text x="1068.3" y="1144.4" font-size="22.5" text-anchor="end" fill="#1c1c1c">0.2</text>
<rect x="1075" y="1046.1" width="7.4" height="1.9" fill="#111"/>
<text x="1068.3" y="1053.3" font-size="22.5" text-anchor="end" fill="#1c1c1c">0.4</text>
<rect x="1075" y="954.7" width="7.4" height="1.9" fill="#111"/>
<text x="1068.3" y="962.3" font-size="22.5" text-anchor="end" fill="#1c1c1c">0.6</text>
<rect x="1075" y="863.3" width="7.4" height="1.9" fill="#111"/>
<text x="1068.3" y="871.2" font-size="22.5" text-anchor="end" fill="#1c1c1c">0.8</text>
<rect x="1075" y="771.8" width="7.4" height="1.9" fill="#111"/>
<text x="1068.3" y="780.2" font-size="22.5" text-anchor="end" fill="#1c1c1c">1.0</text>
<rect x="1121.7" y="1229.9" width="1.8" height="7.2" fill="#222"/>
<rect x="1203.5" y="1229.9" width="1.8" height="7.2" fill="#222"/>
<rect x="1285" y="1229.9" width="1.8" height="7.2" fill="#222"/>
<rect x="1366.7" y="1229.9" width="1.8" height="7.2" fill="#222"/>
<rect x="1448.7" y="1229.9" width="1.8" height="7.2" fill="#222"/>
<rect x="1530.5" y="1229.9" width="1.8" height="7.2" fill="#222"/>
<rect x="1612" y="1229.9" width="1.8" height="7.2" fill="#222"/>
<rect x="1693.6" y="1229.9" width="1.8" height="7.2" fill="#222"/>
<text transform="translate(1131.4 1276.3) rotate(-90) scale(1.000 1)" font-size="22.5" fill="#1c1c1c">0.0</text>
<text transform="translate(1212.8 1276.3) rotate(-90) scale(1.000 1)" font-size="22.5" fill="#1c1c1c">0.1</text>
<text transform="translate(1294.3 1276.3) rotate(-90) scale(1.000 1)" font-size="22.5" fill="#1c1c1c">0.2</text>
<text transform="translate(1375.7 1276.3) rotate(-90) scale(1.000 1)" font-size="22.5" fill="#1c1c1c">0.3</text>
<text transform="translate(1457.2 1276.3) rotate(-90) scale(1.000 1)" font-size="22.5" fill="#1c1c1c">0.4</text>
<text transform="translate(1538.6 1276.3) rotate(-90) scale(1.000 1)" font-size="22.5" fill="#1c1c1c">0.5</text>
<text transform="translate(1620 1276.3) rotate(-90) scale(1.000 1)" font-size="22.5" fill="#1c1c1c">1.0</text>
<text transform="translate(1701.5 1276.3) rotate(-90) scale(1.000 1)" font-size="22.5" fill="#1c1c1c">10</text>
<text transform="translate(1026.8 1010.7) rotate(-90) scale(1.030 1)" font-size="24" text-anchor="middle" fill="#1c1c1c">fraction of FL product</text>
<text x="1335.6" y="1321" font-size="24" fill="#1c1c1c">[</text>
<text x="1342.8" y="1321" font-size="24" fill="#1c1c1c">Mg</text>
<text transform="translate(1380.4 1311.6) scale(1.050 1)" font-size="19" fill="#1c1c1c">2+</text>
<text x="1405.4" y="1321" font-size="24" fill="#1c1c1c">]</text>
<text transform="translate(1427 1321) scale(1.060 1)" font-size="24" fill="#1c1c1c">(mM)</text>
<rect x="1312" y="783.1" width="39.8" height="13" fill="#bebebe" stroke="#000" stroke-width="1.5"/>
<rect x="1313.3" y="784.5" width="37.1" height="10.3" fill="none" stroke="#dcdcdc" stroke-width="1.1"/>
<rect x="1450.5" y="783.6" width="41.1" height="13.8" fill="#000"/>
<rect x="1452.7" y="785.8" width="36.7" height="9.4" fill="none" stroke="#2e2e2e" stroke-width="0.8"/>
<text transform="translate(1361.3 799) scale(1.080 1)" font-size="23.3" fill="#1c1c1c">ND</text>
<text transform="translate(1498.8 799) scale(1.070 1)" font-size="23.3" fill="#1c1c1c">CPD</text>
</svg>
</body></html>
